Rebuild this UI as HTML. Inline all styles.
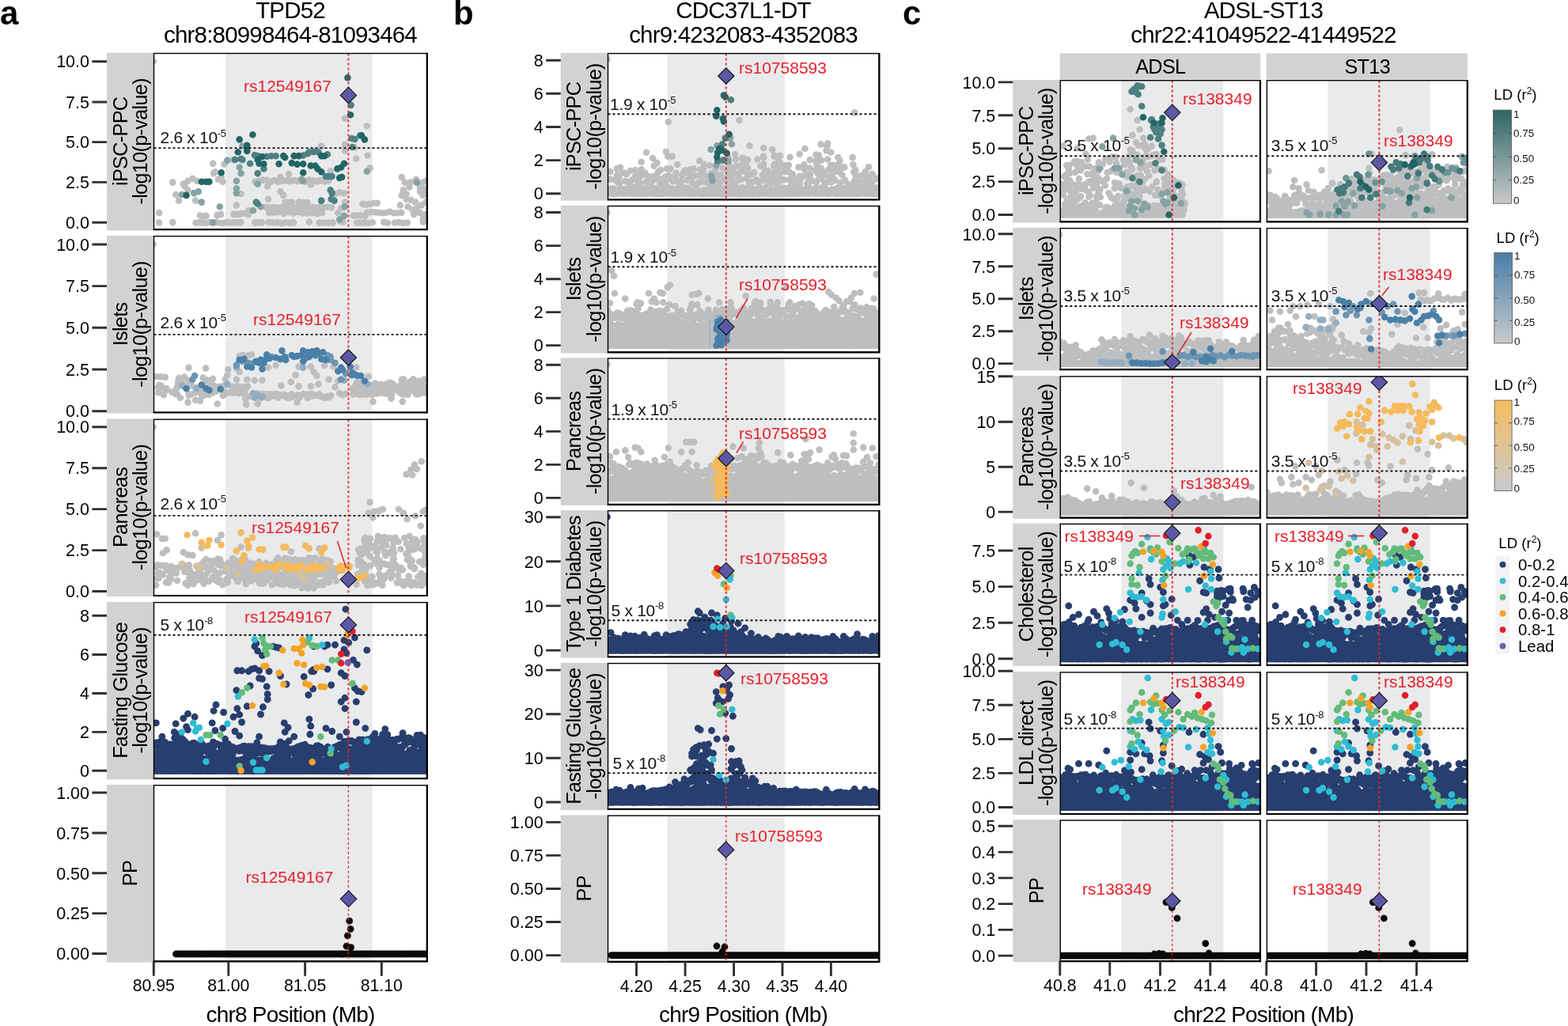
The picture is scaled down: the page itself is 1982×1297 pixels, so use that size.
<!DOCTYPE html>
<html lang="en"><head><meta charset="utf-8"><title>Colocalization locus plots</title>
<style>html,body{margin:0;padding:0;background:#fff;overflow:hidden}svg{display:block}text{font-family:"Liberation Sans",Arial,sans-serif}</style></head>
<body><svg width="1982" height="1297" viewBox="0 0 1982 1297">
<text x="0" y="31" font-size="42" font-weight="bold">a</text>
<text x="367" y="22.8" font-size="29.54" letter-spacing="-0.84" text-anchor="middle">TPD52</text>
<text x="367" y="54" font-size="29.54" letter-spacing="-0.84" text-anchor="middle">chr8:80998464-81093464</text>
<rect x="135" y="66.8" width="59.5" height="224.5" fill="#d1d2d4"/>
<text x="160.6" y="178.8" font-size="25.32" letter-spacing="-0.72" text-anchor="middle" transform="rotate(-90 160.6 178.8)">iPSC-PPC</text>
<text x="185.9" y="178.8" font-size="25.32" letter-spacing="-0.72" text-anchor="middle" transform="rotate(-90 185.9 178.8)">-log10(p-value)</text>
<path d="M116.4 77.7h18.6M116.4 129h18.6M116.4 179.6h18.6M116.4 230.4h18.6M116.4 281.2h18.6" stroke="#303030" stroke-width="2.9" fill="none"/>
<text x="113" y="85.4" font-size="21.5" text-anchor="end">10.0</text>
<text x="113" y="136.7" font-size="21.5" text-anchor="end">7.5</text>
<text x="113" y="187.3" font-size="21.5" text-anchor="end">5.0</text>
<text x="113" y="238.1" font-size="21.5" text-anchor="end">2.5</text>
<text x="113" y="288.9" font-size="21.5" text-anchor="end">0.0</text>
<clipPath id="c1"><rect x="194.5" y="67.5" width="345.5" height="222.5"/></clipPath>
<rect x="285" y="67.5" width="185.7" height="222.5" fill="#e9eaeb"/>
<g clip-path="url(#c1)" fill="none" stroke-linecap="round">
<path d="M193.8 77.6h0M247.4 281.8h0M251.8 281.2h0M256.1 281.4h0M260.5 281.8h0M264.9 280.9h0M269.3 281.4h0M273.7 280.9h0M278.1 281.7h0M282.4 282h0M286.8 280.9h0M291.2 281.5h0M295.6 281.3h0M300 281.4h0M304.3 281.1h0M201.1 281.4h0M218.3 281.1h0M201.1 269h0M322.2 281.4h0M326.7 281.1h0M331.1 281.4h0M339.8 280.9h0M345 281.5h0M350.2 281.1h0M355.4 281.9h0M360.6 281.3h0M365.8 281.7h0M371 281.4h0M390.9 280.5h0M403.4 281.6h0M409.1 281.5h0M414.9 281.8h0M420.6 281.5h0M430.7 280.2h0M433.6 280.4h0M450.9 281.5h0M455.9 281.6h0M460.9 281.4h0M465.9 281.8h0M470.8 281.3h0M485.3 280.9h0M490.1 281.7h0M499 281.5h0M504.3 281.1h0M509.5 282h0M514.8 281.5h0M534.7 280.5h0M252.9 272.4h0M256.7 273.5h0M260.5 272.8h0M274.4 271.9h0M279.2 271.1h0M295.4 270.9h0M300 270.7h0M304.6 270h0M309.2 269.7h0M313.8 271.1h0M335.8 261.7h0M340.7 262.2h0M345.6 262h0M350.5 262.5h0M355.4 262.2h0M360.3 261.8h0M365.2 262.4h0M370.1 262.8h0M375 262.9h0M379.9 262.9h0M384.8 261.5h0M389.7 261.3h0M394.6 261.8h0M399.5 262.5h0M404.4 261.4h0M409.3 262.3h0M414.2 261.8h0M419.1 262.2h0M340.3 268.9h0M346.3 268.7h0M352.4 268.3h0M358.5 269.9h0M364.5 268.3h0M370.6 269.7h0M376.7 267.9h0M382.7 269.5h0M388.8 269.5h0M394.9 269.1h0M401 270.1h0M407 269h0M360.5 255.8h0M365 255.7h0M369.5 255.8h0M378.1 255.3h0M383.2 256.1h0M388.3 256.1h0M339.1 251.7h0M354.5 242.1h0M358.3 246.9h0M338.2 235.4h0M392.8 233.5h0M322.4 229.7h0M327.3 228.5h0M332.2 227.6h0M337.1 227.7h0M342 229.8h0M346.8 228h0M351.7 229.8h0M356.6 228.7h0M361.5 228.4h0M366.4 229.1h0M371.3 228h0M376.2 229.1h0M381.1 228.7h0M386 229.6h0M390.8 227.6h0M395.7 228.3h0M400.6 229.4h0M405.5 228.1h0M410.4 229.5h0M415.3 228.4h0M354.5 223.9h0M365 220.1h0M365 227.8h0M417.7 216.3h0M218.3 230.6h0M231.8 232.6h0M237.5 228.7h0M243.3 225.8h0M249 228.7h0M237.5 240.2h0M233.7 235.4h0M222.2 246h0M226 253.6h0M247.1 253.6h0M270.1 219.1h0M275.9 226.8h0M281.6 229.7h0M269.2 206.7h0M283.5 207.6h0M287.4 202.8h0M295 201.9h0M272 217.2h0M279.7 223.9h0M507.8 223.9h0M526.1 226.8h0M511.7 230.6h0M519.4 230.3h0M527 231h0M534.7 230.6h0M538.5 228.7h0M509.8 240.2h0M517.4 236.4h0M530.9 237.3h0M536.6 239.3h0M507.8 246.9h0M513.6 245h0M530.9 242.1h0M534.7 246.9h0M538.5 244.1h0M513.6 251.7h0M525.1 255.6h0M519.4 252.7h0M505.9 259.4h0M515.5 261.3h0M527 263.2h0M532.8 259.4h0M538.5 255.6h0M523.2 270.9h0M534.7 276.6h0M530.9 269h0M538.5 270.9h0M521.3 265.1h0M463.8 159.3h0M450.3 200.5h0M464.7 196.5h0M467.6 212.4h0M436 149.7h0M436 182.7h0M436 190.4h0M406.2 184.6h0M448.4 186.5h0M429.2 243.1h0M435 244.1h0M423.5 245h0M436 255.6h0M458.4 257.9h0M463 258.6h0M467.6 258h0M472.2 256.7h0M476.8 256.8h0M464.2 268.8h0M469 268.3h0M473.8 268.2h0M478.6 268.8h0M483.4 269.3h0M488.2 268.7h0M493 267.7h0M497.8 269.3h0M502.6 269.2h0M507.4 268.8h0M447 272.6h0M451.8 272.3h0M456.6 272.4h0M461.4 272.9h0M298.9 259.4h0M304.6 245h0M302.7 270.9h0M314.2 266.1h0M427.3 269h0M431.2 263.2h0" stroke="#bdbec0" stroke-width="8.6"/>
<path d="M306.5 184.6h0M463.8 216.8h0M229.8 246h0M245.2 244.1h0M250.9 242.1h0M254.8 255.6h0M277.8 261.3h0M298.9 228.7h0M304.6 219.1h0M302.7 211.5h0M325.7 232.6h0M298.9 238.3h0M298.9 244.1h0M329.5 261.3h0M320 266.1h0M436 261.3h0M435 272.8h0M429.2 277.6h0M269.2 281.4h0M527 230.6h0M287.4 202.8h0M381.3 226.8h0M383.2 228.7h0" stroke="#86a3a4" stroke-width="8.6"/>
<path d="M443.6 132.9h0M304.6 200.9h0M297 201.9h0M306.5 201.9h0M321.9 196.1h0M325.7 197.1h0M337.2 197.7h0M343 197.3h0M348.7 197.3h0M383.2 196.5h0M389 194.2h0M390.9 192.3h0M396.6 191.9h0M402.4 192.3h0M413.9 195.2h0M415.8 223h0M419.7 223h0M412 223h0M444.6 175h0M448.4 176h0M445.5 186h0M325.7 219.1h0M333.4 213.4h0M316.1 206.7h0M417.7 240.2h0M419.7 244.1h0M406.2 253.6h0M418.7 251.7h0M422.5 253.6h0M323.8 255.6h0M325.7 257.5h0M455.1 171.2h0" stroke="#4d8081" stroke-width="8.6"/>
<path d="M439.4 98.3h0M443 145.3h0M319.4 170.2h0M302.7 176.4h0M312.3 183.7h0M300.8 192.3h0M312.3 190.9h0M358.3 197.1h0M360.2 199h0M371.7 197.1h0M377.5 197.1h0M406.2 197.1h0M410.1 197.3h0M327.6 206.7h0M333.4 207.2h0M352.6 207.2h0M368.8 206.1h0M375.6 207.6h0M383.2 207.2h0M392.8 209.5h0M398.6 209.5h0M401.4 213.4h0M406.2 217.2h0M383.2 218.2h0M435 206.7h0M431.2 211.5h0M426.4 213.4h0M432.1 223.9h0M429.2 224.9h0M457 171.2h0M460.9 176.4h0M279.7 218.2h0M254.8 229.7h0M260.5 229.7h0M264.4 229.7h0M235.6 246.9h0M325.7 201.9h0M331.5 198h0" stroke="#226565" stroke-width="8.6"/>
</g>
<line x1="194.5" y1="187.1" x2="540" y2="187.1" stroke="#111" stroke-width="1.9" stroke-dasharray="3 3"/>
<line x1="440.4" y1="67.5" x2="440.4" y2="290" stroke="#e8202a" stroke-width="1.8" stroke-dasharray="3 3"/>
<path clip-path="url(#c1)" d="M440.4 110.2l10.2 10.2l-10.2 10.2l-10.2 -10.2z" fill="#5d58a6" stroke="#111" stroke-width="1.1"/>
<text x="202.5" y="181.2" font-size="21" letter-spacing="-0.3" fill="#111">2.6 x 10<tspan font-size="13" dy="-8.5">-5</tspan></text>
<text x="308" y="116" font-size="21" fill="#e8202a">rs12549167</text>
<rect x="194.5" y="67.5" width="345.5" height="222.5" fill="none" stroke="#000" stroke-width="1.4"/>
<path d="M193.8 290.2H539.8V66.8" fill="none" stroke="#000" stroke-width="2.2"/>
<rect x="135" y="297.9" width="59.5" height="224.7" fill="#d1d2d4"/>
<text x="160.6" y="409.9" font-size="25.32" letter-spacing="-0.72" text-anchor="middle" transform="rotate(-90 160.6 409.9)">Islets</text>
<text x="185.9" y="409.9" font-size="25.32" letter-spacing="-0.72" text-anchor="middle" transform="rotate(-90 185.9 409.9)">-log10(p-value)</text>
<path d="M116.4 309h18.6M116.4 361.6h18.6M116.4 414.3h18.6M116.4 467h18.6M116.4 519.7h18.6" stroke="#303030" stroke-width="2.9" fill="none"/>
<text x="113" y="316.7" font-size="21.5" text-anchor="end">10.0</text>
<text x="113" y="369.3" font-size="21.5" text-anchor="end">7.5</text>
<text x="113" y="422" font-size="21.5" text-anchor="end">5.0</text>
<text x="113" y="474.7" font-size="21.5" text-anchor="end">2.5</text>
<text x="113" y="527.4" font-size="21.5" text-anchor="end">0.0</text>
<clipPath id="c2"><rect x="194.5" y="298.6" width="345.5" height="222.7"/></clipPath>
<rect x="285" y="298.6" width="185.7" height="222.7" fill="#e9eaeb"/>
<g clip-path="url(#c2)" fill="none" stroke-linecap="round">
<path d="M193.8 308.8h0M197.3 476h0M203 476.4h0M208.8 476.9h0M309.1 499.2h0M203.9 487.7h0M295 496.4h0M275.6 490.7h0M268.1 494.7h0M265.2 488.6h0M247.6 491.8h0M281.8 499.9h0M308.3 493.8h0M249.3 490.1h0M201.5 486.9h0M251.6 490.8h0M241.7 498.5h0M258.7 494h0M224.9 486.8h0M235.3 488.4h0M256.9 499.9h0M276.1 489h0M301.8 497.2h0M283.1 498.7h0M286.5 497.1h0M238.6 499.7h0M309.8 488.7h0M285.4 496.1h0M251.2 493.6h0M254.6 498.9h0M255.8 497.7h0M238.6 498.4h0M302.5 492.7h0M263.6 498.9h0M281.9 493h0M223.2 490.9h0M279.1 488.7h0M303.4 490.1h0M303.8 490.7h0M309.2 496h0M256.2 493.5h0M273.4 494.4h0M233.7 489.3h0M257.1 499.1h0M270.1 487.5h0M293.2 496.3h0M303.4 489.1h0M284.4 487.3h0M273.6 490.2h0M223.8 498.3h0M209.7 493.5h0M297.1 489.8h0M221.9 498.3h0M246.7 496.1h0M201 491.4h0M217.4 495.5h0M207 499.3h0M200.2 496.3h0M199.7 489.9h0M292.4 488.6h0M218.7 495.8h0M242.3 487.1h0M313 488.6h0M201.5 491.1h0M269.2 496.5h0M210.5 491h0M200.9 492.5h0M286.8 496.4h0M302.7 496.7h0M298.1 496h0M252.5 489.5h0M274.5 490.8h0M209.2 492.5h0M299.6 488.2h0M261.1 480.5h0M256.7 477.6h0M284.8 479h0M262.4 480.8h0M225.2 482.4h0M233 476.6h0M226.2 477.8h0M230.2 483.3h0M256.3 487.3h0M283.2 487.4h0M238.8 481.1h0M240 482.8h0M263.6 485.2h0M269 478.9h0M369.9 500.7h0M333.8 498h0M368.6 498.4h0M395.8 499.1h0M342 498.8h0M353.4 499h0M378.3 500.3h0M360.1 501.3h0M351.7 502.7h0M416.5 501.7h0M370.8 500.6h0M383.5 498.1h0M369.4 500.6h0M349 498.3h0M402.6 499.8h0M378.2 502.8h0M386.1 499.4h0M418.2 499.8h0M335 501.5h0M342.1 499.5h0M405.9 501.4h0M334.7 500.3h0M368.8 500.4h0M351.3 501h0M339.7 499.4h0M365.6 502.9h0M340 501.9h0M350 500.9h0M367.2 500.3h0M398.4 500h0M343.9 498.5h0M340.3 502.4h0M388.7 503h0M393.1 498h0M390.2 502h0M395.8 500.5h0M364.2 500.3h0M402.3 499.3h0M378.8 500.4h0M415.7 502.1h0M413.8 502.3h0M359 499.1h0M375.6 499.2h0M370.3 501.5h0M412.6 501h0M403.9 498.3h0M364.1 503.2h0M346 500.1h0M339.1 498.3h0M410.6 503.1h0M389.3 498.5h0M359 499.1h0M391.2 501.5h0M371.2 500.6h0M343 500.7h0M337.9 502.9h0M316.6 501h0M332 499h0M336.5 500.6h0M331.7 500.2h0M339 503.1h0M328.5 498.2h0M325.2 497.3h0M329 503.8h0M318.7 501h0M489.9 489.8h0M511.3 498.3h0M510.8 490.9h0M535 488.6h0M514.6 493.9h0M516.1 497h0M465.7 493.3h0M482.4 494h0M536.4 493.5h0M445.7 490.7h0M511.4 497.5h0M505.7 496.4h0M446.2 498.4h0M513.1 493h0M529.6 497.5h0M454 496.4h0M516.6 486.5h0M514.5 492.7h0M462.6 496.2h0M457.5 493.1h0M485.4 487.3h0M497.8 490.8h0M463.8 498.8h0M451.4 483.3h0M490.2 496.7h0M506.4 495.4h0M490.1 494.1h0M476 487.6h0M491.8 483.7h0M452.1 495.4h0M460.9 495.3h0M518.3 489.8h0M508 495.9h0M525.8 485.4h0M459.9 489.4h0M488.2 488h0M445.6 492.2h0M535.4 489.2h0M495.1 489.4h0M486.2 497.3h0M473.6 493.7h0M490 491.9h0M530.5 484.5h0M522 488.2h0M505.3 496.1h0M506 489.6h0M523.6 484.8h0M504.1 489.6h0M494.4 497h0M519.5 493.4h0M473.5 487h0M487.6 487h0M470.6 498.7h0M455.1 496.4h0M480.2 489.1h0M474.5 484.5h0M487.5 485.9h0M486.1 488h0M528.6 498.1h0M486.1 493.6h0M531.9 488.5h0M453.9 487.1h0M462.4 494.2h0M479.7 489h0M519.3 487h0M520.5 493.5h0M482.2 496.5h0M476.7 497.4h0M531.6 491.4h0M509.4 498.5h0M514.3 495.4h0M526.2 498.3h0M515.4 499h0M472 493.3h0M507.6 489.2h0M481.7 486.1h0M534.6 489h0M489.4 497.6h0M462.1 498.7h0M456.5 483.7h0M477.5 489h0M530.8 497.5h0M516.1 490.3h0M495.6 487.1h0M522.9 489.5h0M471.3 493.5h0M458.7 488.4h0M531.6 484.8h0M457.9 486.5h0M468.2 490h0M468.1 488.8h0M467.7 487.1h0M501.9 488.7h0M479.6 495.6h0M450.4 485.6h0M524.5 490.2h0M517.7 485.4h0M493.7 496.9h0M476.3 495.6h0M501.9 489.6h0M538.3 489.6h0M489.1 493.2h0M474.3 496.7h0M500.7 492.7h0M495.2 499.1h0M537.5 496.8h0M487.3 489.9h0M493.9 484h0M454.8 499.3h0M456.6 498.4h0M508.4 498h0M451.8 488.2h0M519.5 483.4h0M454.5 488.9h0M460.8 485.6h0M507.5 484.7h0M535.8 493.7h0M449.3 497.7h0M467.3 491h0M497.1 485.5h0M522.3 479.2h0M512.4 484.1h0M532.7 481.9h0M528.2 483.9h0M510.5 481.7h0M510.2 479.5h0M509.5 480.1h0M507.7 480.1h0M518.3 482.4h0M533.9 484h0M529.3 481.8h0M535.8 479.8h0M238.5 464.9h0M260.1 465.6h0M288.3 467.3h0M287.4 474.1h0M302.7 450.1h0M306.5 449.1h0M318 448.2h0M314.2 449.1h0M348.7 461.6h0M377.5 463.5h0M383.2 464.5h0M392.8 463.5h0M396.6 470.2h0M400.5 475h0M373.6 474.1h0M367.9 482.7h0M355.4 487.5h0M377.5 488.4h0M392.8 488.4h0M402.4 485.6h0M298.9 479.8h0M312.3 479.8h0M321.9 480.8h0M331.5 480.8h0M302.7 470.2h0M415.8 479.8h0M423.5 489.4h0M427.3 481.7h0M433.1 499h0M410.1 461.6h0M450.3 464.5h0M465.7 476h0M227.9 502.8h0M237.5 508.6h0M247.1 505.7h0M252.9 506.6h0M274.9 510.5h0M311.3 511.4h0M325.7 510.5h0M375.6 508.6h0M471.4 507.6h0M494.4 503.8h0M508.8 507.6h0M310.4 504.7h0M436.9 498h0M429.2 497.1h0M421.6 463.5h0M339.1 464.5h0" stroke="#bdbec0" stroke-width="8.6"/>
<path d="M229.8 487.5h0M248.1 491.3h0M287.4 485.6h0M298.9 464.5h0M320 497.1h0M325.7 499.9h0M331.5 501.9h0M321.9 502.8h0M464.7 485.6h0M383.2 464.5h0M435 480.8h0" stroke="#94adc2" stroke-width="8.6"/>
<path d="M298.9 461.6h0M306.5 456.8h0M314.2 458.7h0M321.9 457.8h0M343 451h0M417.7 454.9h0M423.5 458.7h0M413.9 449.1h0M417.7 451h0M436.9 472.1h0M246.1 475h0M243.3 479.8h0M452.2 475h0M431.2 479.8h0" stroke="#6c95b4" stroke-width="8.6"/>
<path d="M302.7 454.9h0M308.5 453.9h0M312.3 463.5h0M318 464.5h0M323.8 456.8h0M329.5 454.9h0M333.4 458.7h0M337.2 448.2h0M341 453h0M331.5 466.4h0M348.7 452h0M354.5 453.9h0M356.4 443.4h0M360.2 451h0M361.2 454.9h0M368.8 449.1h0M375.6 450.1h0M381.3 449.1h0M383.2 443.4h0M386.1 453h0M389 445.3h0M394.7 444.3h0M400.5 443.4h0M408.2 445.3h0M406.2 453.9h0M412 454.9h0M398.6 449.1h0M390.9 451h0M383.2 456.8h0M431.2 464.5h0M427.3 469.3h0M433.1 467.3h0M442.7 463.5h0M445.5 471.2h0M444.6 474.1h0M456.1 475h0M460.9 481.7h0M450.3 474.1h0M235.6 491.3h0M264.4 493.2h0M260.5 491.3h0M278.7 491.9h0M254.8 486.5h0M327.6 458.7h0M335.3 454.9h0M371.7 451h0M402.4 446.3h0" stroke="#4a80a8" stroke-width="8.6"/>
</g>
<line x1="194.5" y1="422.9" x2="540" y2="422.9" stroke="#111" stroke-width="1.9" stroke-dasharray="3 3"/>
<line x1="440.4" y1="298.6" x2="440.4" y2="521.3" stroke="#e8202a" stroke-width="1.8" stroke-dasharray="3 3"/>
<path clip-path="url(#c2)" d="M440.4 441.8l10.2 10.2l-10.2 10.2l-10.2 -10.2z" fill="#5d58a6" stroke="#111" stroke-width="1.1"/>
<text x="202.5" y="414.7" font-size="21" letter-spacing="-0.3" fill="#111">2.6 x 10<tspan font-size="13" dy="-8.5">-5</tspan></text>
<text x="320" y="411" font-size="21" fill="#e8202a">rs12549167</text>
<rect x="194.5" y="298.6" width="345.5" height="222.7" fill="none" stroke="#000" stroke-width="1.4"/>
<path d="M193.8 521.5H539.8V297.9" fill="none" stroke="#000" stroke-width="2.2"/>
<rect x="135" y="529.5" width="59.5" height="224.6" fill="#d1d2d4"/>
<text x="160.6" y="641.5" font-size="25.32" letter-spacing="-0.72" text-anchor="middle" transform="rotate(-90 160.6 641.5)">Pancreas</text>
<text x="185.9" y="641.5" font-size="25.32" letter-spacing="-0.72" text-anchor="middle" transform="rotate(-90 185.9 641.5)">-log10(p-value)</text>
<path d="M116.4 539.7h18.6M116.4 591.7h18.6M116.4 643.6h18.6M116.4 695.6h18.6M116.4 747.5h18.6" stroke="#303030" stroke-width="2.9" fill="none"/>
<text x="113" y="547.4" font-size="21.5" text-anchor="end">10.0</text>
<text x="113" y="599.4" font-size="21.5" text-anchor="end">7.5</text>
<text x="113" y="651.3" font-size="21.5" text-anchor="end">5.0</text>
<text x="113" y="703.3" font-size="21.5" text-anchor="end">2.5</text>
<text x="113" y="755.2" font-size="21.5" text-anchor="end">0.0</text>
<clipPath id="c3"><rect x="194.5" y="530.2" width="345.5" height="222.6"/></clipPath>
<rect x="285" y="530.2" width="185.7" height="222.6" fill="#e9eaeb"/>
<g clip-path="url(#c3)" fill="none" stroke-linecap="round">
<path d="M193.8 539.7h0M532.8 583.3h0M524.1 587.5h0M527 592.9h0M519.4 593.8h0M513.6 599.6h0M521.3 600.5h0M467.6 635h0M465.7 648.5h0M471.4 654.2h0M473.3 646.5h0M479.1 645.6h0M483.9 643.7h0M504 643.7h0M509.8 648.5h0M514.6 656.1h0M525.1 652.3h0M534.7 646.5h0M531.8 664.8h0M538.5 644.6h0M198.2 675.3h0M204.9 681h0M208.8 681h0M247.1 674.3h0M279.7 676.3h0M274.9 683h0M210.7 695.4h0M205.9 699.3h0M231.8 698.3h0M237.5 701.2h0M243.3 702.1h0M367.9 697.3h0M304.6 691.6h0M403.4 693.5h0M297.8 723.8h0M320.5 725.9h0M364.7 707.3h0M259 733.9h0M301.4 713.1h0M428.5 721.2h0M401 721.5h0M367 710.2h0M366.2 735h0M347 730.6h0M372.5 707.2h0M387.5 725.4h0M308.7 706.1h0M406 721.3h0M380.7 735.3h0M379.9 736.8h0M324.8 732.7h0M333.4 737.3h0M408.3 708.4h0M280.2 712.5h0M423.3 720.1h0M364.8 715.4h0M344.2 718.3h0M317.2 725.2h0M357.5 736.2h0M374.4 737.1h0M404.5 739.2h0M372.5 710.6h0M405.2 738.3h0M412.8 724.7h0M379.9 712.3h0M400.2 724.8h0M305.9 707.2h0M404 739.2h0M272 732.6h0M327.5 710.2h0M307.4 731.5h0M407.3 706.5h0M362.7 706.6h0M380.7 716.4h0M408.7 738.9h0M343.9 739.5h0M310.1 707.7h0M360.2 706.1h0M290.7 719.1h0M362 710.4h0M264 735h0M310.8 738.1h0M411.4 718.1h0M336.1 723h0M367.8 725.6h0M353.2 726.4h0M419 722.5h0M331.1 729.9h0M297.7 715.4h0M425.4 723h0M351.3 705.4h0M328.3 725h0M260.2 726.3h0M365.8 707.1h0M364.9 721.1h0M373.9 717.2h0M378.7 730.5h0M260.5 707.1h0M373.3 738.3h0M300 720.8h0M359 716.1h0M319.5 715.8h0M320.4 725.6h0M308.5 718h0M389.9 705.9h0M354.9 730.4h0M310.2 712.7h0M395.4 713.3h0M289 720h0M377.1 708.5h0M312.2 716.5h0M400.5 720.1h0M404.3 710.9h0M314.8 727.5h0M409.4 720.6h0M295.5 709.2h0M348.1 711.6h0M395.9 734h0M288.4 714.6h0M396 727.2h0M395.8 716.9h0M279.1 715.1h0M393.7 714.4h0M316.5 719.4h0M329.1 719.1h0M415.5 710.4h0M257.5 737.6h0M408.5 739.1h0M331.6 737.8h0M416.7 712.7h0M385.3 733.9h0M371.1 722.9h0M306.6 716.8h0M295.9 707.4h0M358.3 714.9h0M396.5 706.6h0M412.6 729h0M416.1 736h0M411.9 724.9h0M259 730.7h0M286.3 715.4h0M371.1 723.1h0M328.1 737.4h0M362.3 716.8h0M300.3 734.8h0M339 732h0M317.4 711.8h0M348.9 733.2h0M286.2 732.3h0M415.7 732.8h0M398.8 705.3h0M365.2 734.8h0M265.3 714.4h0M303 723.2h0M329.7 721.3h0M390.7 705.1h0M266.2 709.4h0M278.2 707.4h0M424.9 734.5h0M271.6 722.3h0M311.2 715.9h0M317.3 727.3h0M357.9 717.5h0M289.7 716.4h0M278 724.2h0M380.2 718.1h0M270.5 711.2h0M321.1 725.9h0M391.7 718.1h0M394.9 726.5h0M331.2 717.9h0M342.3 729.3h0M329.3 729h0M336.2 713.5h0M349.2 729h0M269 719.7h0M330.2 735.4h0M418.3 717.9h0M411.6 732.3h0M301.9 721h0M277.9 733.1h0M371 735.6h0M393.4 728.1h0M383.3 724.5h0M274.5 725.3h0M257.5 710h0M390.3 706.5h0M272.5 708.4h0M408.6 711.2h0M260.7 734.1h0M277.6 734.1h0M372.9 733.9h0M421 725h0M394.5 706.3h0M389.1 722.7h0M380.1 708.7h0M385.9 737.3h0M267.2 716.2h0M354 733.6h0M298.5 711.2h0M299.8 726.3h0M386.7 718.6h0M320.1 718.7h0M317.1 719.4h0M271.1 722.3h0M424.6 719.3h0M385.7 710.6h0M375.9 731.1h0M373 722.9h0M340.2 727.2h0M411.5 710.2h0M273.2 730.8h0M414.9 722.9h0M333.1 729.8h0M288.8 714.2h0M291.1 725.2h0M311 713h0M375.9 737.9h0M307.7 729.4h0M328 734.5h0M357.6 714.2h0M294.2 705.8h0M339.4 718.2h0M286.4 717.5h0M312.3 731.7h0M281.5 739.2h0M339.4 725.7h0M337.5 733.8h0M398.5 724.2h0M339.7 729.9h0M404.5 718.8h0M383.3 738.2h0M337.3 712.9h0M297.2 729.8h0M373.2 738.1h0M404 713.4h0M289.4 713.9h0M289 729.3h0M404.8 736.1h0M300.7 734.9h0M310.8 719.6h0M382.5 708h0M272.7 733.8h0M307 717.3h0M356.8 728.3h0M257.9 716.6h0M332 721.8h0M292.9 725.2h0M421.5 718.5h0M350.6 709.1h0M304.1 728h0M276.1 735.6h0M413.5 708.4h0M419.1 717.9h0M390 731.2h0M307.7 728.3h0M369.6 732.8h0M302.5 731h0M422.6 728.2h0M349.2 708.9h0M341.9 717.2h0M380.6 728.4h0M354.4 711.3h0M368.1 726.8h0M287.6 735.7h0M369.8 709.3h0M417.5 709.9h0M313.9 729.9h0M359.8 724.2h0M368.4 720.8h0M310.6 711.1h0M268.5 729.7h0M386.9 723.8h0M384.3 717.4h0M302.6 718.2h0M407.2 706.5h0M343.8 713.5h0M389.4 717.2h0M314.1 718.9h0M350.1 731.6h0M317.6 734.2h0M276 714.3h0M273.9 708.9h0M391.1 730.1h0M288.6 711.5h0M328.6 730.7h0M397.4 730.9h0M358.8 710.1h0M325.4 711.7h0M347.7 724.6h0M291.6 713.6h0M391.6 706.1h0M395.3 735.8h0M420.5 718.2h0M352 725.1h0M366 738.7h0M375.2 715.3h0M405.1 721.7h0M360.5 730.1h0M257.1 731.6h0M370.9 722h0M347 720.9h0M290.1 723.3h0M263.1 722.3h0M368.2 720.3h0M354.4 738.1h0M410.6 709.7h0M393.4 726.5h0M265.4 717.4h0M297 707.7h0M349.7 737.1h0M312.4 735.1h0M376.6 709.7h0M404.8 725.8h0M416.6 729.7h0M384.3 716.9h0M395.9 737.2h0M405.3 720.1h0M387.3 721.8h0M275.5 706.5h0M270.1 711.9h0M284.4 722.2h0M377.4 723.6h0M329.5 727.4h0M309.3 721h0M387.3 718.9h0M287.9 736.1h0M380.9 717.7h0M320.7 723.3h0M359.6 712.7h0M257.2 712.2h0M391.8 710h0M336.1 711.8h0M292.8 710.9h0M220.1 718.2h0M197 716.6h0M205.7 726.8h0M199 714.2h0M222.8 724.6h0M238.5 715h0M220.1 724.3h0M197 739.6h0M208.8 716.2h0M224.5 718.1h0M233.5 722.9h0M202.9 715h0M240 721h0M243.7 726.1h0M252.6 721.7h0M210.7 720.8h0M245.3 730.5h0M216.5 716.2h0M237.2 739.7h0M231.7 713.7h0M197.2 716.1h0M205.8 714.6h0M198.6 731.2h0M250.6 719h0M255.1 726.4h0M244.6 738.3h0M253 714.6h0M214 729.9h0M253.4 716h0M213.3 736.5h0M202.4 724.1h0M215.8 731.9h0M252.3 718.3h0M240.7 733.3h0M246.6 728.5h0M252 723.4h0M220.8 719.8h0M243.2 726.5h0M211.9 718.2h0M239.6 729.9h0M238.9 724h0M225.2 717.8h0M238.9 714.3h0M224 734h0M236.9 716.2h0M209.9 736.3h0M234.7 737.2h0M248.9 725.7h0M250.4 733.3h0M215.8 723.6h0M199.8 724.4h0M254 716.5h0M230.2 716.6h0M200.3 731.1h0M210.1 715h0M462.2 720h0M501.2 683.6h0M469.1 738.6h0M468.2 715.3h0M486.2 727.9h0M502.9 728.3h0M496.6 693.8h0M464.4 687.5h0M522.8 689.4h0M450.6 738.6h0M466.4 734.3h0M456.1 709.7h0M468.5 730.7h0M503.9 719.9h0M517 733.1h0M479.6 717.7h0M488.6 689.3h0M523.7 717.2h0M521.8 694.8h0M497 709.7h0M514 687.4h0M479.6 710.8h0M454.9 714.8h0M514.7 707.3h0M506.8 717.8h0M467.7 703.1h0M538.1 702.2h0M487.2 687.8h0M468 692.5h0M532.3 724.7h0M527.2 739.7h0M503.6 736.5h0M496.7 707.1h0M533.8 734.9h0M534 710.8h0M518.1 706.4h0M538.3 735.9h0M474.7 736.7h0M465 688.5h0M513.5 699.9h0M495.2 719.7h0M452.1 725.8h0M473.3 707.8h0M479.5 725.6h0M515.7 699.5h0M457.7 700.2h0M485.5 687.4h0M462.2 726.8h0M511.5 739.1h0M536.7 733.4h0M482 692.2h0M476.5 709.6h0M495.8 714.1h0M480.8 732h0M474.1 709.6h0M528.3 729.4h0M475.2 696.9h0M521.1 683.5h0M460.3 713.5h0M496.7 692.5h0M452.9 694.7h0M517.8 709.8h0M536.7 728.1h0M536.7 685h0M465.1 683.7h0M487.4 702.4h0M453 714.4h0M456.9 700.9h0M470.7 729.1h0M486.1 697.9h0M452.4 707.7h0M505 721.8h0M530.6 729.5h0M470.7 690.8h0M516.7 728.4h0M494.3 730.8h0M498.1 699h0M463.6 683.9h0M506.4 734.6h0M530.1 709.9h0M508.4 736.4h0M521.8 717.6h0M485.8 712.8h0M463.8 693.5h0M510 740h0M497.7 706.4h0M480.1 709.1h0M520.8 709h0M534.9 691.9h0M476.8 713h0M485.5 731.9h0M523 736.5h0M503.6 684.7h0M500.2 714.6h0M492.4 699.1h0M512.3 735.4h0M457.6 721.4h0M481.9 712.6h0M529.1 738.2h0M506.4 694.2h0M531.4 693.4h0M483 730.6h0M476.9 698.5h0M534 737.3h0M477 705.5h0M473.8 690.5h0M471 739.3h0M455.6 696.2h0M466.4 687.5h0M495.8 725.7h0M524 719.3h0M522.1 683.3h0M473.8 738.3h0M454.7 698.4h0M491.9 698.4h0M497.6 685.7h0M469.7 738h0M461.4 735h0M464.4 740.1h0M509.2 720.2h0M461.2 686.1h0M516.9 693.1h0M465.5 730.3h0M527.2 685.8h0M535 713.7h0M482.9 689.1h0M483.5 739.8h0M473.7 690.5h0M461.5 690.3h0M480.2 735.6h0M455.4 694h0M533.1 740.3h0M536.7 697.1h0M480.3 737.7h0M492.1 723.4h0M476.6 684.2h0M479.5 726h0M518.9 715.7h0M490.2 713.9h0M488.3 713.7h0M523.5 694.5h0M502 736.6h0M524.9 693.3h0M535.2 731.3h0M463.5 698.3h0M466.6 686h0M536.6 706.5h0M527.1 689.6h0M449.7 733h0M520 740h0M511.3 680.2h0M517.8 677.7h0M499.6 679.8h0M467.9 680.7h0M482.1 680.1h0M486.2 679h0M484.9 680.7h0M535 682.6h0M525.5 682h0M479.2 682.8h0M477.8 677.9h0M496.4 681.4h0M483.5 680.9h0M478.8 682.8h0M492.6 680h0M498.9 682.2h0M535.5 680.3h0M491.6 680.8h0M461.7 679.7h0M524.3 681.7h0M460.9 682.1h0M487 682.9h0M377.2 738.3h0M389.4 743.4h0M381.5 743.3h0M400.3 739.4h0M372.7 740.5h0M379.3 739.5h0M396.3 743.4h0M391.8 737.8h0M367.3 739.5h0M393.8 737.7h0M358 739.1h0M371.5 736.9h0M388.7 743.7h0M388.4 742.3h0" stroke="#bdbec0" stroke-width="8.6"/>
<path d="M229.8 712.7h0M248.1 715.6h0M252.9 717.5h0M254.8 692.6h0M287.4 717.5h0M300.8 725.1h0M321.9 720.4h0M384.2 730.9h0M379.4 725.1h0M412.9 710.8h0M417.7 715.6h0M314.2 692.6h0M402.4 719.4h0" stroke="#d5c0a0" stroke-width="8.6"/>
<path d="M236.6 676.3h0M304.6 673.4h0M319 679.5h0M312.3 683.9h0M314.2 690.6h0M264.4 683h0M262.4 689.7h0M254.8 685.8h0M279.7 688.7h0M327.6 694.5h0M332.4 694.9h0M358.3 691.6h0M361.2 691.6h0M386.1 689.7h0M390.9 693.5h0M410.1 692.6h0M406.2 698.3h0M298.9 696.4h0M308.5 702.1h0M305.6 709.8h0M456.1 729.9h0M460.9 728h0M452.2 730.9h0M394.9 719.4h0M402.4 716.7h0M382.1 714.5h0M399.5 716.3h0M363.8 719.8h0M347.2 715h0M394.5 717.8h0M329.4 713.8h0M352.9 713.7h0M395.3 714.9h0M346.1 716.3h0M367 716.6h0M377.3 718.2h0M360.3 714.3h0M408.2 718.4h0M329.2 716.7h0M388.3 720.5h0M327.7 713.7h0M364.2 716.6h0M400.8 719.3h0M351.1 716.5h0M373.3 719.7h0M339.7 716.3h0M329.7 718.1h0M324.2 720.1h0M368.1 717.6h0M329.4 715.2h0M363.2 719.6h0M369.4 715.6h0M408.5 718.2h0M368.5 715h0M348.2 719.9h0M333.6 717.3h0M376.6 716.1h0M389.7 719.9h0M397.5 718.7h0M430.4 715.4h0M434 717.1h0M430.3 721h0M430.6 720.7h0M441.7 715.8h0M441.3 717.7h0M430.6 716.3h0M427.9 718.4h0M433.2 720.9h0M440.1 715.4h0" stroke="#f5ba5c" stroke-width="8.6"/>
</g>
<line x1="194.5" y1="651.9" x2="540" y2="651.9" stroke="#111" stroke-width="1.9" stroke-dasharray="3 3"/>
<line x1="440.4" y1="530.2" x2="440.4" y2="752.8" stroke="#e8202a" stroke-width="1.8" stroke-dasharray="3 3"/>
<line x1="426.5" y1="684" x2="437.5" y2="718" stroke="#e8202a" stroke-width="1.5"/>
<path clip-path="url(#c3)" d="M440.4 722.2l10.2 10.2l-10.2 10.2l-10.2 -10.2z" fill="#5d58a6" stroke="#111" stroke-width="1.1"/>
<text x="202.5" y="643.7" font-size="21" letter-spacing="-0.3" fill="#111">2.6 x 10<tspan font-size="13" dy="-8.5">-5</tspan></text>
<text x="318" y="673.5" font-size="21" fill="#e8202a">rs12549167</text>
<rect x="194.5" y="530.2" width="345.5" height="222.6" fill="none" stroke="#000" stroke-width="1.4"/>
<path d="M193.8 753H539.8V529.5" fill="none" stroke="#000" stroke-width="2.2"/>
<rect x="135" y="760.9" width="59.5" height="224.4" fill="#d1d2d4"/>
<text x="160.6" y="872.8" font-size="25.32" letter-spacing="-0.72" text-anchor="middle" transform="rotate(-90 160.6 872.8)">Fasting Glucose</text>
<text x="185.9" y="872.8" font-size="25.32" letter-spacing="-0.72" text-anchor="middle" transform="rotate(-90 185.9 872.8)">-log10(p-value)</text>
<path d="M116.4 778.2h18.6M116.4 827.5h18.6M116.4 876.5h18.6M116.4 925.4h18.6M116.4 974.3h18.6" stroke="#303030" stroke-width="2.9" fill="none"/>
<text x="113" y="785.9" font-size="21.5" text-anchor="end">8</text>
<text x="113" y="835.2" font-size="21.5" text-anchor="end">6</text>
<text x="113" y="884.2" font-size="21.5" text-anchor="end">4</text>
<text x="113" y="933.1" font-size="21.5" text-anchor="end">2</text>
<text x="113" y="982" font-size="21.5" text-anchor="end">0</text>
<clipPath id="c4"><rect x="194.5" y="761.6" width="345.5" height="222.4"/></clipPath>
<rect x="285" y="761.6" width="185.7" height="222.4" fill="#e9eaeb"/>
<g clip-path="url(#c4)" fill="none" stroke-linecap="round">
<path d="M188.0 978.8V952.8L194.0 952.8L196.6 952.6L199.2 952.2L201.8 951.5L204.4 950.5L207.0 951.8L209.6 952.0L212.2 953.7L214.8 953.6L217.4 953.7L220.0 953.0L222.6 952.0L225.2 951.4L227.8 949.9L230.4 949.5L233.0 951.2L235.6 952.9L238.2 954.1L240.8 953.4L243.4 952.7L246.0 952.5L248.6 953.7L251.2 954.5L253.8 954.7L256.4 954.2L259.0 955.3L261.6 955.6L264.2 954.9L266.8 954.6L269.4 954.2L272.0 952.9L274.6 953.3L277.2 954.1L279.8 955.8L282.4 954.5L285.0 954.5L287.6 953.4L290.2 955.3L292.8 955.7L295.4 957.0L298.0 956.8L300.6 956.7L303.2 956.5L305.8 955.4L308.4 955.1L311.0 955.8L313.6 955.5L316.2 955.4L318.8 955.6L321.4 955.7L324.0 956.7L326.6 956.4L329.2 956.8L331.8 956.2L334.4 956.7L337.0 957.0L339.6 957.3L342.2 957.4L344.8 958.4L347.4 957.0L350.0 957.0L352.6 955.3L355.2 956.0L357.8 955.8L360.4 956.2L363.0 956.3L365.6 956.0L368.2 957.5L370.8 957.7L373.4 957.1L376.0 955.7L378.6 955.0L381.2 954.5L383.8 954.6L386.4 953.9L389.0 956.1L391.6 956.6L394.2 960.0L396.8 958.2L399.4 958.0L402.0 954.8L404.6 955.7L407.2 957.3L409.8 957.6L412.4 958.3L415.0 957.8L417.6 958.9L420.2 957.3L422.8 956.1L425.4 955.1L428.0 956.4L430.6 954.0L433.2 953.5L435.8 951.3L438.4 951.5L441.0 950.9L443.6 950.7L446.2 951.7L448.8 951.8L451.4 951.5L454.0 949.9L456.6 949.8L459.2 950.0L461.8 950.4L464.4 949.8L467.0 949.6L469.6 949.9L472.2 950.7L474.8 950.0L477.4 949.6L480.0 949.2L482.6 947.4L485.2 947.0L487.8 946.4L490.4 948.9L493.0 950.3L495.6 950.1L498.2 950.2L500.8 949.4L503.4 949.5L506.0 948.7L508.6 948.6L511.2 949.3L513.8 948.5L516.4 948.3L519.0 949.0L521.6 950.1L524.2 950.4L526.8 949.6L529.4 949.6L532.0 949.6L534.6 948.1L537.2 948.4L539.8 948.4L542.4 949.1H547.0V978.8z" fill="#283e6e" stroke="none"/>
<path d="M193.2 939.7h0M195 951.7h0M195.1 941.5h0M196.9 939.3h0M197 942.8h0M196.7 942.6h0M199.6 938.7h0M200.3 950.4h0M198.1 939.5h0M202.7 937.6h0M200.6 943.6h0M200.8 939.5h0M204.7 936.2h0M203.5 951h0M204.6 943h0M207.9 938.2h0M205.7 950.6h0M205.7 939.6h0M208.8 938.5h0M210.3 941.9h0M209.7 940.7h0M211.6 941.1h0M211.8 946.4h0M212.9 942.9h0M214.9 940.9h0M213.6 954.1h0M214.8 947.4h0M217.6 941.1h0M217 953.4h0M217.5 944.9h0M220.7 932.8h0M220.1 953.1h0M220.7 949.8h0M222.1 938.5h0M223.8 947.2h0M221.6 952.1h0M226 937.6h0M225 946.1h0M225.9 940.3h0M227.2 927.8h0M228.7 947.5h0M228.6 945.7h0M231.1 934.7h0M229.5 948.9h0M230 944.2h0M233.8 937.3h0M231.7 942.6h0M233.1 948.8h0M236 939.8h0M234.5 948.2h0M236.5 951.4h0M238.7 941.7h0M238.5 941.9h0M238.5 946.9h0M241.6 940.6h0M241.9 949.1h0M241.8 951.2h0M243.6 939.5h0M242.5 948.6h0M243 943.5h0M245.3 939.2h0M245.1 952.7h0M245.2 942.6h0M248.3 941h0M248.2 947.9h0M247.5 947.2h0M252.1 942.4h0M251.6 953.8h0M250.7 952.2h0M254.7 939.5h0M254.6 945.3h0M255 945.7h0M256.6 941.9h0M256.6 949.7h0M257.1 942.9h0M258.2 943.5h0M259.5 948.8h0M259.3 947.4h0M261.2 944.1h0M261.4 945.2h0M262.6 949.9h0M263.8 942.9h0M263.7 953.6h0M265.5 948.6h0M266.6 942.5h0M267.6 951.3h0M266.6 952.7h0M269.5 937.9h0M269.7 946.8h0M270.6 951.3h0M271.3 939.9h0M273.2 953.2h0M273.1 940.1h0M274.2 940.5h0M274 953.4h0M275.7 952.1h0M277.8 941.7h0M276.5 953.6h0M278.4 952h0M280.4 944.3h0M279.9 949h0M279.2 944.9h0M281.7 942.2h0M281.2 954.5h0M281.4 952.2h0M284.6 934.3h0M285.5 944.1h0M285.4 946.6h0M288.4 940.5h0M287.8 945.2h0M288.2 945.6h0M290.2 943.5h0M291.1 954.7h0M289.1 951h0M293.5 944.1h0M292.5 954.1h0M293.7 948.9h0M295.2 946.1h0M294.2 953.7h0M297 945.9h0M297.1 946.4h0M301.3 945.6h0M299.9 948.2h0M303.2 945.3h0M302.4 949.4h0M306.8 943.7h0M306.9 948.2h0M305.5 944.7h0M309.1 943.1h0M307.4 949.4h0M309.5 948.9h0M311.3 944.2h0M311.3 945.8h0M311.3 956.1h0M314.3 943.8h0M313.1 948.9h0M313.9 945.4h0M316.9 943.7h0M317.2 945.4h0M316.6 945.5h0M319 943.9h0M320.1 950.8h0M317.7 952.9h0M321.4 944.2h0M321.7 950.8h0M320.6 954.3h0M324.8 938.8h0M323 950h0M327.3 945.2h0M325.3 952h0M329.4 945.9h0M327.9 951.1h0M330.9 944.9h0M330.9 952.1h0M335.2 945.7h0M335.2 949.3h0M336.8 946.1h0M335.8 951.5h0M340.5 946.7h0M340.5 950.1h0M342.6 946.7h0M342.7 949.6h0M344.1 948.3h0M345.8 958.6h0M347 946.2h0M347.2 949.6h0M350.7 946.1h0M350.3 954.8h0M352.6 943.6h0M352 955.7h0M353.7 953.4h0M354.4 937.9h0M354.3 944.9h0M358.7 940.3h0M358.8 949.2h0M359.6 944.9h0M360.3 953.8h0M362.3 945h0M363.9 954.9h0M365.2 936.7h0M366 950.8h0M367.4 946.9h0M367.4 949.1h0M369.9 947.2h0M370 950.3h0M372.5 946.3h0M373 954.9h0M376.2 944.1h0M377.3 952.9h0M375.3 955h0M379.5 943.1h0M379.8 947.9h0M379.6 955.2h0M381.5 942.4h0M380.2 944.9h0M380.3 953.6h0M383.9 942.5h0M383.4 949.5h0M384.7 946.5h0M385.5 941.3h0M385.7 953.4h0M386.6 952.5h0M389.2 944.8h0M388.6 953.6h0M392.5 945.5h0M391.2 955.7h0M393.6 950.7h0M393.4 960.1h0M397.3 948h0M396.8 948.9h0M399.8 943.1h0M398.5 955.2h0M401.9 942.8h0M401.9 952.1h0M400.8 954.4h0M405.1 944.2h0M403.6 952.3h0M404.8 953.7h0M407.2 946.6h0M407.3 947h0M410 947.1h0M410.1 952.4h0M411.4 948.2h0M413.2 955.1h0M414.4 944.1h0M414.8 956h0M417.9 949h0M417.2 958.1h0M420.3 946.7h0M421.3 947.3h0M422.5 944.7h0M422.9 951.3h0M426.1 943.3h0M425.3 954.2h0M426.4 954.9h0M429 945.1h0M428.5 955.9h0M429.7 941.5h0M431.6 944.5h0M431.7 954.1h0M433.4 940.8h0M432.6 948.1h0M433.1 953.9h0M435.2 937.4h0M435.2 946.6h0M437 943h0M438 937.7h0M437.1 947.6h0M439.3 945.9h0M440.1 936.7h0M439.9 946.7h0M442.1 946.8h0M444.3 936.5h0M444.4 937.3h0M444.7 949.7h0M447.2 938h0M444.9 952.5h0M446.2 949.6h0M448 938.2h0M449.2 944.5h0M448.8 944.7h0M451.8 937.7h0M451.2 951.9h0M450.4 951.3h0M453.6 935.3h0M453.4 947.1h0M453 943.1h0M455.7 935.1h0M455.7 936h0M456.7 939.7h0M458.8 935.3h0M459.9 946.8h0M459.3 944.2h0M462 936h0M461.8 949.8h0M461.9 942.5h0M464.5 935h0M465.6 948.9h0M465 941.1h0M466.9 934.7h0M466.5 946.8h0M466.5 947h0M469 935.2h0M469.1 944.8h0M470 946.6h0M472.9 936.4h0M471.8 940.3h0M471.4 939.6h0M473.9 927.4h0M475.8 950.9h0M475.2 950.9h0M476.8 934.7h0M478.6 948h0M476.7 945.9h0M480.5 934.1h0M478.9 947h0M478.9 938.4h0M483.6 928.4h0M483.2 942.8h0M483.8 940.5h0M484.9 930.7h0M483.9 937.6h0M485.9 943.5h0M487.8 929.8h0M487.6 931.2h0M487.5 935.7h0M489.8 928.7h0M489.8 949.7h0M490.3 948.8h0M493.5 935.8h0M492.5 938.1h0M494 942.1h0M496.4 935.5h0M496.7 950.2h0M496.8 937.8h0M498.6 935.8h0M498.8 946h0M498.4 938.1h0M501.6 934.5h0M500.4 947.3h0M501.8 950.2h0M503.7 934.7h0M502.6 948.1h0M504.4 944.4h0M505.8 933.4h0M506.9 944.5h0M507 948.7h0M509.1 926.7h0M509.2 943.5h0M507.7 946.5h0M510.7 934.3h0M511.4 939.9h0M512.4 941h0M514.4 933.1h0M514.9 933.7h0M513.4 938.4h0M516.9 932.7h0M517.4 937.2h0M516.8 938h0M519.2 933.9h0M519.4 948.2h0M517.7 948.4h0M522.3 935.5h0M520.4 947.7h0M522.3 939h0M524.8 935.9h0M524.4 939.1h0M523 948.4h0M527.2 929.5h0M526.1 941.7h0M525.7 938.7h0M528.7 934.8h0M528.6 950.6h0M528.7 938.9h0M531.7 929.3h0M532.2 942.8h0M533.1 940.4h0M534.9 932.4h0M534 948.1h0M535.5 948.4h0M537.6 933h0M536.9 935.6h0M536.5 947.4h0M539.6 933h0M540.7 949h0M540.8 940.2h0M542.9 933.9h0M542.9 937.5h0M543.2 944.7h0M194 974.6h0M197.2 974.1h0M200.4 974.1h0M203.6 974.1h0M206.8 974.3h0M210 974.5h0M213.2 974.3h0M216.4 974.5h0M219.6 974.2h0M222.8 974.3h0M226 974.1h0M229.2 974.4h0M232.4 974.2h0M235.6 974h0M238.8 974.2h0M242 974.3h0M245.2 974.5h0M248.4 974.2h0M251.6 974.6h0M254.8 974.5h0M258 974.1h0M261.2 974.5h0M264.4 974.6h0M267.6 974.6h0M270.8 974.4h0M274 974.2h0M277.2 974.3h0M280.4 974.4h0M283.6 974.4h0M286.8 974.1h0M290 974.5h0M293.2 974.3h0M296.4 974h0M299.6 974.2h0M302.8 974h0M306 974.3h0M309.2 974.1h0M312.4 974.3h0M315.6 974.2h0M318.8 974.5h0M322 974.5h0M325.2 974.1h0M328.4 974.5h0M331.6 974.3h0M334.8 974.2h0M338 974.5h0M341.2 974h0M344.4 974.2h0M347.6 974.4h0M350.8 974.1h0M354 974.3h0M357.2 974.5h0M360.4 974.2h0M363.6 974.4h0M366.8 974.1h0M370 974.6h0M373.2 974.6h0M376.4 974.1h0M379.6 974.5h0M382.8 974.2h0M386 974h0M389.2 974.1h0M392.4 974.4h0M395.6 974.3h0M398.8 974.3h0M402 974.1h0M405.2 974.1h0M408.4 974.2h0M411.6 974.3h0M414.8 974.5h0M418 974.3h0M421.2 974.2h0M424.4 974.5h0M427.6 974.4h0M430.8 974.5h0M434 974.5h0M437.2 974.3h0M440.4 974.2h0M443.6 974.1h0M446.8 974.4h0M450 974.4h0M453.2 974.5h0M456.4 974.6h0M459.6 974.3h0M462.8 974.3h0M466 974.6h0M469.2 974.1h0M472.4 974.2h0M475.6 974.3h0M478.8 974.4h0M482 974.4h0M485.2 974.1h0M488.4 974.3h0M491.6 974.1h0M494.8 974.2h0M498 974.1h0M501.2 974.2h0M504.4 974.4h0M507.6 974.2h0M510.8 974.1h0M514 974.3h0M517.2 974.4h0M520.4 974.2h0M523.6 974.2h0M526.8 974.3h0M530 974.4h0M533.2 974h0M536.4 974.4h0M539.6 974h0M542.8 974.5h0M237.5 902.4h0M231.8 908.2h0M246.1 906.3h0M222.2 914.9h0M235.6 918.7h0M273 890.9h0M270.1 898.6h0M282.6 900.5h0M268.2 913.9h0M272 923.5h0M281.6 920.6h0M220.3 925.4h0M204.9 931.2h0M197.3 913.9h0M295 906.3h0M299.8 895.7h0M302.7 903.4h0M305.6 913h0M297 924.5h0M302.7 930.2h0M237.5 922.6h0M227.9 930.2h0M321.9 817.1h0M325.7 822.9h0M331.5 828.6h0M348.7 818.1h0M352.6 819h0M413.9 815.2h0M423.5 815.2h0M396.6 817.1h0M323.8 813.3h0M344.9 817.1h0M410.1 817.1h0M436.9 770.1h0M435 809.4h0M440.7 812.3h0M448.4 806h0M463.8 821.9h0M435 820.9h0M437.9 825.7h0M299.8 847.8h0M305.6 847.8h0M314.2 848.7h0M318 845.9h0M327.6 847.8h0M340.1 848.7h0M327.6 857.4h0M331.5 858.3h0M337.2 867.9h0M338.2 877.5h0M338.2 884.2h0M332.4 893.8h0M329.5 903h0M312.3 892.8h0M298.9 872.7h0M316.1 867h0M321.9 844.9h0M354.5 854.5h0M362.1 865h0M384.2 855.4h0M393.8 848.7h0M395.7 870.8h0M389.9 878.5h0M418.7 866h0M413.9 845.9h0M431.2 850.7h0M436 854.5h0M446.5 834.4h0M451.3 840.1h0M448.4 869.8h0M452.2 873.7h0M457 874.6h0M436 882.3h0M431.2 887.1h0M436 895.7h0M450.3 887.1h0M450.3 913h0M486.8 921.6h0M390.9 909.1h0M392.8 917.8h0M391.9 928.3h0M359.3 913.9h0M364.1 919.7h0M360.2 925.4h0M412 920.6h0M419.7 924.5h0M461.8 920.6h0M437.9 925.4h0M327.6 931.2h0M371.7 931.2h0M528.9 931.2h0M429.2 931.2h0M471.4 931.2h0M396.6 848.7h0M395.7 846.8h0" stroke="#283e6e" stroke-width="8.9"/>
<path d="M321.9 808.5h0M390.9 806.6h0M407.2 815.2h0M300.8 880.4h0M244.2 913.9h0M249 920.6h0M251.9 919.7h0M247.1 924.5h0M287.4 914.9h0M229.8 925.4h0M253.8 935h0M463.8 936.9h0M418.7 946.5h0M260.5 962.8h0M320 963.8h0M337.2 958h0M323.8 973.4h0M331.5 973.4h0M327.6 973.4h0M433.1 969.5h0M437.9 967.6h0" stroke="#2fbcd4" stroke-width="8.5"/>
<path d="M331.5 806.6h0M333.4 813.3h0M339.1 817.1h0M337.2 826.7h0M342 817.1h0M389 811.4h0M394.7 816.1h0M400.5 817.1h0M312.3 869.8h0M305.6 875.6h0M419.7 834.4h0M445.5 864.1h0M260.5 929.3h0M265.3 929.3h0M278.7 929.3h0M405.3 931.2h0M417.7 952.3h0M302.7 968.6h0M427.3 834.4h0M335.3 820.9h0" stroke="#63bb7a" stroke-width="8.5"/>
<path d="M382.3 808.5h0M383.2 815.2h0M371.7 820h0M377.5 820h0M381.3 825.7h0M357.3 821.9h0M333.4 842h0M375.6 838.6h0M384.2 840.5h0M400.5 843.9h0M407.2 843h0M352.6 850.7h0M358.3 865h0M386.1 864.1h0M390.9 866h0M405.3 867.9h0M410.1 868.5h0M319 891.9h0M460.9 869.8h0M394.7 963.2h0M304.6 973.9h0M438.8 802.7h0M336.3 842h0" stroke="#f5a328" stroke-width="8.5"/>
<path d="M431.2 826.7h0M431.2 838.2h0M445.5 797.9h0" stroke="#e31f2b" stroke-width="8.5"/>
<path d="M439.8 837.8h0" stroke="#6a5fad" stroke-width="8.5"/>
</g>
<line x1="194.5" y1="802.7" x2="540" y2="802.7" stroke="#111" stroke-width="1.9" stroke-dasharray="3 3"/>
<line x1="440.4" y1="761.6" x2="440.4" y2="984" stroke="#e8202a" stroke-width="1.8" stroke-dasharray="3 3"/>
<path clip-path="url(#c4)" d="M440.4 779.7l10.2 10.2l-10.2 10.2l-10.2 -10.2z" fill="#5d58a6" stroke="#111" stroke-width="1.1"/>
<text x="202.5" y="797" font-size="21" letter-spacing="-0.3" fill="#111">5 x 10<tspan font-size="13" dy="-8.5">-8</tspan></text>
<text x="309" y="786.5" font-size="21" fill="#e8202a">rs12549167</text>
<rect x="194.5" y="761.6" width="345.5" height="222.4" fill="none" stroke="#000" stroke-width="1.4"/>
<path d="M193.8 984.2H539.8V760.9" fill="none" stroke="#000" stroke-width="2.2"/>
<rect x="135" y="992" width="59.5" height="224.5" fill="#d1d2d4"/>
<text x="173.4" y="1104" font-size="25.32" letter-spacing="-0.72" text-anchor="middle" transform="rotate(-90 173.4 1104)">PP</text>
<path d="M116.4 1002h18.6M116.4 1053h18.6M116.4 1103.8h18.6M116.4 1154.6h18.6M116.4 1205.5h18.6" stroke="#303030" stroke-width="2.9" fill="none"/>
<text x="113" y="1009.7" font-size="21.5" text-anchor="end">1.00</text>
<text x="113" y="1060.7" font-size="21.5" text-anchor="end">0.75</text>
<text x="113" y="1111.5" font-size="21.5" text-anchor="end">0.50</text>
<text x="113" y="1162.3" font-size="21.5" text-anchor="end">0.25</text>
<text x="113" y="1213.2" font-size="21.5" text-anchor="end">0.00</text>
<clipPath id="c5"><rect x="194.5" y="992.7" width="345.5" height="222.5"/></clipPath>
<rect x="285" y="992.7" width="185.7" height="222.5" fill="#e9eaeb"/>
<g clip-path="url(#c5)" fill="none" stroke-linecap="round">
<path d="M222.5 1206h0M224.5 1206h0M226.5 1206h0M228.5 1206h0M230.5 1206h0M232.5 1206h0M234.5 1206h0M236.5 1206h0M238.5 1206h0M240.5 1206h0M242.5 1206h0M244.5 1206h0M246.5 1206h0M248.5 1206h0M250.5 1206h0M252.5 1206h0M254.5 1206h0M256.5 1206h0M258.5 1206h0M260.5 1206h0M262.5 1206h0M264.5 1206h0M266.5 1206h0M268.5 1206h0M270.5 1206h0M272.5 1206h0M274.5 1206h0M276.5 1206h0M278.5 1206h0M280.5 1206h0M282.5 1206h0M284.5 1206h0M286.5 1206h0M288.5 1206h0M290.5 1206h0M292.5 1206h0M294.5 1206h0M296.5 1206h0M298.5 1206h0M300.5 1206h0M302.5 1206h0M304.5 1206h0M306.5 1206h0M308.5 1206h0M310.5 1206h0M312.5 1206h0M314.5 1206h0M316.5 1206h0M318.5 1206h0M320.5 1206h0M322.5 1206h0M324.5 1206h0M326.5 1206h0M328.5 1206h0M330.5 1206h0M332.5 1206h0M334.5 1206h0M336.5 1206h0M338.5 1206h0M340.5 1206h0M342.5 1206h0M344.5 1206h0M346.5 1206h0M348.5 1206h0M350.5 1206h0M352.5 1206h0M354.5 1206h0M356.5 1206h0M358.5 1206h0M360.5 1206h0M362.5 1206h0M364.5 1206h0M366.5 1206h0M368.5 1206h0M370.5 1206h0M372.5 1206h0M374.5 1206h0M376.5 1206h0M378.5 1206h0M380.5 1206h0M382.5 1206h0M384.5 1206h0M386.5 1206h0M388.5 1206h0M390.5 1206h0M392.5 1206h0M394.5 1206h0M396.5 1206h0M398.5 1206h0M400.5 1206h0M402.5 1206h0M404.5 1206h0M406.5 1206h0M408.5 1206h0M410.5 1206h0M412.5 1206h0M414.5 1206h0M416.5 1206h0M418.5 1206h0M420.5 1206h0M422.5 1206h0M424.5 1206h0M426.5 1206h0M428.5 1206h0M430.5 1206h0M432.5 1206h0M434.5 1206h0M436.5 1206h0M438.5 1206h0M440.5 1206h0M442.5 1206h0M444.5 1206h0M446.5 1206h0M448.5 1206h0M450.5 1206h0M452.5 1206h0M454.5 1206h0M456.5 1206h0M458.5 1206h0M460.5 1206h0M462.5 1206h0M464.5 1206h0M466.5 1206h0M468.5 1206h0M470.5 1206h0M472.5 1206h0M474.5 1206h0M476.5 1206h0M478.5 1206h0M480.5 1206h0M482.5 1206h0M484.5 1206h0M486.5 1206h0M488.5 1206h0M490.5 1206h0M492.5 1206h0M494.5 1206h0M496.5 1206h0M498.5 1206h0M500.5 1206h0M502.5 1206h0M504.5 1206h0M506.5 1206h0M508.5 1206h0M510.5 1206h0M512.5 1206h0M514.5 1206h0M516.5 1206h0M518.5 1206h0M520.5 1206h0M522.5 1206h0M524.5 1206h0M526.5 1206h0M528.5 1206h0M530.5 1206h0M532.5 1206h0M534.5 1206h0M536.5 1206h0M538.5 1206h0M540.5 1206h0M441.7 1164.2h0M443.1 1174.4h0M439.4 1182.9h0M438 1196.2h0M443.6 1197.6h0M432.3 1206.1h0" stroke="#0a0a0a" stroke-width="8.8"/>
</g>
<line x1="440.4" y1="992.7" x2="440.4" y2="1215.2" stroke="#e8202a" stroke-width="1.3" stroke-dasharray="3 3"/>
<path clip-path="url(#c5)" d="M440.6 1126.1l10.2 10.2l-10.2 10.2l-10.2 -10.2z" fill="#5d58a6" stroke="#111" stroke-width="1.1"/>
<text x="310.5" y="1115.5" font-size="21" fill="#e8202a">rs12549167</text>
<rect x="194.5" y="992.7" width="345.5" height="222.5" fill="none" stroke="#000" stroke-width="1.4"/>
<path d="M193.8 1215.4H539.8V992" fill="none" stroke="#000" stroke-width="2.2"/>
<path d="M194.3 1215.2v18.5M288.8 1215.2v18.5M385.6 1215.2v18.5M482.3 1215.2v18.5" stroke="#303030" stroke-width="2.9" fill="none"/>
<text x="194.3" y="1253.2" font-size="21.3" text-anchor="middle">80.95</text>
<text x="288.8" y="1253.2" font-size="21.3" text-anchor="middle">81.00</text>
<text x="385.6" y="1253.2" font-size="21.3" text-anchor="middle">81.05</text>
<text x="482.3" y="1253.2" font-size="21.3" text-anchor="middle">81.10</text>
<text x="367" y="1291.5" font-size="28.06" letter-spacing="-0.80" text-anchor="middle">chr8 Position (Mb)</text>
<text x="573" y="31" font-size="42" font-weight="bold">b</text>
<text x="939.5" y="22.8" font-size="29.54" letter-spacing="-0.84" text-anchor="middle">CDC37L1-DT</text>
<text x="939.5" y="54" font-size="29.54" letter-spacing="-0.84" text-anchor="middle">chr9:4232083-4352083</text>
<rect x="708.7" y="66.9" width="59.8" height="186.7" fill="#d1d2d4"/>
<text x="734.3" y="159.9" font-size="25.32" letter-spacing="-0.72" text-anchor="middle" transform="rotate(-90 734.3 159.9)">iPSC-PPC</text>
<text x="759.6" y="159.9" font-size="25.32" letter-spacing="-0.72" text-anchor="middle" transform="rotate(-90 759.6 159.9)">-log10(p-value)</text>
<path d="M690.1 76.2h18.6M690.1 118.3h18.6M690.1 160.5h18.6M690.1 202.6h18.6M690.1 244.7h18.6" stroke="#303030" stroke-width="2.9" fill="none"/>
<text x="686.7" y="83.9" font-size="21.5" text-anchor="end">8</text>
<text x="686.7" y="126" font-size="21.5" text-anchor="end">6</text>
<text x="686.7" y="168.2" font-size="21.5" text-anchor="end">4</text>
<text x="686.7" y="210.3" font-size="21.5" text-anchor="end">2</text>
<text x="686.7" y="252.4" font-size="21.5" text-anchor="end">0</text>
<clipPath id="c6"><rect x="768.5" y="67.6" width="343" height="184.7"/></clipPath>
<rect x="843.4" y="67.6" width="148.4" height="184.7" fill="#e9eaeb"/>
<g clip-path="url(#c6)" fill="none" stroke-linecap="round">
<path d="M772 244.6h0M772.9 238.4h0M771 226.6h0M771.2 217h0M775.6 245.1h0M774.9 238.3h0M778.4 244.9h0M779.9 240.2h0M777.1 227.4h0M779.8 221.4h0M779.6 213.2h0M781.4 244.3h0M781.1 231.3h0M782.4 225h0M784.4 244.3h0M784.7 238.4h0M783.1 231.6h0M784.1 211.8h0M786.9 244.4h0M785.9 240.2h0M786.5 218.2h0M789.1 244.5h0M789 239.4h0M790.3 229.3h0M789.2 218.6h0M792.1 244.3h0M791.8 238.7h0M792.2 229.8h0M791.9 220.4h0M794.9 244.2h0M793.6 238.6h0M796.3 231.8h0M797.7 244.7h0M798.9 238.9h0M798.1 228h0M796.9 215.7h0M800.9 244.8h0M801.8 237.4h0M801.9 224.6h0M804.3 245.2h0M804.8 236.8h0M805.6 229.8h0M803.1 222.4h0M803.1 215.1h0M807.8 244.9h0M807.5 237.9h0M807.1 227.3h0M808.2 218.7h0M810.8 245.1h0M810.6 238.1h0M810.1 231.5h0M811.2 222.3h0M810.8 214.3h0M810.7 204.7h0M814 244.6h0M814.6 238.8h0M815.4 218.9h0M817.3 245h0M816.7 237.4h0M817.6 229.1h0M819.7 244.3h0M821.1 230h0M819.5 222.7h0M823.1 244.4h0M823.2 237.3h0M824.5 225.6h0M825.4 244.3h0M824.4 229.7h0M826.5 222.6h0M826.7 209.6h0M825.1 200h0M828.1 245.1h0M828.8 237.9h0M829.1 225h0M830.8 244.7h0M829.7 239.9h0M831.2 227.4h0M830.4 205.9h0M833 245.1h0M833.4 240.5h0M834.4 232h0M832.8 225.7h0M832 217.3h0M836.3 245h0M837.4 237.2h0M836.3 227.1h0M835.1 214.9h0M838.7 244.9h0M839.1 239.5h0M839.9 227.2h0M841.7 244.2h0M842.3 240.1h0M841.6 233.4h0M840.9 223.4h0M844 244.2h0M845.3 237.4h0M844.4 226.3h0M843.1 213.4h0M844.4 197.6h0M846.8 244.2h0M845.5 240.7h0M845.3 222.4h0M847.2 213.4h0M849.8 244.6h0M848.4 238.9h0M850.4 228.5h0M852.1 244.4h0M850.8 238.9h0M850.9 229.2h0M853 222.3h0M855.1 245h0M855.7 239h0M855.5 228.6h0M854.5 218.8h0M856.2 208h0M858.2 244.5h0M858.6 237.3h0M858.1 231.1h0M861.6 244.5h0M861.5 238h0M860.9 229.3h0M862 221.8h0M864 244.5h0M863.9 236.9h0M864.8 216.6h0M867.5 244.3h0M868.5 227.7h0M866.2 215.3h0M870.2 244.5h0M869.9 237.7h0M871.5 226.8h0M869.8 219.1h0M873.2 245h0M874 226.2h0M872.1 214.3h0M876 244.4h0M875.1 240.7h0M875.6 232h0M876 221.8h0M876.6 213.4h0M879.3 244.2h0M880.5 237.8h0M879.2 222h0M881.6 244.3h0M882.8 230.8h0M885 244.6h0M885.6 230.2h0M884.9 222.1h0M884.9 214.5h0M888.3 244.8h0M888.7 240.6h0M887.5 228.9h0M889.1 220.3h0M889.3 214.1h0M889.8 207.9h0M891.6 244.7h0M890.1 240.5h0M891.1 229.8h0M894.7 244.4h0M895.2 240.5h0M896.1 232.9h0M894.3 223.5h0M898 244.8h0M897.9 239.5h0M898.7 228.5h0M898.2 219.2h0M897.1 209.3h0M901 244.2h0M901 237.8h0M901.9 229h0M903.9 244.7h0M905.3 237h0M905.4 225.8h0M904.3 215h0M906.7 244.4h0M906.4 239h0M907.7 231.4h0M907.4 222h0M910 244.9h0M910.9 237.8h0M910.4 230.5h0M911.2 220.7h0M913.2 245.1h0M914.4 227.2h0M913.2 212.3h0M911.9 203.3h0M916.4 244.5h0M916.5 237.9h0M917.5 226.2h0M919.8 244.9h0M919.6 237h0M920.1 230.2h0M919.5 224h0M918.5 214.7h0M918.7 204.1h0M922 245h0M920.7 237.1h0M922.8 219.2h0M922.3 209.1h0M920.7 199.9h0M925.6 244.5h0M924.9 236.8h0M925.3 228.1h0M925.8 220.2h0M926.4 213h0M928.3 244.4h0M928.8 237.1h0M927.3 230.7h0M927 221h0M929.8 201.6h0M929.2 195.1h0M931.4 244.4h0M931.7 237.6h0M930.1 229.7h0M931 220.2h0M930.9 210h0M934.9 245.1h0M934 238.4h0M934.6 226.6h0M934.5 218.3h0M937.4 244.4h0M937.6 237.2h0M936.5 226.7h0M938 214.4h0M938.6 207.2h0M938.2 199.9h0M939.6 244.7h0M938.6 237h0M939.8 213.9h0M940.7 200.5h0M943.2 244.8h0M944.3 237.3h0M943.8 225.4h0M943.2 217.4h0M942.7 206.5h0M946.2 245.1h0M945.1 237.4h0M946.9 230.4h0M947.2 221h0M945.3 212.4h0M945.3 202.1h0M948.4 244.7h0M949.8 220.3h0M951.6 245.1h0M950.3 238.8h0M950.5 230.3h0M953 218.4h0M954.9 244.2h0M953.6 239.8h0M955.8 227.3h0M957.9 244.8h0M957.5 239.5h0M957 229.6h0M957.3 201.5h0M960.7 244.4h0M960.3 237h0M961.9 228.8h0M961.4 209.7h0M963.7 244.2h0M964 239.8h0M963.9 221.3h0M965 209.6h0M965 197.6h0M965.1 187h0M966.4 244.7h0M967.7 236.7h0M966.5 227.6h0M966.7 216.8h0M965.1 207.8h0M965.4 199.1h0M969.1 244.4h0M969.5 226.4h0M967.8 220.2h0M972.5 245.2h0M972.9 231.2h0M973.3 224.6h0M971.2 216h0M975.1 244.6h0M974.5 240.2h0M974.9 232.1h0M975.8 223.1h0M978.1 245h0M978.2 229.6h0M978.7 217.4h0M978.2 209.6h0M978.7 197.8h0M980.4 244.3h0M981 239h0M979.3 227.7h0M979.8 207.2h0M979 196.9h0M983.9 244.9h0M985.2 240.4h0M983.2 232.5h0M985 222.3h0M984.7 211.6h0M983.7 204.1h0M986.7 244.5h0M985.3 229.1h0M985.7 218.2h0M986 205.9h0M986 196.6h0M989.9 244.9h0M990.2 237.6h0M990.5 227.3h0M992.8 244.3h0M993.6 238h0M991.5 227.5h0M991.7 216.9h0M991.6 209.3h0M995.1 245.1h0M994.9 240.5h0M996.2 217.5h0M995.5 210.8h0M998.3 244.4h0M998.4 239.6h0M998.1 226.9h0M997.7 217.6h0M996.8 208.5h0M998.6 198.8h0M1001.1 245.1h0M1000.1 232.9h0M1002.1 220.4h0M1003.8 244.9h0M1004.4 237.8h0M1004.3 226.1h0M1006.4 244.5h0M1005.7 233.4h0M1010 244.9h0M1010.6 238.5h0M1011.1 231.8h0M1011.1 222.8h0M1009.5 211.4h0M1013 244.6h0M1012.7 238.7h0M1012.3 225.2h0M1016.4 244.4h0M1015.9 240.3h0M1016.3 222.5h0M1016.7 214.2h0M1016.4 208.1h0M1019.3 244.3h0M1020.2 233.1h0M1019.9 221h0M1022.2 245h0M1022.6 237.5h0M1021.1 230.1h0M1021.7 222.7h0M1024.6 244.4h0M1025.6 240.3h0M1023.9 229.7h0M1024 221.1h0M1023.4 212.6h0M1023.9 202.1h0M1028 244.3h0M1027.7 239.3h0M1027.2 228.7h0M1031.6 245h0M1031.8 236.8h0M1031.8 230.4h0M1030.3 214.9h0M1032.3 206.9h0M1031.4 195.6h0M1034.8 244.4h0M1034.9 226.2h0M1033.6 218.9h0M1036.3 212.6h0M1035.8 202.6h0M1035 196.2h0M1038.2 244.8h0M1039.1 237.1h0M1037.7 225.8h0M1038 212.9h0M1038.1 202.6h0M1041.2 244.2h0M1039.7 237.9h0M1042.5 230.9h0M1041.1 218.1h0M1044.7 245h0M1045.2 240.3h0M1043.4 232.6h0M1043.6 221.3h0M1044.6 190.4h0M1048.1 244.8h0M1047.7 227.6h0M1046.8 214.9h0M1050.5 244.3h0M1051.7 239.4h0M1050.6 230.2h0M1049.7 223.8h0M1051.7 216.7h0M1050.2 209h0M1050.3 192.5h0M1054 244.2h0M1054.6 240.4h0M1052.5 224.4h0M1055.2 215.7h0M1053.8 208.7h0M1056.9 245.2h0M1056.7 239.2h0M1055.6 228.1h0M1056.8 216.7h0M1059.4 244.5h0M1058.9 237.4h0M1059 208.8h0M1059.3 199h0M1062.1 244.5h0M1063.1 238.5h0M1062.8 231.1h0M1062.1 218.4h0M1062.3 211h0M1065.2 245.1h0M1066.3 237.8h0M1064.5 221.4h0M1068.6 245h0M1068.3 240.3h0M1068 227.6h0M1067.5 211.4h0M1071.6 244.9h0M1072.4 240h0M1072.3 233.1h0M1074.6 245.2h0M1074.1 237.1h0M1078.1 244.4h0M1078.1 236.9h0M1079.3 217.6h0M1078.4 208.1h0M1077.7 199.1h0M1080.5 244.7h0M1080.7 240.5h0M1079.8 229.6h0M1081.6 222.9h0M1081.4 214.9h0M1083.8 244.6h0M1082.8 236.9h0M1084.1 229.2h0M1086.6 244.6h0M1085.8 237.4h0M1085.6 230h0M1087.5 222.2h0M1089.3 244.3h0M1090.7 239.4h0M1089 231.1h0M1092.4 244.5h0M1093.2 239.1h0M1093.8 231.1h0M1092 220.9h0M1095.1 244.6h0M1094.7 236.9h0M1094.1 227.8h0M1094 216.7h0M1097.9 244.6h0M1099.2 237.1h0M1097 224.3h0M1100.5 244.7h0M1101.4 236.9h0M1100 228h0M1103.8 245.1h0M1103.5 238.4h0M1102.5 230.3h0M1102.4 219.8h0M1107 245.1h0M1107.6 237.4h0M1107.8 225.6h0M1110.6 244.6h0M1109.3 239.2h0M844.9 154.1h0M934.4 152h0M1080.2 142.4h0M767.4 74.9h0M923.5 173.7h0M1037.6 182.3h0M1046.2 181.3h0M1045.3 185.2h0M1017.5 188h0M1010.7 194.8h0M1046.2 201.5h0M1031.8 203.4h0M1061.6 203.4h0M1098 211h0M947.5 184.2h0M976.2 189h0M817.1 192.8h0M842 191.9h0M849.7 197.6h0M884.2 203.4h0" stroke="#bdbec0" stroke-width="8.6"/>
<path d="M898.6 189h0M924.9 182.3h0M922.6 174.6h0M909.1 203.4h0M905.3 209.1h0M899.5 222.6h0M900.5 228.3h0M906.3 184.2h0M920.6 203.4h0" stroke="#86a3a4" stroke-width="8.6"/>
<path d="M923.9 126.3h0M916.8 174.6h0M913 182.3h0M914.9 202.4h0M907.2 203.4h0" stroke="#4d8081" stroke-width="8.6"/>
<path d="M914.9 120.6h0M916.8 122.5h0M906.3 139.2h0M905.3 146.8h0M913.9 149.7h0M914.9 153.5h0M921.6 169.8h0M909.1 188h0M913 190h0M907.2 192.8h0M918.7 193.8h0M906.3 198.6h0" stroke="#226565" stroke-width="8.6"/>
</g>
<line x1="768.5" y1="144.3" x2="1111.5" y2="144.3" stroke="#111" stroke-width="1.9" stroke-dasharray="3 3"/>
<line x1="917.8" y1="67.6" x2="917.8" y2="252.3" stroke="#e8202a" stroke-width="1.8" stroke-dasharray="3 3"/>
<path clip-path="url(#c6)" d="M917.8 85.8l10.2 10.2l-10.2 10.2l-10.2 -10.2z" fill="#5d58a6" stroke="#111" stroke-width="1.1"/>
<text x="771" y="139.1" font-size="21" letter-spacing="-0.3" fill="#111">1.9 x 10<tspan font-size="13" dy="-8.5">-5</tspan></text>
<text x="934" y="93" font-size="21" fill="#e8202a">rs10758593</text>
<rect x="768.5" y="67.6" width="343" height="184.7" fill="none" stroke="#000" stroke-width="1.4"/>
<path d="M767.8 252.5H1111.3V66.9" fill="none" stroke="#000" stroke-width="2.2"/>
<rect x="708.7" y="259.8" width="59.8" height="186.7" fill="#d1d2d4"/>
<text x="734.3" y="352.9" font-size="25.32" letter-spacing="-0.72" text-anchor="middle" transform="rotate(-90 734.3 352.9)">Islets</text>
<text x="759.6" y="352.9" font-size="25.32" letter-spacing="-0.72" text-anchor="middle" transform="rotate(-90 759.6 352.9)">-log10(p-value)</text>
<path d="M690.1 268.5h18.6M690.1 310.6h18.6M690.1 352.7h18.6M690.1 394.6h18.6M690.1 436.6h18.6" stroke="#303030" stroke-width="2.9" fill="none"/>
<text x="686.7" y="276.2" font-size="21.5" text-anchor="end">8</text>
<text x="686.7" y="318.3" font-size="21.5" text-anchor="end">6</text>
<text x="686.7" y="360.4" font-size="21.5" text-anchor="end">4</text>
<text x="686.7" y="402.3" font-size="21.5" text-anchor="end">2</text>
<text x="686.7" y="444.3" font-size="21.5" text-anchor="end">0</text>
<clipPath id="c7"><rect x="768.5" y="260.5" width="343" height="184.7"/></clipPath>
<rect x="843.4" y="260.5" width="148.4" height="184.7" fill="#e9eaeb"/>
<g clip-path="url(#c7)" fill="none" stroke-linecap="round">
<path d="M762.0 441.1V406.6L768.0 406.6L770.6 405.8L773.2 407.4L775.8 408.4L778.4 407.2L781.0 404.6L783.6 405.6L786.2 407.4L788.8 407.6L791.4 405.7L794.0 402.7L796.6 402.3L799.2 402.7L801.8 404.5L804.4 402.8L807.0 402.9L809.6 403.4L812.2 407.2L814.8 406.7L817.4 405.7L820.0 404.8L822.6 404.9L825.2 404.7L827.8 403.5L830.4 402.3L833.0 402.6L835.6 405.4L838.2 406.0L840.8 407.9L843.4 406.4L846.0 408.9L848.6 407.6L851.2 408.4L853.8 406.9L856.4 403.7L859.0 403.1L861.6 402.6L864.2 407.4L866.8 407.7L869.4 408.0L872.0 406.7L874.6 406.1L877.2 406.7L879.8 407.8L882.4 407.6L885.0 408.6L887.6 405.7L890.2 406.8L892.8 405.3L895.4 407.3L898.0 405.9L900.6 407.2L903.2 406.0L905.8 407.0L908.4 404.9L911.0 405.2L913.6 404.8L916.2 406.8L918.8 406.5L921.4 406.0L924.0 403.3L926.6 404.4L929.2 404.1L931.8 405.2L934.4 404.4L937.0 404.6L939.6 404.8L942.2 405.6L944.8 406.7L947.4 407.2L950.0 405.8L952.6 403.0L955.2 401.5L957.8 400.8L960.4 401.5L963.0 401.8L965.6 402.7L968.2 402.7L970.8 401.6L973.4 402.1L976.0 403.6L978.6 403.4L981.2 402.8L983.8 401.1L986.4 402.2L989.0 403.7L991.6 402.1L994.2 401.2L996.8 399.8L999.4 401.6L1002.0 403.3L1004.6 404.4L1007.2 405.3L1009.8 405.0L1012.4 403.0L1015.0 402.1L1017.6 402.4L1020.2 402.2L1022.8 403.7L1025.4 403.0L1028.0 403.2L1030.6 402.7L1033.2 405.4L1035.8 407.5L1038.4 407.0L1041.0 404.5L1043.6 402.0L1046.2 403.3L1048.8 403.8L1051.4 404.7L1054.0 403.8L1056.6 406.2L1059.2 406.0L1061.8 403.3L1064.4 399.7L1067.0 401.5L1069.6 404.2L1072.2 405.0L1074.8 401.4L1077.4 400.2L1080.0 400.3L1082.6 401.2L1085.2 401.8L1087.8 400.0L1090.4 402.2L1093.0 402.6L1095.6 403.7L1098.2 401.4L1100.8 400.2L1103.4 400.5L1106.0 403.9L1108.6 405.2L1111.2 406.1L1113.8 404.7H1118.0V441.1z" fill="#bdbec0" stroke="none"/>
<path d="M768.1 392h0M767.6 406.9h0M771.6 396.8h0M771.1 401h0M772.5 398.9h0M771.9 408.2h0M776.2 400.1h0M774.6 400.5h0M778.4 398.6h0M777.9 401.8h0M780.2 395.3h0M781.6 400.9h0M784.1 396.7h0M784.4 400.3h0M785.9 398.8h0M787.2 402.5h0M788.6 399.1h0M789.7 401.6h0M791.6 396.8h0M791.6 403.9h0M793.2 392.9h0M795.3 397.8h0M797.1 392.4h0M797.2 400.2h0M799.1 393h0M798.1 395.2h0M800.9 395.3h0M801.8 400.3h0M804.4 384.5h0M805.5 398.2h0M806.6 390.2h0M806.2 397.6h0M809.9 383.6h0M810.6 400.8h0M812.5 398.6h0M812 406.9h0M815.6 398h0M814.5 399.5h0M817 396.7h0M817.4 405.9h0M820.7 395.6h0M821.2 399.2h0M822.5 391.3h0M821.9 404h0M825.5 395.4h0M824.7 401.6h0M828.8 394h0M826.7 400.9h0M829.5 382.5h0M830.6 396.4h0M833.6 392.8h0M832.1 403.7h0M834.6 396.3h0M834.9 398.5h0M838.5 393.7h0M838.5 403.5h0M841.4 399.4h0M841.3 399.9h0M842.8 390.8h0M843.3 407.3h0M845.4 400.7h0M845.6 408h0M848.6 399.1h0M849.3 403.5h0M851.8 400.1h0M850.1 401.2h0M854.2 398.2h0M853.7 407.1h0M857.2 394.2h0M856.6 401.8h0M859.6 393.5h0M858.9 394.3h0M861 392.8h0M862.4 396.6h0M864.6 398.9h0M865.2 407.1h0M867.8 399.3h0M867.6 404.4h0M870.2 399.6h0M869 401.3h0M872.1 391.5h0M872 400.8h0M873.7 387.8h0M873.7 399.7h0M877.8 398h0M876.3 406.9h0M880.2 399.3h0M880.3 401.2h0M882.4 399.1h0M881.3 399.7h0M884.6 393.1h0M885.4 403.4h0M888.3 396.7h0M887.1 402h0M890.9 398.1h0M889.4 399.4h0M893.7 396.3h0M893 402h0M895.4 391.5h0M894.2 403.3h0M898 396.9h0M898.8 403.8h0M900.6 398.6h0M899.5 402.2h0M903 397.1h0M904.3 397.7h0M905.1 391.6h0M906.6 404.7h0M908.4 395.8h0M907.6 403.7h0M911.9 396.1h0M911.7 405.5h0M913.1 391h0M913.1 399.5h0M916.4 398h0M916.8 407.2h0M918.3 390.6h0M918.9 406.2h0M921.2 397.1h0M921.5 403.8h0M924.3 389.1h0M924.1 398.5h0M926.8 395.1h0M925.9 397h0M929.8 394.8h0M928.7 396.1h0M932.6 396.1h0M933.1 404.8h0M933.7 395.1h0M935 403.8h0M937.7 391.6h0M937.8 402.3h0M940 389.4h0M938.8 405.8h0M943 396.6h0M941.2 397h0M945.3 398h0M945.3 403.7h0M946.6 395h0M947.5 407.9h0M950.1 396.8h0M949.2 406h0M953.6 383.7h0M951.5 394.4h0M955.1 380.8h0M954.7 394.7h0M957.8 390.6h0M958.1 398.3h0M961.1 382.8h0M960.3 401.5h0M962.8 391.8h0M962.1 401.7h0M964.6 392.9h0M966.4 394.4h0M968.9 392.9h0M968 397.9h0M970.8 391.6h0M971.6 391.8h0M973.9 381.9h0M974.2 395.3h0M976.8 394.1h0M976.5 395.7h0M979.1 393.9h0M979.2 401.3h0M981.1 387.4h0M980.8 404h0M984 391h0M985 400.7h0M986.1 392.4h0M986.6 397h0M988.8 394.2h0M989.4 394.2h0M992.1 392.3h0M990.4 392.6h0M994.7 391.1h0M993.9 400.5h0M996.6 384.8h0M996.2 400.6h0M999.5 391.6h0M1000.6 398.2h0M1003 393.7h0M1002.8 398.5h0M1005.1 387.3h0M1005.7 405.3h0M1006.5 389.5h0M1007.5 402.3h0M1009.6 385.3h0M1010.1 401.7h0M1012 393.3h0M1012.6 397.9h0M1014.6 383.5h0M1014.3 403.3h0M1018.1 388.4h0M1018.6 400.4h0M1019.3 392.3h0M1021.4 392.5h0M1022.7 384h0M1024 400.8h0M1026.3 386.1h0M1025.3 397h0M1028.6 393.6h0M1027 398.8h0M1030.5 393h0M1029.4 402.5h0M1032.4 396.4h0M1033.6 402.9h0M1035.3 399h0M1035.6 403.7h0M1038.5 398.3h0M1039.6 398.3h0M1040.5 395.3h0M1042 405h0M1043.8 392.1h0M1043 400.3h0M1046.3 393.7h0M1046.5 399h0M1048.2 394.4h0M1050 403.2h0M1052.2 395.5h0M1050.3 405.6h0M1054.2 387.9h0M1054.1 404.4h0M1057 393.6h0M1056.9 402.6h0M1059.2 397h0M1058.8 405.6h0M1062.5 393.7h0M1060.8 404.1h0M1064.6 389.3h0M1063.7 392.7h0M1066.5 391.4h0M1066.7 394.1h0M1070.6 394.9h0M1069.7 402.9h0M1073 395.8h0M1071.9 402.6h0M1074 381.3h0M1075 402.2h0M1077.8 389.9h0M1078.1 399.1h0M1080.3 385.2h0M1079.5 401.2h0M1083 391.1h0M1081.7 400.2h0M1085.7 391.9h0M1084.2 400h0M1087.9 389.5h0M1088.9 390.8h0M1090.3 392.4h0M1089.9 395.1h0M1092.8 392.8h0M1094 393.7h0M1095.3 388.3h0M1095.3 402h0M1097.6 391.4h0M1099 397.3h0M1101.5 389.8h0M1100 396h0M1104.2 390.3h0M1102.2 399.6h0M1106.1 394.4h0M1107.2 399.9h0M1109.2 396.1h0M1108.7 406h0M1110.4 397.2h0M1111.8 406.7h0M1113 395.5h0M1112.9 400.1h0M768 436.7h0M771.2 436.7h0M774.4 436.4h0M777.6 436.4h0M780.8 436.8h0M784 436.6h0M787.2 436.8h0M790.4 436.5h0M793.6 436.5h0M796.8 436.9h0M800 436.7h0M803.2 436.6h0M806.4 436.6h0M809.6 436.7h0M812.8 436.7h0M816 436.8h0M819.2 436.5h0M822.4 436.8h0M825.6 436.7h0M828.8 436.8h0M832 436.8h0M835.2 436.8h0M838.4 436.8h0M841.6 436.9h0M844.8 436.7h0M848 436.6h0M851.2 436.7h0M854.4 436.8h0M857.6 436.6h0M860.8 436.6h0M864 436.4h0M867.2 436.7h0M870.4 436.9h0M873.6 436.5h0M876.8 436.4h0M880 436.4h0M883.2 436.6h0M886.4 436.5h0M889.6 436.9h0M892.8 436.3h0M896 436.5h0M899.2 436.4h0M902.4 436.7h0M905.6 436.8h0M908.8 436.4h0M912 436.3h0M915.2 436.6h0M918.4 436.7h0M921.6 436.8h0M924.8 436.3h0M928 436.4h0M931.2 436.4h0M934.4 436.4h0M937.6 436.4h0M940.8 436.7h0M944 436.7h0M947.2 436.4h0M950.4 436.4h0M953.6 436.5h0M956.8 436.4h0M960 436.8h0M963.2 436.5h0M966.4 436.6h0M969.6 436.8h0M972.8 436.6h0M976 436.5h0M979.2 436.8h0M982.4 436.8h0M985.6 436.5h0M988.8 436.6h0M992 436.9h0M995.2 436.6h0M998.4 436.4h0M1001.6 436.3h0M1004.8 436.9h0M1008 436.8h0M1011.2 436.5h0M1014.4 436.6h0M1017.6 436.6h0M1020.8 436.5h0M1024 436.9h0M1027.2 436.7h0M1030.4 436.4h0M1033.6 436.3h0M1036.8 436.6h0M1040 436.5h0M1043.2 436.8h0M1046.4 436.7h0M1049.6 436.7h0M1052.8 436.4h0M1056 436.4h0M1059.2 436.5h0M1062.4 436.5h0M1065.6 436.8h0M1068.8 436.6h0M1072 436.7h0M1075.2 436.9h0M1078.4 436.5h0M1081.6 436.6h0M1084.8 436.4h0M1088 436.8h0M1091.2 436.3h0M1094.4 436.8h0M1097.6 436.8h0M1100.8 436.8h0M1104 436.3h0M1107.2 436.5h0M1110.4 436.7h0M1113.6 436.4h0M773 342h0M775.9 348.7h0M776.8 370.8h0M790.3 377.5h0M771.1 383.2h0M805.6 382.3h0M820 370.8h0M826.7 377.5h0M823.8 381.3h0M834.4 369.8h0M838.2 370.8h0M843.9 363.1h0M846.8 360.2h0M838.2 382.3h0M845.9 385.2h0M853.5 387.1h0M874.6 372.7h0M883.2 370.8h0M880.4 371.7h0M874.6 384.2h0M881.3 385.2h0M894.8 377.5h0M909.1 382.3h0M923.5 382.3h0M942.7 374.2h0M949.4 390h0M993.5 363.1h0M982.9 382.3h0M974.3 387.1h0M960.9 387.1h0M998.3 382.3h0M1005 387.1h0M1026.1 387.1h0M1047.2 368.9h0M1051 372.7h0M1056.8 376.5h0M1060.6 380.4h0M1066.3 386.1h0M1079.8 370.8h0M1087.4 369.8h0M1075.9 376.5h0M1070.2 381.3h0M1107.6 346.8h0M1104.7 377.5h0M767.4 268.8h0" stroke="#bdbec0" stroke-width="8.6"/>
<path d="M897.2 403.4h0M897.2 405.7h0M897.2 408h0M897.2 410.3h0M897.2 412.6h0M897.2 414.9h0M897.2 417.2h0M897.2 419.5h0M897.2 421.8h0M897.2 424.1h0M897.2 426.4h0M897.2 428.7h0M897.2 431h0M897.2 433.3h0M897.2 435.6h0M897.2 437.9h0" stroke="#94adc2" stroke-width="2"/>
<path d="M907.2 401.5h0M910.1 400.5h0M905.3 405.3h0" stroke="#94adc2" stroke-width="7"/>
<path d="M912 419.5h0M918.4 423.4h0M917.1 414h0M916.2 417.8h0M917.9 407h0M916.7 410.9h0M912.8 421.3h0M907.6 431.5h0M909.7 414.3h0M906.5 414.1h0M911.8 427.6h0M910.4 426.7h0M906.9 417h0M911.7 435.9h0M916.7 425.6h0M905.7 416.4h0M915.1 411.8h0M913.1 419.1h0M905.6 436.7h0M916.3 410.8h0M913.8 413.6h0M910.6 421.8h0M909.5 415.1h0M910.8 426h0M909 410.6h0M915.4 414.9h0M918.3 422.6h0M915.3 414.9h0M916.7 407h0M907.4 407.1h0M914.6 427.4h0M907.9 417.3h0M916.8 423.6h0M906.7 411.5h0M907.6 408.1h0M911 406.4h0M917.9 418.1h0M912.4 425.4h0M915.9 431.1h0M910.7 414.9h0M911.1 404.5h0M910.9 427.1h0M918.8 430.1h0M914.4 424.1h0M905.8 414.9h0M910.1 425.5h0M906.9 416.5h0M912.4 430h0M916.6 424.2h0M907.6 429.3h0M917.7 422.1h0M910.3 420.5h0M907.4 427.5h0M918.8 421h0M915.2 431.6h0M908.2 435.2h0M914 410.5h0M906.6 412.1h0M913.3 427h0M909.9 434.7h0" stroke="#4a80a8" stroke-width="8.6"/>
</g>
<line x1="768.5" y1="337.2" x2="1111.5" y2="337.2" stroke="#111" stroke-width="1.9" stroke-dasharray="3 3"/>
<line x1="917.8" y1="260.5" x2="917.8" y2="445.2" stroke="#e8202a" stroke-width="1.8" stroke-dasharray="3 3"/>
<line x1="945" y1="377.5" x2="930.5" y2="402" stroke="#e8202a" stroke-width="1.5"/>
<path clip-path="url(#c7)" d="M917.8 403.1l10.2 10.2l-10.2 10.2l-10.2 -10.2z" fill="#5d58a6" stroke="#111" stroke-width="1.1"/>
<text x="771.5" y="332.4" font-size="21" letter-spacing="-0.3" fill="#111">1.9 x 10<tspan font-size="13" dy="-8.5">-5</tspan></text>
<text x="934" y="366.5" font-size="21" fill="#e8202a">rs10758593</text>
<rect x="768.5" y="260.5" width="343" height="184.7" fill="none" stroke="#000" stroke-width="1.4"/>
<path d="M767.8 445.4H1111.3V259.8" fill="none" stroke="#000" stroke-width="2.2"/>
<rect x="708.7" y="452.3" width="59.8" height="186.6" fill="#d1d2d4"/>
<text x="734.3" y="545.3" font-size="25.32" letter-spacing="-0.72" text-anchor="middle" transform="rotate(-90 734.3 545.3)">Pancreas</text>
<text x="759.6" y="545.3" font-size="25.32" letter-spacing="-0.72" text-anchor="middle" transform="rotate(-90 759.6 545.3)">-log10(p-value)</text>
<path d="M690.1 461.2h18.6M690.1 503.3h18.6M690.1 545.4h18.6M690.1 587.4h18.6M690.1 629.4h18.6" stroke="#303030" stroke-width="2.9" fill="none"/>
<text x="686.7" y="468.9" font-size="21.5" text-anchor="end">8</text>
<text x="686.7" y="511" font-size="21.5" text-anchor="end">6</text>
<text x="686.7" y="553.1" font-size="21.5" text-anchor="end">4</text>
<text x="686.7" y="595.1" font-size="21.5" text-anchor="end">2</text>
<text x="686.7" y="637.1" font-size="21.5" text-anchor="end">0</text>
<clipPath id="c8"><rect x="768.5" y="453" width="343" height="184.6"/></clipPath>
<rect x="843.4" y="453" width="148.4" height="184.6" fill="#e9eaeb"/>
<g clip-path="url(#c8)" fill="none" stroke-linecap="round">
<path d="M762.0 633.9V602.8L768.0 602.8L770.6 601.6L773.2 600.7L775.8 600.2L778.4 599.9L781.0 598.9L783.6 599.3L786.2 600.2L788.8 603.4L791.4 603.3L794.0 601.2L796.6 598.7L799.2 596.9L801.8 595.6L804.4 594.8L807.0 595.3L809.6 595.9L812.2 597.0L814.8 598.3L817.4 598.8L820.0 599.5L822.6 599.1L825.2 597.9L827.8 597.2L830.4 597.5L833.0 599.7L835.6 598.1L838.2 597.9L840.8 597.1L843.4 599.0L846.0 598.2L848.6 598.4L851.2 599.7L853.8 601.1L856.4 602.2L859.0 602.3L861.6 601.3L864.2 599.8L866.8 600.7L869.4 601.3L872.0 604.1L874.6 603.9L877.2 604.8L879.8 603.7L882.4 603.5L885.0 606.1L887.6 604.8L890.2 604.7L892.8 602.6L895.4 603.4L898.0 603.8L900.6 604.7L903.2 605.0L905.8 603.8L908.4 602.4L911.0 601.3L913.6 600.6L916.2 600.2L918.8 598.5L921.4 597.9L924.0 597.2L926.6 598.2L929.2 598.2L931.8 595.9L934.4 597.7L937.0 596.6L939.6 596.5L942.2 594.2L944.8 594.6L947.4 594.0L950.0 593.9L952.6 594.3L955.2 596.4L957.8 595.9L960.4 594.9L963.0 593.8L965.6 594.8L968.2 595.2L970.8 598.2L973.4 598.1L976.0 601.5L978.6 598.7L981.2 597.9L983.8 593.3L986.4 594.1L989.0 594.9L991.6 597.0L994.2 598.9L996.8 598.6L999.4 598.6L1002.0 596.3L1004.6 598.2L1007.2 598.4L1009.8 598.5L1012.4 596.3L1015.0 596.0L1017.6 592.6L1020.2 594.5L1022.8 595.2L1025.4 599.0L1028.0 599.6L1030.6 597.8L1033.2 597.2L1035.8 597.8L1038.4 599.4L1041.0 599.0L1043.6 599.3L1046.2 599.4L1048.8 601.0L1051.4 597.1L1054.0 596.9L1056.6 597.1L1059.2 600.2L1061.8 598.6L1064.4 598.7L1067.0 595.8L1069.6 599.4L1072.2 599.2L1074.8 601.9L1077.4 601.0L1080.0 601.1L1082.6 600.1L1085.2 600.1L1087.8 601.4L1090.4 600.8L1093.0 598.6L1095.6 597.8L1098.2 598.9L1100.8 603.2L1103.4 601.4L1106.0 603.2L1108.6 601.1L1111.2 599.9L1113.8 599.9H1118.0V633.9z" fill="#bdbec0" stroke="none"/>
<path d="M767.7 594.8h0M768.2 597.7h0M771.4 584.7h0M771.6 595.7h0M773.3 592.3h0M772.9 594.8h0M775.4 585.9h0M776.3 592.5h0M778.6 591.3h0M778.5 600.2h0M780.8 590h0M780.8 598.3h0M784 590.6h0M782.5 599.5h0M786.6 591.7h0M786.6 594.5h0M788.5 595.7h0M788.8 604h0M790.8 595.6h0M791 599h0M794.9 587.3h0M793.6 602h0M796.5 585.2h0M797.7 598.3h0M799.6 587.5h0M799.1 597h0M802.5 585.9h0M801.7 595h0M805.1 584.9h0M804.5 594.4h0M806.8 585.5h0M807.4 589.9h0M809.7 586.2h0M809.2 590.5h0M811.8 587.6h0M811.8 593.8h0M814.1 589.2h0M814.9 597.8h0M818 586.5h0M818.5 597.8h0M819.8 590.7h0M821 592.3h0M821.9 590.3h0M823.5 594.6h0M825.8 588.8h0M825.5 595.7h0M827.6 581.7h0M827.5 595.3h0M829.7 588.3h0M829.8 597.3h0M833 591.1h0M833.9 600.5h0M836.2 589.1h0M836.2 596.5h0M837.5 588.8h0M839.1 590.6h0M839.8 577.8h0M839.5 595.9h0M843.8 585.8h0M842.6 597.9h0M846.7 583.7h0M845 594h0M848.7 589.4h0M848.7 595.9h0M851.8 591.1h0M851.6 596.7h0M854.1 592.7h0M853.6 599.2h0M856.8 594.1h0M857.5 601.2h0M859.7 594.3h0M860.2 597.7h0M861.5 593h0M861.9 599.3h0M864.9 591.2h0M863.1 600.1h0M865.9 588.6h0M866.1 601.5h0M869.6 584.5h0M870.6 593.4h0M872.9 596.5h0M871.3 604.6h0M874.6 596.3h0M875.3 603.5h0M877.3 597.4h0M876.5 603.6h0M880.7 588.2h0M880.5 596.2h0M882.1 595.8h0M883.5 602.4h0M885.3 599h0M884.3 606.6h0M888.1 597.4h0M888.3 599.1h0M890 597.2h0M891.5 598.6h0M892.2 594.7h0M892.9 598.7h0M894.9 595.7h0M895.7 601.7h0M898.9 588.9h0M897.4 598.8h0M899.8 597.3h0M900.9 600h0M903.4 590.3h0M902.9 601.7h0M905.5 596.1h0M905.4 596.1h0M908.3 594.4h0M908.1 602.2h0M910.7 587.4h0M912.1 599.8h0M913.9 586.5h0M913.6 598.7h0M915.3 591.7h0M915.2 595.5h0M919.8 580.1h0M917.9 593.5h0M921 588.8h0M920.7 590.8h0M924.3 579.8h0M923.9 593h0M926.5 589.1h0M926.3 590h0M928.9 589.2h0M929.9 592.7h0M932.3 579h0M932.2 592.6h0M934.8 588.5h0M933.9 596h0M937.6 577h0M938.2 594.6h0M938.9 587h0M939.4 589.2h0M941.7 584.2h0M941 591.9h0M944.4 580.7h0M943.8 594.8h0M947.2 584h0M947.7 590.8h0M949.3 583.8h0M950.9 593.5h0M953.5 584.3h0M952.3 590.6h0M955.7 576.7h0M956 592.7h0M958.6 579h0M958.1 596.5h0M961.1 575.3h0M960.2 589.9h0M962.7 576.7h0M961.9 591.6h0M965.6 584.9h0M966.5 590.8h0M968.3 585.3h0M969.1 591.4h0M971.6 589.1h0M971.6 599.1h0M973.6 589h0M972.7 589.1h0M976.6 593.3h0M976.1 596.1h0M979 589.7h0M979 591.4h0M980.8 588.8h0M980.2 598.6h0M983.1 572.3h0M982.8 588.7h0M986.5 584.1h0M987.2 594.2h0M990 585h0M988.7 594.5h0M991.2 587.6h0M992.1 593.1h0M994.8 590h0M993.6 593.1h0M996.7 589.7h0M995.6 598.6h0M999.1 589.7h0M999.4 599.2h0M1001.7 586.8h0M1002.1 592.4h0M1005.6 589.2h0M1004.1 590.4h0M1006.8 589.3h0M1006 590.2h0M1010.7 589.5h0M1010.3 593.6h0M1013.3 582.7h0M1011.6 597.1h0M1015.6 586.4h0M1016.3 590.7h0M1017.5 582.1h0M1017.1 583.4h0M1021 573.8h0M1020.1 589.2h0M1021.9 580.6h0M1022.7 595.9h0M1026.3 590.2h0M1025.9 595.9h0M1028.6 590.9h0M1029.3 594.4h0M1031 588.7h0M1029.7 593.7h0M1033.1 587.9h0M1032.4 597.4h0M1035.2 588.7h0M1035.4 593.4h0M1038.8 590.7h0M1038.2 596.3h0M1040.4 590.2h0M1042.1 590.7h0M1043.9 590.5h0M1043.7 599.5h0M1046.4 585h0M1045.5 599.4h0M1048.8 592.6h0M1047.9 593.9h0M1051.6 577.3h0M1051.5 591.7h0M1054 576.6h0M1053.1 588.7h0M1056.1 580.3h0M1056 589.6h0M1058.7 587.3h0M1060.2 592.2h0M1061.7 589.7h0M1062.7 599.5h0M1064.3 585.2h0M1063.6 591.5h0M1066 575.8h0M1066.1 589.7h0M1069.5 586h0M1070.5 591.7h0M1071.4 590.4h0M1071.7 599.1h0M1075.6 593.7h0M1074.4 602.6h0M1076.7 592.7h0M1076.8 601.5h0M1079.5 592.7h0M1079 595.9h0M1081.9 591.5h0M1083.2 596.2h0M1085.1 591.5h0M1085 591.7h0M1088.6 593.2h0M1086.8 593.2h0M1091.2 583.8h0M1091.1 600h0M1092 589.6h0M1091.7 599.1h0M1096 578.2h0M1096.7 590.4h0M1098.6 590.1h0M1098.7 594.2h0M1100.1 585.3h0M1101.3 601h0M1104.1 593.2h0M1102.9 600.3h0M1105.1 595.4h0M1105.5 596.8h0M1108.2 592.8h0M1107.8 596h0M1110.5 587.8h0M1112.5 595.7h0M1113.5 584.6h0M1113.4 598.7h0M768 629.2h0M771.2 629.4h0M774.4 629.3h0M777.6 629.1h0M780.8 629.2h0M784 629.7h0M787.2 629.5h0M790.4 629.7h0M793.6 629.6h0M796.8 629.5h0M800 629.2h0M803.2 629.2h0M806.4 629.7h0M809.6 629.5h0M812.8 629.5h0M816 629.2h0M819.2 629.6h0M822.4 629.4h0M825.6 629.2h0M828.8 629.2h0M832 629.7h0M835.2 629.5h0M838.4 629.2h0M841.6 629.1h0M844.8 629.6h0M848 629.3h0M851.2 629.4h0M854.4 629.2h0M857.6 629.2h0M860.8 629.4h0M864 629.4h0M867.2 629.2h0M870.4 629.2h0M873.6 629.4h0M876.8 629.2h0M880 629.1h0M883.2 629.4h0M886.4 629.1h0M889.6 629.5h0M892.8 629.6h0M896 629.5h0M899.2 629.7h0M902.4 629.2h0M905.6 629.4h0M908.8 629.3h0M912 629.1h0M915.2 629.6h0M918.4 629.1h0M921.6 629.7h0M924.8 629.5h0M928 629.7h0M931.2 629.1h0M934.4 629.6h0M937.6 629.7h0M940.8 629.6h0M944 629.4h0M947.2 629.5h0M950.4 629.4h0M953.6 629.6h0M956.8 629.4h0M960 629.4h0M963.2 629.3h0M966.4 629.5h0M969.6 629.5h0M972.8 629.7h0M976 629.6h0M979.2 629.3h0M982.4 629.5h0M985.6 629.2h0M988.8 629.4h0M992 629.4h0M995.2 629.5h0M998.4 629.1h0M1001.6 629.2h0M1004.8 629.2h0M1008 629.5h0M1011.2 629.2h0M1014.4 629.4h0M1017.6 629.6h0M1020.8 629.4h0M1024 629.2h0M1027.2 629.5h0M1030.4 629.3h0M1033.6 629.4h0M1036.8 629.2h0M1040 629.5h0M1043.2 629.3h0M1046.4 629.7h0M1049.6 629.4h0M1052.8 629.5h0M1056 629.7h0M1059.2 629.7h0M1062.4 629.1h0M1065.6 629.7h0M1068.8 629.2h0M1072 629.7h0M1075.2 629.6h0M1078.4 629.3h0M1081.6 629.5h0M1084.8 629.4h0M1088 629.4h0M1091.2 629.5h0M1094.4 629.4h0M1097.6 629.5h0M1100.8 629.5h0M1104 629.1h0M1107.2 629.5h0M1110.4 629.5h0M1113.6 629.6h0M771.1 577.1h0M778.8 571.3h0M790.3 569.4h0M802.7 565.6h0M806.6 566.5h0M810.4 571.3h0M794.1 578h0M844.9 566.2h0M867 558.9h0M872.7 558.9h0M877.5 558.9h0M861.2 571.3h0M874.6 571.3h0M926.4 564.6h0M939.8 566.5h0M949.4 576.1h0M959.9 559.8h0M959 566.5h0M960.9 572.3h0M999.2 575.2h0M1016.5 574.2h0M1024.2 572.3h0M1018.4 555h0M1035.7 568.5h0M1053.9 575.2h0M1078.8 548.3h0M1078.8 559.8h0M1078.8 568.5h0M1091.3 565.6h0M1102.8 566.5h0M1070.2 576.1h0M1107.6 577.1h0M767.4 460.7h0" stroke="#bdbec0" stroke-width="8.6"/>
<path d="M898 599.1h0M898 601.4h0M898 603.7h0M898 606h0M898 608.3h0M898 610.6h0M898 612.9h0M898 615.2h0M898 617.5h0M898 619.8h0M898 622.1h0M898 624.4h0M898 626.7h0" stroke="#e6bd7e" stroke-width="2"/>
<path d="M912.7 607.1h0M907.5 589.8h0M917.6 583.1h0M917.7 586.2h0M910.7 611.1h0M905.9 602.3h0M916.3 599.2h0M907.9 583h0M918.3 585.2h0M914.5 611.9h0M909.3 607.9h0M914.8 590.4h0M908.8 626.2h0M908.3 604.4h0M911.6 618.9h0M917.1 618.2h0M914 607h0M906.7 608.7h0M911.3 617.8h0M910.6 586.1h0M910.7 621.6h0M912.2 613.4h0M906.3 591.1h0M909.1 604.2h0M907.1 627.3h0M910 580h0M908.7 605.1h0M913.8 620.7h0M906.7 628.5h0M917.1 605.7h0M914.2 595.3h0M907.5 580.5h0M918.5 624.5h0M911.5 610.1h0M911.9 614.4h0M906.8 617.7h0M907.9 609.6h0M913.9 622.4h0M913.8 588.9h0M916.5 598.7h0M913.1 620h0M918.7 585.2h0M911.6 595.7h0M916.9 599.9h0M917.8 619.7h0M911.2 618.2h0M914.7 585.9h0M909.5 586.8h0M916.7 599.8h0M909.6 615.9h0M918.8 587.1h0M914.8 591.4h0M916.2 617.3h0M915.9 609.2h0M907.2 622.6h0M907 609h0M918.4 593.4h0M912 613.8h0M914.2 596.2h0M911.1 624.8h0M915.2 588.7h0M914.7 622.6h0M913.6 624.7h0M909.1 594.5h0M917.2 592.8h0M907.2 587.4h0M917.4 621.1h0M908.2 617.1h0M908.2 611.1h0M905.6 608.8h0M913.9 572.3h0M912 576.1h0M905.3 583.8h0M903.4 589.5h0" stroke="#f5ba5c" stroke-width="8.6"/>
</g>
<line x1="768.5" y1="529.7" x2="1111.5" y2="529.7" stroke="#111" stroke-width="1.9" stroke-dasharray="3 3"/>
<line x1="917.8" y1="453" x2="917.8" y2="637.6" stroke="#e8202a" stroke-width="1.8" stroke-dasharray="3 3"/>
<line x1="939.5" y1="558.5" x2="931" y2="572.5" stroke="#e8202a" stroke-width="1.5"/>
<path clip-path="url(#c8)" d="M917.8 569.2l10.2 10.2l-10.2 10.2l-10.2 -10.2z" fill="#5d58a6" stroke="#111" stroke-width="1.1"/>
<text x="772.5" y="524.7" font-size="21" letter-spacing="-0.3" fill="#111">1.9 x 10<tspan font-size="13" dy="-8.5">-5</tspan></text>
<text x="934" y="554.5" font-size="21" fill="#e8202a">rs10758593</text>
<rect x="768.5" y="453" width="343" height="184.6" fill="none" stroke="#000" stroke-width="1.4"/>
<path d="M767.8 637.8H1111.3V452.3" fill="none" stroke="#000" stroke-width="2.2"/>
<rect x="708.7" y="645" width="59.8" height="186.6" fill="#d1d2d4"/>
<text x="734.3" y="738" font-size="25.32" letter-spacing="-0.72" text-anchor="middle" transform="rotate(-90 734.3 738)">Type 1 Diabetes</text>
<text x="759.6" y="738" font-size="25.32" letter-spacing="-0.72" text-anchor="middle" transform="rotate(-90 759.6 738)">-log10(p-value)</text>
<path d="M690.1 653.7h18.6M690.1 709.8h18.6M690.1 765.9h18.6M690.1 822.1h18.6" stroke="#303030" stroke-width="2.9" fill="none"/>
<text x="686.7" y="661.4" font-size="21.5" text-anchor="end">30</text>
<text x="686.7" y="717.5" font-size="21.5" text-anchor="end">20</text>
<text x="686.7" y="773.6" font-size="21.5" text-anchor="end">10</text>
<text x="686.7" y="829.8" font-size="21.5" text-anchor="end">0</text>
<clipPath id="c9"><rect x="768.5" y="645.7" width="343" height="184.6"/></clipPath>
<rect x="843.4" y="645.7" width="148.4" height="184.6" fill="#e9eaeb"/>
<g clip-path="url(#c9)" fill="none" stroke-linecap="round">
<path d="M762.0 826.6V812.6L768.0 812.6L770.6 813.5L773.2 814.1L775.8 813.2L778.4 812.0L781.0 811.8L783.6 812.1L786.2 812.6L788.8 813.2L791.4 813.2L794.0 813.0L796.6 812.0L799.2 811.5L801.8 811.9L804.4 812.1L807.0 812.5L809.6 811.2L812.2 810.8L814.8 810.5L817.4 812.2L820.0 812.7L822.6 813.9L825.2 812.1L827.8 812.8L830.4 812.1L833.0 812.0L835.6 812.7L838.2 812.6L840.8 814.2L843.4 813.6L846.0 814.0L848.6 813.1L851.2 812.8L853.8 811.5L856.4 811.0L859.0 811.2L861.6 809.4L864.2 808.3L866.8 806.7L869.4 806.3L872.0 804.8L874.6 802.7L877.2 802.1L879.8 801.9L882.4 801.6L885.0 800.0L887.6 800.2L890.2 799.8L892.8 800.8L895.4 801.1L898.0 801.3L900.6 800.4L903.2 800.0L905.8 800.2L908.4 800.9L911.0 800.8L913.6 800.9L916.2 801.1L918.8 801.5L921.4 802.9L924.0 804.3L926.6 806.8L929.2 807.2L931.8 807.6L934.4 806.8L937.0 809.0L939.6 810.2L942.2 811.7L944.8 812.5L947.4 812.7L950.0 812.6L952.6 812.7L955.2 813.3L957.8 813.5L960.4 813.7L963.0 813.4L965.6 813.4L968.2 811.7L970.8 812.9L973.4 814.3L976.0 815.2L978.6 813.7L981.2 813.8L983.8 814.3L986.4 815.5L989.0 814.2L991.6 814.0L994.2 813.0L996.8 813.2L999.4 812.2L1002.0 812.3L1004.6 812.5L1007.2 812.5L1009.8 812.4L1012.4 813.3L1015.0 814.3L1017.6 814.0L1020.2 813.3L1022.8 813.2L1025.4 813.5L1028.0 811.8L1030.6 811.6L1033.2 811.5L1035.8 813.0L1038.4 813.2L1041.0 812.8L1043.6 812.5L1046.2 812.2L1048.8 813.6L1051.4 813.4L1054.0 813.2L1056.6 812.5L1059.2 814.7L1061.8 815.1L1064.4 815.7L1067.0 814.4L1069.6 814.6L1072.2 814.4L1074.8 813.7L1077.4 813.4L1080.0 812.2L1082.6 813.3L1085.2 813.5L1087.8 813.4L1090.4 812.7L1093.0 813.0L1095.6 814.3L1098.2 814.8L1100.8 814.4L1103.4 813.5L1106.0 813.1L1108.6 812.7L1111.2 812.6L1113.8 812.6H1118.0V826.6z" fill="#283e6e" stroke="none"/>
<path d="M768.1 808.1h0M767.5 811.3h0M769.9 809.3h0M769.6 809.9h0M772.6 810.1h0M772.9 812.9h0M775.5 805.7h0M776.8 811.5h0M777.5 807.3h0M777.4 809.8h0M780.6 807h0M781.1 807.6h0M782.6 807.4h0M784.6 811.1h0M786.2 808h0M785.8 811.1h0M788.2 808.9h0M789.2 810.2h0M791.4 808.8h0M791.2 809.2h0M794.2 808.6h0M795 809.4h0M796.7 804h0M796.7 808.3h0M800.1 806.6h0M798.1 810.3h0M802.3 804.2h0M802.4 811.4h0M805.4 807.4h0M804.2 808.5h0M807.7 808h0M806.5 809.4h0M808.8 806.3h0M810.9 810h0M811.7 805.7h0M812.1 807.1h0M814.3 802.3h0M815.9 809.2h0M818.1 807.5h0M817.2 808.3h0M820.5 808.2h0M819.4 810.7h0M823.4 809.8h0M821.8 811.8h0M825.2 807.4h0M825.4 811.3h0M827.2 803.8h0M828 812.3h0M831.2 807.4h0M830.5 810.1h0M832.4 807.3h0M833.4 808.7h0M836.5 808.2h0M836.5 812.3h0M838.9 808.1h0M837 811.9h0M841.7 810.2h0M840.8 813.2h0M842.9 809.4h0M842.1 811.5h0M846.5 810h0M845.3 812.8h0M848.5 804.4h0M849.2 809.2h0M852.1 803.5h0M852.1 809.3h0M854.2 806.7h0M854 808.6h0M855.7 805.9h0M856.7 807.6h0M859.2 801.9h0M859.7 809h0M861.4 803.8h0M861.6 805.1h0M864 802.4h0M864.1 802.9h0M866.5 800.3h0M867.9 802.9h0M869.2 799.7h0M869.3 806.2h0M872.6 797.7h0M873.3 799.7h0M874.4 794.9h0M875.2 799.2h0M876.5 790.7h0M876.7 800.5h0M879.2 793.8h0M879.3 794.5h0M883.3 793.5h0M881.4 801.7h0M884.1 791.3h0M884.3 797.9h0M886.6 791.5h0M886.4 794.9h0M890.3 791h0M890.6 792.4h0M893.2 792.4h0M893.7 794.7h0M894.5 792.8h0M895.4 796.9h0M898.6 793h0M898.5 800.9h0M900.4 791.9h0M900 799.5h0M903.3 791.4h0M902.6 792.5h0M905 791.6h0M904.9 795.5h0M909.3 792.5h0M909.2 799.9h0M910.6 792.4h0M910.8 800.8h0M913.8 788.1h0M914.1 798.5h0M915.9 792.8h0M914.9 799.2h0M918 793.3h0M919.6 801.5h0M921.3 795.2h0M920.5 800.7h0M923.5 793h0M925.1 803.9h0M927.1 796.7h0M925.6 802.5h0M929.3 800.9h0M930.4 803.7h0M932 801.5h0M931.8 803.3h0M935 800.4h0M934.1 803.4h0M936.7 798.7h0M936.4 807h0M939.4 804.8h0M939.8 805.9h0M942.8 806.9h0M942.3 809.9h0M945.2 808h0M945.8 809.4h0M947.5 808.2h0M946.7 811.9h0M950 808.1h0M948.8 808.7h0M953.1 808.2h0M953.5 810.9h0M955.7 809.1h0M955.4 811.7h0M958.4 805.4h0M958 810.5h0M959.5 809.6h0M960.3 811h0M963.2 809.2h0M964 811.9h0M966.5 809.2h0M966.8 812.9h0M968.1 806.9h0M968.2 807.2h0M969.9 808.5h0M971.2 809.6h0M972.6 810.4h0M974.5 812.8h0M975.9 811.6h0M976.9 814.7h0M979.1 809.6h0M979.8 811.8h0M981.8 809.7h0M979.9 811h0M983.4 810.3h0M985 811.7h0M986.4 812h0M985.7 813.5h0M988.2 810.2h0M987.9 811.4h0M991 810h0M990.4 811.9h0M994.6 804.4h0M994.7 809.2h0M996.1 808.9h0M997.2 810.7h0M998.7 807.6h0M999.5 811.3h0M1002.4 807.7h0M1000.9 809.9h0M1004.6 807.9h0M1004.9 811.8h0M1006.8 807.9h0M1007.9 810.7h0M1009.3 804h0M1010.6 809.6h0M1012.8 809.1h0M1011.7 811.5h0M1015.1 810.3h0M1015.3 811.2h0M1017.8 805.4h0M1016.9 812.5h0M1020.6 809h0M1019.3 812.2h0M1022.7 808.8h0M1023.8 812.7h0M1025.6 805.6h0M1026.4 810.9h0M1028.1 807h0M1027.9 807.7h0M1030.5 806.7h0M1031.8 808.4h0M1033.7 806.6h0M1034.2 810.1h0M1036.5 808.7h0M1036 809.3h0M1037.7 808.9h0M1037.3 810.9h0M1041.4 808.3h0M1041.8 811.6h0M1043 808h0M1043.8 811.8h0M1045.3 807.5h0M1047.4 811h0M1049.2 809.4h0M1047.7 812h0M1050.8 809.1h0M1051.7 812.8h0M1053 808.8h0M1052.8 809.1h0M1056.3 807.9h0M1057.2 809h0M1059.1 810.8h0M1058.2 811.2h0M1060.9 811.4h0M1062.5 814.4h0M1064.7 812.3h0M1065.4 814.7h0M1066.4 810.5h0M1068.3 813.8h0M1069.3 807.4h0M1070.5 811.3h0M1072.5 810.5h0M1072.8 814h0M1075.7 809.6h0M1073.7 809.7h0M1076.9 809.1h0M1078.4 812.8h0M1079.6 807.6h0M1078.9 809.9h0M1082.9 809.1h0M1081.6 809.7h0M1084.4 809.3h0M1084.8 812.6h0M1087 809.2h0M1087.5 810.8h0M1090.4 808.2h0M1090.9 812.1h0M1092.9 808.6h0M1092.7 811.4h0M1095.4 810.3h0M1095.1 813.5h0M1098.2 811h0M1097.3 814.2h0M1100.5 810.5h0M1101.1 811.3h0M1103.1 809.3h0M1103.2 811.3h0M1106.9 808.8h0M1105.3 812.6h0M1109.5 808.2h0M1109.5 809.2h0M1110.4 803.6h0M1110.9 808.9h0M1113.8 808.1h0M1114 811.7h0M768 822.3h0M771.2 822.1h0M774.4 822.1h0M777.6 822h0M780.8 821.9h0M784 822h0M787.2 822.3h0M790.4 822.4h0M793.6 822h0M796.8 822h0M800 822h0M803.2 822.3h0M806.4 822h0M809.6 821.9h0M812.8 822h0M816 821.9h0M819.2 821.9h0M822.4 821.9h0M825.6 822.2h0M828.8 822.4h0M832 822h0M835.2 822h0M838.4 822.2h0M841.6 821.8h0M844.8 821.9h0M848 822.1h0M851.2 822.1h0M854.4 822h0M857.6 822h0M860.8 821.8h0M864 822h0M867.2 821.9h0M870.4 821.9h0M873.6 821.8h0M876.8 822.3h0M880 821.8h0M883.2 822h0M886.4 821.9h0M889.6 821.9h0M892.8 822.3h0M896 822.4h0M899.2 822.4h0M902.4 822h0M905.6 822.1h0M908.8 822.1h0M912 821.8h0M915.2 822.1h0M918.4 822.2h0M921.6 822h0M924.8 822.3h0M928 822.1h0M931.2 822h0M934.4 822.3h0M937.6 822.1h0M940.8 822h0M944 822.3h0M947.2 822.1h0M950.4 822.2h0M953.6 822.1h0M956.8 822.3h0M960 822.2h0M963.2 822.1h0M966.4 822h0M969.6 822.3h0M972.8 822.3h0M976 822.2h0M979.2 822.3h0M982.4 822.1h0M985.6 822h0M988.8 822h0M992 822h0M995.2 821.9h0M998.4 822.4h0M1001.6 822.1h0M1004.8 821.9h0M1008 821.9h0M1011.2 822.1h0M1014.4 822.3h0M1017.6 822.3h0M1020.8 822.3h0M1024 822h0M1027.2 822.1h0M1030.4 822.4h0M1033.6 822h0M1036.8 822.2h0M1040 821.8h0M1043.2 822.1h0M1046.4 822.1h0M1049.6 822.3h0M1052.8 822.4h0M1056 822.3h0M1059.2 822h0M1062.4 822.3h0M1065.6 822.3h0M1068.8 821.8h0M1072 822.1h0M1075.2 822.1h0M1078.4 822h0M1081.6 821.9h0M1084.8 822.3h0M1088 821.9h0M1091.2 822.1h0M1094.4 821.8h0M1097.6 822.1h0M1100.8 822.4h0M1104 821.8h0M1107.2 821.9h0M1110.4 822.3h0M1113.6 822.3h0M767.4 653.4h0M772 799.7h0M790.3 802.6h0M830.5 802.6h0M842 802.6h0M872.7 789.1h0M882.3 772.8h0M884.2 774.8h0M899.5 774.8h0M906.3 777.6h0M891.9 783.4h0M876.5 783.4h0M916.8 781.5h0M924.5 785.3h0M933.1 788.2h0M941.7 793.9h0M949.4 800.6h0M923.5 798.7h0M922.6 802.6h0M884.2 787.2h0M895.7 785.3h0M880.4 789.1h0M983.9 804.5h0M1052.9 804.5h0M1066.3 804.5h0M1083.6 801.6h0M1102.8 804.5h0M986.8 805.4h0M857.4 801.6h0M867 798.7h0M879.7 787.1h0M884.1 793.5h0M879.1 784.7h0M886.3 785h0M877 791.8h0M897.1 784.4h0M890.9 780.1h0M882.3 786.8h0M898 791h0M882 791.9h0M902.5 789.2h0M885.9 793.2h0M881.5 784h0M891 792.8h0M886.1 789.1h0M889.4 788.6h0M893.6 785.2h0M898.6 784.3h0" stroke="#283e6e" stroke-width="8.9"/>
<path d="M923.5 727.8h0M914.9 738.3h0M923.5 777.6h0" stroke="#63bb7a" stroke-width="8.5"/>
<path d="M922.6 732.6h0M917.8 758.1h0M907.2 782.4h0M901.5 792h0M910.1 793h0M918.7 792h0M925.4 780.5h0" stroke="#2fbcd4" stroke-width="8.5"/>
<path d="M907.2 727.8h0M918.7 743.1h0M903.4 723.9h0" stroke="#f5a328" stroke-width="8.5"/>
<path d="M906.3 718.6h0M908.4 719.7h0" stroke="#e31f2b" stroke-width="8.5"/>
</g>
<line x1="768.5" y1="784.3" x2="1111.5" y2="784.3" stroke="#111" stroke-width="1.9" stroke-dasharray="3 3"/>
<line x1="917.8" y1="645.7" x2="917.8" y2="830.3" stroke="#e8202a" stroke-width="1.8" stroke-dasharray="3 3"/>
<path clip-path="url(#c9)" d="M917.8 711.2l10.2 10.2l-10.2 10.2l-10.2 -10.2z" fill="#5d58a6" stroke="#111" stroke-width="1.1"/>
<text x="772.6" y="778.5" font-size="21" letter-spacing="-0.3" fill="#111">5 x 10<tspan font-size="13" dy="-8.5">-8</tspan></text>
<text x="935" y="712.5" font-size="21" fill="#e8202a">rs10758593</text>
<rect x="768.5" y="645.7" width="343" height="184.6" fill="none" stroke="#000" stroke-width="1.4"/>
<path d="M767.8 830.5H1111.3V645" fill="none" stroke="#000" stroke-width="2.2"/>
<rect x="708.7" y="837.9" width="59.8" height="186.1" fill="#d1d2d4"/>
<text x="734.3" y="930.7" font-size="25.32" letter-spacing="-0.72" text-anchor="middle" transform="rotate(-90 734.3 930.7)">Fasting Glucose</text>
<text x="759.6" y="930.7" font-size="25.32" letter-spacing="-0.72" text-anchor="middle" transform="rotate(-90 759.6 930.7)">-log10(p-value)</text>
<path d="M690.1 847.1h18.6M690.1 902.7h18.6M690.1 958.3h18.6M690.1 1014h18.6" stroke="#303030" stroke-width="2.9" fill="none"/>
<text x="686.7" y="854.8" font-size="21.5" text-anchor="end">30</text>
<text x="686.7" y="910.4" font-size="21.5" text-anchor="end">20</text>
<text x="686.7" y="966" font-size="21.5" text-anchor="end">10</text>
<text x="686.7" y="1021.7" font-size="21.5" text-anchor="end">0</text>
<clipPath id="c10"><rect x="768.5" y="838.6" width="343" height="184.1"/></clipPath>
<rect x="843.4" y="838.6" width="148.4" height="184.1" fill="#e9eaeb"/>
<g clip-path="url(#c10)" fill="none" stroke-linecap="round">
<path d="M762.0 1018.5V1005.9L768.0 1005.9L770.6 1007.6L773.2 1008.2L775.8 1007.0L778.4 1006.0L781.0 1006.7L783.6 1007.3L786.2 1006.4L788.8 1006.4L791.4 1005.5L794.0 1006.0L796.6 1004.9L799.2 1005.0L801.8 1005.6L804.4 1005.9L807.0 1005.3L809.6 1005.2L812.2 1005.3L814.8 1007.0L817.4 1007.0L820.0 1006.4L822.6 1004.9L825.2 1004.3L827.8 1004.3L830.4 1004.6L833.0 1004.3L835.6 1003.7L838.2 1003.7L840.8 1003.0L843.4 1003.1L846.0 1003.2L848.6 1003.1L851.2 1001.8L853.8 999.8L856.4 998.9L859.0 998.8L861.6 998.1L864.2 996.8L866.8 995.6L869.4 995.7L872.0 994.8L874.6 993.5L877.2 991.7L879.8 989.8L882.4 990.4L885.0 990.4L887.6 991.2L890.2 991.0L892.8 990.9L895.4 990.9L898.0 991.4L900.6 992.5L903.2 993.6L905.8 994.3L908.4 995.2L911.0 995.3L913.6 996.2L916.2 995.8L918.8 996.6L921.4 996.0L924.0 996.2L926.6 995.8L929.2 996.4L931.8 996.2L934.4 995.3L937.0 996.0L939.6 995.9L942.2 996.8L944.8 996.2L947.4 997.3L950.0 996.7L952.6 997.9L955.2 998.3L957.8 1000.9L960.4 1002.7L963.0 1003.0L965.6 1002.7L968.2 1002.8L970.8 1003.8L973.4 1004.2L976.0 1004.7L978.6 1005.4L981.2 1006.1L983.8 1005.4L986.4 1004.7L989.0 1004.6L991.6 1004.4L994.2 1005.0L996.8 1005.4L999.4 1004.9L1002.0 1005.1L1004.6 1004.6L1007.2 1005.5L1009.8 1005.2L1012.4 1005.5L1015.0 1005.4L1017.6 1005.2L1020.2 1005.7L1022.8 1006.1L1025.4 1005.7L1028.0 1005.0L1030.6 1005.3L1033.2 1006.0L1035.8 1006.9L1038.4 1007.4L1041.0 1007.8L1043.6 1006.4L1046.2 1006.1L1048.8 1006.9L1051.4 1007.8L1054.0 1007.9L1056.6 1006.5L1059.2 1005.8L1061.8 1005.6L1064.4 1006.0L1067.0 1007.2L1069.6 1006.4L1072.2 1006.9L1074.8 1006.4L1077.4 1005.8L1080.0 1005.9L1082.6 1005.9L1085.2 1007.2L1087.8 1006.5L1090.4 1006.4L1093.0 1005.6L1095.6 1005.6L1098.2 1005.6L1100.8 1007.0L1103.4 1007.1L1106.0 1008.2L1108.6 1006.9L1111.2 1007.2L1113.8 1006.0H1118.0V1018.5z" fill="#283e6e" stroke="none"/>
<path d="M767.4 1001.9h0M768.4 1003.5h0M771.5 1004.1h0M770.7 1005.4h0M772.7 1001.1h0M774.3 1006.6h0M774.9 1003.3h0M776.9 1004.6h0M777.6 1002h0M778.2 1002.6h0M781.7 1002.9h0M782.1 1003.6h0M783.2 999.2h0M783.3 1006.6h0M785.2 1002.6h0M786.9 1004.8h0M788.9 1002.5h0M790 1005.2h0M791.8 1001.3h0M790.1 1003h0M793.5 1001.9h0M795.1 1002h0M797.3 1000.6h0M796.5 1003.4h0M800.1 1000.7h0M798.3 1004.7h0M802.4 1001.4h0M803 1002.8h0M805.1 1001.8h0M805.4 1004.2h0M807.2 997.2h0M806.8 1002.1h0M810.5 1000.9h0M808.8 1003.6h0M812.2 996.3h0M812.3 1003.8h0M814.2 1003.3h0M814.2 1006h0M816.9 1003.4h0M818.4 1006.4h0M819.1 1002.5h0M820.5 1003.9h0M823.1 1000.5h0M821.9 1003.2h0M825.5 999.7h0M824.4 1001.2h0M828.2 999.7h0M828.1 1002.8h0M830.9 1000.1h0M830.4 1003.2h0M832.6 999.8h0M833.4 1003.6h0M836.3 999h0M836.7 1002.6h0M837.5 999h0M838.7 1001.6h0M841.1 997.9h0M842 1001.4h0M844 998.2h0M843.4 1002.9h0M846.2 995h0M845.5 998.8h0M848.6 998.1h0M848.2 1000.4h0M851.9 996.4h0M850.8 999.2h0M854.8 993.7h0M852.5 997.8h0M857.2 992.5h0M855.6 998.3h0M858.2 992.4h0M858.3 993.7h0M861.8 991.5h0M862.3 997.8h0M864.7 989.8h0M863.1 991.9h0M867.4 988.1h0M867 994.6h0M869.5 988.3h0M869.1 990.7h0M871.3 987h0M872.3 988.4h0M873.8 985.3h0M873.5 988.1h0M876.7 982.9h0M876.2 984.1h0M879.7 980.4h0M878.7 987.5h0M883.3 981.2h0M883.4 988.4h0M884.5 981.2h0M886.2 987.5h0M887.9 982.2h0M887.5 991.6h0M890 978.9h0M889.2 990h0M893.4 981.8h0M893.9 982.8h0M894.8 981.8h0M895.2 982.3h0M898.6 982.6h0M899.2 987.6h0M901.5 983.9h0M901.8 992.2h0M903.6 985.5h0M902.5 992.2h0M905.1 986.4h0M904.8 986.8h0M908.7 987.6h0M907.7 994.5h0M910.5 987.7h0M911.6 995.6h0M913.2 989h0M913.8 989.9h0M917.1 988.4h0M917 994.9h0M917.8 989.4h0M918.6 990.8h0M922.3 988.7h0M920.7 993.6h0M923.9 984.1h0M924.4 991.6h0M927.5 988.5h0M926.6 989.1h0M928.8 989.2h0M929.6 996.1h0M931.4 984h0M931.3 994h0M934.5 987.8h0M933.1 989.7h0M936.5 988.7h0M936.8 989.1h0M940.5 988.6h0M939.3 994h0M941.7 989.7h0M941.6 992.4h0M944.9 988.9h0M945.4 991.1h0M948.3 990.3h0M948.5 990.8h0M949.9 989.6h0M950.9 994.9h0M953.1 991.2h0M952.2 996.1h0M954.8 987.2h0M955.8 995.7h0M958.7 995.2h0M957.1 997.5h0M959.5 997.7h0M961.5 1001h0M963.2 998h0M962.2 998.8h0M966.5 994.1h0M965.1 1002.5h0M967.6 997.7h0M967.2 998.5h0M969.8 994.1h0M970.6 1002.9h0M973.1 999.6h0M974.2 1001.8h0M976.7 1000.3h0M976.1 1004.4h0M977.7 996.5h0M978.4 1004.8h0M980.2 1002.1h0M980.2 1003.6h0M982.9 1001.2h0M984.7 1002.5h0M986 1000.2h0M987.6 1003.7h0M989.9 1000.1h0M990 1002.9h0M992.2 999.9h0M992.3 1002.4h0M993.7 1000.7h0M993 1003.1h0M996.5 1001.2h0M997.6 1004.6h0M999 1000.5h0M1000.5 1000.9h0M1002.1 1000.8h0M1001.6 1004.8h0M1004.6 1000.1h0M1003.4 1000.1h0M1006.4 998.2h0M1008.5 1002.5h0M1010 1001h0M1009.5 1003.8h0M1012.2 1001.3h0M1013.2 1004.9h0M1014.8 1001.2h0M1014.5 1001.9h0M1018 1001h0M1017.8 1002.7h0M1021 1001.6h0M1020.4 1001.6h0M1022.3 1002.1h0M1023.8 1002.4h0M1024.6 1001.5h0M1025.1 1002.1h0M1028.9 1000.7h0M1028.4 1004.5h0M1031.3 1001h0M1029.6 1004.4h0M1033.1 1002h0M1032.6 1003.1h0M1035.4 1003.2h0M1034.8 1005h0M1039 1003.9h0M1037.8 1005.1h0M1040.2 1004.3h0M1041.7 1006.1h0M1044.4 998.3h0M1043.1 1005.3h0M1045.5 1002.1h0M1046.5 1005h0M1048.1 1003.2h0M1048.8 1006h0M1050.8 1004.4h0M1051.5 1005.5h0M1053.8 1004.5h0M1053 1005.2h0M1056.6 1002.6h0M1056.4 1005.9h0M1059 1001.7h0M1059.4 1005.4h0M1062.5 1001.5h0M1061.2 1001.8h0M1064.1 1002h0M1064.3 1003.3h0M1066.8 1003.5h0M1066.9 1003.7h0M1069 1002.5h0M1068.8 1003.7h0M1072 1003.1h0M1072.4 1004.5h0M1075.7 1002.5h0M1074.7 1005.9h0M1076.6 1001.7h0M1078.6 1004.9h0M1080.2 997.5h0M1080.9 1002.7h0M1083.4 1001.9h0M1081.6 1005.2h0M1085.6 1003.6h0M1085.7 1005.2h0M1087.7 1002.7h0M1089 1005.3h0M1090.8 1002.5h0M1089.4 1004.7h0M1093.5 998h0M1092.9 1004.8h0M1094.9 1001.5h0M1095.6 1004.2h0M1098.8 1001.4h0M1097.7 1003.9h0M1100.5 1003.4h0M1102 1005.2h0M1103.2 1000.1h0M1102.3 1005.1h0M1105 1000.8h0M1106.4 1005.5h0M1109.6 1003.2h0M1109.8 1005.2h0M1110.4 1003.6h0M1111.3 1005.7h0M1113.1 1002h0M1113.3 1003.3h0M768 1014.3h0M771.2 1014.2h0M774.4 1014.2h0M777.6 1013.7h0M780.8 1013.7h0M784 1013.7h0M787.2 1014h0M790.4 1013.7h0M793.6 1013.8h0M796.8 1013.7h0M800 1014.3h0M803.2 1014h0M806.4 1013.9h0M809.6 1013.8h0M812.8 1013.9h0M816 1013.8h0M819.2 1014.2h0M822.4 1014.3h0M825.6 1014.2h0M828.8 1013.7h0M832 1014.1h0M835.2 1014.2h0M838.4 1013.9h0M841.6 1014.2h0M844.8 1013.7h0M848 1014h0M851.2 1014.1h0M854.4 1014h0M857.6 1013.8h0M860.8 1014.3h0M864 1014.2h0M867.2 1013.9h0M870.4 1014.1h0M873.6 1013.8h0M876.8 1014.1h0M880 1014.1h0M883.2 1014.1h0M886.4 1014h0M889.6 1014.2h0M892.8 1013.9h0M896 1013.7h0M899.2 1013.8h0M902.4 1013.8h0M905.6 1014.2h0M908.8 1013.7h0M912 1014.3h0M915.2 1014h0M918.4 1013.7h0M921.6 1014.3h0M924.8 1014.3h0M928 1013.8h0M931.2 1014h0M934.4 1013.8h0M937.6 1013.8h0M940.8 1013.7h0M944 1014.2h0M947.2 1013.8h0M950.4 1013.8h0M953.6 1013.8h0M956.8 1013.9h0M960 1014.3h0M963.2 1013.8h0M966.4 1013.8h0M969.6 1013.7h0M972.8 1014.1h0M976 1013.8h0M979.2 1014.2h0M982.4 1014.3h0M985.6 1013.9h0M988.8 1014h0M992 1014.2h0M995.2 1014h0M998.4 1013.9h0M1001.6 1014.2h0M1004.8 1014.3h0M1008 1013.8h0M1011.2 1014.2h0M1014.4 1013.7h0M1017.6 1014.2h0M1020.8 1013.9h0M1024 1014.3h0M1027.2 1013.7h0M1030.4 1013.8h0M1033.6 1013.9h0M1036.8 1014h0M1040 1014.2h0M1043.2 1013.8h0M1046.4 1013.7h0M1049.6 1013.8h0M1052.8 1013.8h0M1056 1014.3h0M1059.2 1014h0M1062.4 1013.8h0M1065.6 1013.9h0M1068.8 1013.9h0M1072 1014h0M1075.2 1013.9h0M1078.4 1014.1h0M1081.6 1013.8h0M1084.8 1014.1h0M1088 1014.2h0M1091.2 1014.2h0M1094.4 1013.7h0M1097.6 1014h0M1100.8 1014.2h0M1104 1013.7h0M1107.2 1014.3h0M1110.4 1013.8h0M1113.6 1013.8h0M778.8 998.3h0M797 995.4h0M853.5 988.7h0M865 984.9h0M872.7 973.4h0M874.6 956.1h0M876.5 947.5h0M884.2 942.7h0M895.7 940.8h0M901.5 952.3h0M891.9 963.8h0M884.2 963.8h0M909.1 984.9h0M934.1 961.9h0M937.9 973.4h0M924.5 962.8h0M924.5 946.5h0M924.5 984.9h0M941.7 983h0M951.3 983.9h0M890 941.7h0M880.4 944.6h0M874.6 952.3h0M880.4 965.7h0M888 962.8h0M895.7 967.6h0M876.5 971.5h0M899.5 973.4h0M891.9 981h0M930.2 962.8h0M935 967.6h0M921.6 866h0M913.9 867.9h0M905.3 874.6h0M922.6 878.5h0M920.6 883.3h0M907.2 882.3h0M905.3 889h0M913 887.1h0M916.8 901.5h0M926.4 905.3h0M882.3 920.7h0M885.2 922.6h0M899.5 923.5h0M906.3 934.1h0M917.8 933.7h0M918.7 871.8h0M909.1 885.2h0M895.8 949.8h0M892.9 950.3h0M878.4 946.7h0M894.1 949.2h0M892.4 949.5h0M891.1 955.2h0M886.5 955.3h0M878 951.1h0M879.5 948.6h0M879.7 944.9h0M889.1 943.3h0M893.7 953.2h0M880.2 955.9h0M880.6 948h0M877.5 971.6h0M879.1 972h0M878.9 968.8h0M890.5 967h0M886.6 972.7h0M888 970.1h0M895.3 967.5h0M880 969.9h0M883.8 971.4h0M893.9 978.3h0M884.9 978.9h0M873.8 972.8h0M886.9 971.4h0M883.8 967.8h0M891.6 977.7h0M898.2 967.2h0M875.2 974.7h0M882.5 972h0M884.5 963.8h0M884.7 967.7h0M882.9 972.9h0M888.1 974.9h0M936.6 969.7h0M923.9 972.2h0M928.5 965.3h0M930.2 978.2h0M925.6 970h0M931.1 978.7h0M928.1 967.7h0M934.8 977.5h0" stroke="#283e6e" stroke-width="8.9"/>
<path d="M908.2 891.9h0M910.1 902.8h0M914.9 896.7h0" stroke="#63bb7a" stroke-width="8.5"/>
<path d="M925.4 896.7h0M901.5 960h0M909.1 980.1h0M917.8 985.8h0" stroke="#2fbcd4" stroke-width="8.5"/>
<path d="M913.3 873.3h0" stroke="#f5a328" stroke-width="8.5"/>
<path d="M906.3 850.7h0M908.7 851.6h0" stroke="#e31f2b" stroke-width="8.5"/>
</g>
<line x1="768.5" y1="977.2" x2="1111.5" y2="977.2" stroke="#111" stroke-width="1.9" stroke-dasharray="3 3"/>
<line x1="917.8" y1="838.6" x2="917.8" y2="1022.7" stroke="#e8202a" stroke-width="1.8" stroke-dasharray="3 3"/>
<path clip-path="url(#c10)" d="M917.8 840.5l10.2 10.2l-10.2 10.2l-10.2 -10.2z" fill="#5d58a6" stroke="#111" stroke-width="1.1"/>
<text x="774.5" y="971.5" font-size="21" letter-spacing="-0.3" fill="#111">5 x 10<tspan font-size="13" dy="-8.5">-8</tspan></text>
<text x="936" y="864.5" font-size="21" fill="#e8202a">rs10758593</text>
<rect x="768.5" y="838.6" width="343" height="184.1" fill="none" stroke="#000" stroke-width="1.4"/>
<path d="M767.8 1022.9H1111.3V837.9" fill="none" stroke="#000" stroke-width="2.2"/>
<rect x="708.7" y="1030.4" width="59.8" height="186.5" fill="#d1d2d4"/>
<text x="747.1" y="1123.3" font-size="25.32" letter-spacing="-0.72" text-anchor="middle" transform="rotate(-90 747.1 1123.3)">PP</text>
<path d="M690.1 1039.4h18.6M690.1 1081.4h18.6M690.1 1123.5h18.6M690.1 1165.5h18.6M690.1 1207.6h18.6" stroke="#303030" stroke-width="2.9" fill="none"/>
<text x="686.7" y="1047.1" font-size="21.5" text-anchor="end">1.00</text>
<text x="686.7" y="1089.1" font-size="21.5" text-anchor="end">0.75</text>
<text x="686.7" y="1131.2" font-size="21.5" text-anchor="end">0.50</text>
<text x="686.7" y="1173.2" font-size="21.5" text-anchor="end">0.25</text>
<text x="686.7" y="1215.3" font-size="21.5" text-anchor="end">0.00</text>
<clipPath id="c11"><rect x="768.5" y="1031.1" width="343" height="184.5"/></clipPath>
<rect x="843.4" y="1031.1" width="148.4" height="184.5" fill="#e9eaeb"/>
<g clip-path="url(#c11)" fill="none" stroke-linecap="round">
<path d="M772.8 1207.6h0M774.8 1207.6h0M776.8 1207.6h0M778.8 1207.6h0M780.8 1207.6h0M782.8 1207.6h0M784.8 1207.6h0M786.8 1207.6h0M788.8 1207.6h0M790.8 1207.6h0M792.8 1207.6h0M794.8 1207.6h0M796.8 1207.6h0M798.8 1207.6h0M800.8 1207.6h0M802.8 1207.6h0M804.8 1207.6h0M806.8 1207.6h0M808.8 1207.6h0M810.8 1207.6h0M812.8 1207.6h0M814.8 1207.6h0M816.8 1207.6h0M818.8 1207.6h0M820.8 1207.6h0M822.8 1207.6h0M824.8 1207.6h0M826.8 1207.6h0M828.8 1207.6h0M830.8 1207.6h0M832.8 1207.6h0M834.8 1207.6h0M836.8 1207.6h0M838.8 1207.6h0M840.8 1207.6h0M842.8 1207.6h0M844.8 1207.6h0M846.8 1207.6h0M848.8 1207.6h0M850.8 1207.6h0M852.8 1207.6h0M854.8 1207.6h0M856.8 1207.6h0M858.8 1207.6h0M860.8 1207.6h0M862.8 1207.6h0M864.8 1207.6h0M866.8 1207.6h0M868.8 1207.6h0M870.8 1207.6h0M872.8 1207.6h0M874.8 1207.6h0M876.8 1207.6h0M878.8 1207.6h0M880.8 1207.6h0M882.8 1207.6h0M884.8 1207.6h0M886.8 1207.6h0M888.8 1207.6h0M890.8 1207.6h0M892.8 1207.6h0M894.8 1207.6h0M896.8 1207.6h0M898.8 1207.6h0M900.8 1207.6h0M902.8 1207.6h0M904.8 1207.6h0M906.8 1207.6h0M908.8 1207.6h0M910.8 1207.6h0M912.8 1207.6h0M914.8 1207.6h0M916.8 1207.6h0M918.8 1207.6h0M920.8 1207.6h0M922.8 1207.6h0M924.8 1207.6h0M926.8 1207.6h0M928.8 1207.6h0M930.8 1207.6h0M932.8 1207.6h0M934.8 1207.6h0M936.8 1207.6h0M938.8 1207.6h0M940.8 1207.6h0M942.8 1207.6h0M944.8 1207.6h0M946.8 1207.6h0M948.8 1207.6h0M950.8 1207.6h0M952.8 1207.6h0M954.8 1207.6h0M956.8 1207.6h0M958.8 1207.6h0M960.8 1207.6h0M962.8 1207.6h0M964.8 1207.6h0M966.8 1207.6h0M968.8 1207.6h0M970.8 1207.6h0M972.8 1207.6h0M974.8 1207.6h0M976.8 1207.6h0M978.8 1207.6h0M980.8 1207.6h0M982.8 1207.6h0M984.8 1207.6h0M986.8 1207.6h0M988.8 1207.6h0M990.8 1207.6h0M992.8 1207.6h0M994.8 1207.6h0M996.8 1207.6h0M998.8 1207.6h0M1000.8 1207.6h0M1002.8 1207.6h0M1004.8 1207.6h0M1006.8 1207.6h0M1008.8 1207.6h0M1010.8 1207.6h0M1012.8 1207.6h0M1014.8 1207.6h0M1016.8 1207.6h0M1018.8 1207.6h0M1020.8 1207.6h0M1022.8 1207.6h0M1024.8 1207.6h0M1026.8 1207.6h0M1028.8 1207.6h0M1030.8 1207.6h0M1032.8 1207.6h0M1034.8 1207.6h0M1036.8 1207.6h0M1038.8 1207.6h0M1040.8 1207.6h0M1042.8 1207.6h0M1044.8 1207.6h0M1046.8 1207.6h0M1048.8 1207.6h0M1050.8 1207.6h0M1052.8 1207.6h0M1054.8 1207.6h0M1056.8 1207.6h0M1058.8 1207.6h0M1060.8 1207.6h0M1062.8 1207.6h0M1064.8 1207.6h0M1066.8 1207.6h0M1068.8 1207.6h0M1070.8 1207.6h0M1072.8 1207.6h0M1074.8 1207.6h0M1076.8 1207.6h0M1078.8 1207.6h0M1080.8 1207.6h0M1082.8 1207.6h0M1084.8 1207.6h0M1086.8 1207.6h0M1088.8 1207.6h0M1090.8 1207.6h0M1092.8 1207.6h0M1094.8 1207.6h0M1096.8 1207.6h0M1098.8 1207.6h0M1100.8 1207.6h0M1102.8 1207.6h0M1104.8 1207.6h0M1106.8 1207.6h0M1108.8 1207.6h0M1110.8 1207.6h0M1112.8 1207.6h0M906 1196h0M916 1197h0M913 1203h0" stroke="#0a0a0a" stroke-width="8.8"/>
</g>
<line x1="917.8" y1="1031.1" x2="917.8" y2="1215.6" stroke="#e8202a" stroke-width="1.3" stroke-dasharray="3 3"/>
<path clip-path="url(#c11)" d="M917.6 1064l10.2 10.2l-10.2 10.2l-10.2 -10.2z" fill="#5d58a6" stroke="#111" stroke-width="1.1"/>
<text x="929" y="1063.5" font-size="21" fill="#e8202a">rs10758593</text>
<rect x="768.5" y="1031.1" width="343" height="184.5" fill="none" stroke="#000" stroke-width="1.4"/>
<path d="M767.8 1215.8H1111.3V1030.4" fill="none" stroke="#000" stroke-width="2.2"/>
<path d="M804.5 1215.6v18.5M866.1 1215.6v18.5M927.6 1215.6v18.5M989 1215.6v18.5M1050.4 1215.6v18.5" stroke="#303030" stroke-width="2.9" fill="none"/>
<text x="804.5" y="1253.6" font-size="21.3" text-anchor="middle">4.20</text>
<text x="866.1" y="1253.6" font-size="21.3" text-anchor="middle">4.25</text>
<text x="927.6" y="1253.6" font-size="21.3" text-anchor="middle">4.30</text>
<text x="989" y="1253.6" font-size="21.3" text-anchor="middle">4.35</text>
<text x="1050.4" y="1253.6" font-size="21.3" text-anchor="middle">4.40</text>
<text x="939.5" y="1291.5" font-size="28.06" letter-spacing="-0.80" text-anchor="middle">chr9 Position (Mb)</text>
<text x="1141" y="31" font-size="42" font-weight="bold">c</text>
<text x="1597" y="22.8" font-size="29.54" letter-spacing="-0.84" text-anchor="middle">ADSL-ST13</text>
<text x="1597" y="54" font-size="29.54" letter-spacing="-0.84" text-anchor="middle">chr22:41049522-41449522</text>
<rect x="1339.6" y="67.3" width="253.6" height="33.3" fill="#d1d2d4"/>
<text x="1466.8" y="93" font-size="25.32" letter-spacing="-0.72" text-anchor="middle">ADSL</text>
<rect x="1600.7" y="67.3" width="254.3" height="33.3" fill="#d1d2d4"/>
<text x="1728.2" y="93" font-size="25.32" letter-spacing="-0.72" text-anchor="middle">ST13</text>
<rect x="1280.3" y="101" width="60" height="180.5" fill="#d1d2d4"/>
<text x="1305.9" y="190.9" font-size="25.32" letter-spacing="-0.72" text-anchor="middle" transform="rotate(-90 1305.9 190.9)">iPSC-PPC</text>
<text x="1331.2" y="190.9" font-size="25.32" letter-spacing="-0.72" text-anchor="middle" transform="rotate(-90 1331.2 190.9)">-log10(p-value)</text>
<path d="M1261.7 103.9h18.6M1261.7 145.8h18.6M1261.7 187.7h18.6M1261.7 229.6h18.6M1261.7 271.5h18.6" stroke="#303030" stroke-width="2.9" fill="none"/>
<text x="1258.3" y="111.6" font-size="21.5" text-anchor="end">10.0</text>
<text x="1258.3" y="153.5" font-size="21.5" text-anchor="end">7.5</text>
<text x="1258.3" y="195.4" font-size="21.5" text-anchor="end">5.0</text>
<text x="1258.3" y="237.3" font-size="21.5" text-anchor="end">2.5</text>
<text x="1258.3" y="279.2" font-size="21.5" text-anchor="end">0.0</text>
<clipPath id="c12"><rect x="1340.3" y="101.7" width="252.9" height="178.5"/></clipPath>
<rect x="1417.3" y="101.7" width="129.1" height="178.5" fill="#e9eaeb"/>
<g clip-path="url(#c12)" fill="none" stroke-linecap="round">
<path d="M1483.3 248.1h0M1461.6 195.1h0M1382.5 237.8h0M1483.2 236.4h0M1431.4 267.5h0M1406.2 198.2h0M1358.1 261.6h0M1490.2 260.7h0M1374.5 261.3h0M1483.7 264.6h0M1408.7 238.1h0M1467.7 245.6h0M1354.7 245.1h0M1347.5 270.3h0M1371.7 233.1h0M1386.2 232.5h0M1367.5 269.6h0M1345.6 236h0M1476 266.7h0M1379.1 271.5h0M1442.6 259.7h0M1363.4 237.9h0M1435.6 249.6h0M1365.9 238.5h0M1428.7 252.3h0M1367.7 208.9h0M1476.7 239.2h0M1497.4 258.6h0M1395.8 269.6h0M1436.8 242.9h0M1410.1 198.9h0M1473 269.6h0M1479.9 271.5h0M1443.6 258.7h0M1455.8 184.6h0M1424.7 223.4h0M1350.5 238.2h0M1360.3 253.1h0M1394 270.6h0M1458.6 269.9h0M1382.1 270.4h0M1445.3 259.6h0M1348.9 271.4h0M1376.3 248.8h0M1343.9 271.4h0M1446 240.5h0M1363.1 261.8h0M1361.7 263.7h0M1402.5 265.9h0M1372.8 265.8h0M1389 244.4h0M1480.2 248.7h0M1412 271.5h0M1371.4 238.6h0M1405.2 215.5h0M1483.8 265.9h0M1398.9 261.9h0M1447.5 269.7h0M1385.1 212.8h0M1400.2 200.3h0M1403.8 216.5h0M1414.2 270.1h0M1432.1 265.6h0M1485.2 247.6h0M1424.6 205.1h0M1427.3 197.3h0M1453.5 266.4h0M1387.9 216.2h0M1357.6 204.6h0M1348.4 231.4h0M1438.4 252.4h0M1435.8 237.1h0M1398.1 262.8h0M1349.8 239.4h0M1479.4 261.8h0M1475.8 258.2h0M1381.7 221.7h0M1486.5 270.8h0M1477.9 263.4h0M1462.8 260.4h0M1496.5 265.2h0M1374.2 271h0M1363 270.3h0M1469.9 271.4h0M1360.4 265.3h0M1364.1 225.7h0M1343 238.6h0M1396.6 268.6h0M1377.8 247.2h0M1380.6 256.8h0M1402.5 245.6h0M1451.5 260h0M1437 222.1h0M1388.3 225h0M1355 251h0M1397 269.3h0M1444.8 201.7h0M1417.6 259.1h0M1483.1 227.9h0M1440.1 237.8h0M1441.7 221.7h0M1448.5 239h0M1459.4 215.5h0M1442.7 240.7h0M1399.8 266.1h0M1421.2 261.7h0M1415.5 267.6h0M1483.3 270.1h0M1479.2 251.8h0M1484 235.9h0M1368.6 263.6h0M1497.5 256.4h0M1355.3 264.4h0M1357 262.4h0M1353.8 271.2h0M1348.9 253.2h0M1453.2 241.6h0M1446.6 226.7h0M1363 232.7h0M1420.4 255h0M1492 260.6h0M1448.9 210.9h0M1417.4 268.5h0M1371.6 262.8h0M1371.7 256.4h0M1352.6 228.6h0M1461.9 229.6h0M1359.9 266.3h0M1482.2 236h0M1455.5 196.9h0M1374.3 262.8h0M1410 250.9h0M1398.8 264.7h0M1468.7 266.7h0M1431.2 213.6h0M1365.5 260.5h0M1400.9 262.6h0M1485 236.4h0M1362.1 270.8h0M1434.8 244.9h0M1347.7 220.7h0M1478.7 251.4h0M1356 267.4h0M1472.6 231.7h0M1411.3 206.1h0M1348.8 237.2h0M1471.7 214.6h0M1356.9 233.6h0M1430 234.8h0M1366.7 205h0M1493 270.4h0M1427.9 244.1h0M1411.5 260h0M1379.1 229.1h0M1421.6 252.5h0M1421.1 262.8h0M1482.1 243h0M1383 261.7h0M1425.2 236.2h0M1482.5 232.2h0M1351.8 219.3h0M1344.2 246.4h0M1462.4 266.7h0M1377.7 270.7h0M1410.9 217.6h0M1342.1 232.5h0M1402.7 204.8h0M1429.5 249.8h0M1386.7 216.1h0M1414.4 232h0M1445.1 206.2h0M1388.2 269.9h0M1371.5 239.6h0M1360.6 271.3h0M1396.9 234.4h0M1370.2 262.7h0M1361.4 203.7h0M1483.9 228.4h0M1441.2 254.2h0M1385.1 259.8h0M1463.8 239.9h0M1362.5 214.5h0M1475.7 271.5h0M1356.5 250h0M1416.1 219h0M1374.8 201.7h0M1396.4 268.6h0M1494.8 245.8h0M1465.7 267.1h0M1492.4 266h0M1414.8 213.9h0M1360.6 271.3h0M1438.3 243.4h0M1489.9 231.3h0M1398.9 225.7h0M1345.6 234.9h0M1411.5 261h0M1386.5 251.2h0M1412.8 261.5h0M1345.9 271.3h0M1345.2 223h0M1407.7 251.8h0M1485 270.8h0M1469.5 201.5h0M1409 230.7h0M1345.8 258.3h0M1344.5 233.6h0M1493.4 235.3h0M1424.1 217.9h0M1447.5 271.5h0M1391.1 270h0M1409.1 260.1h0M1346.1 271.5h0M1360.3 245.1h0M1472.7 236.4h0M1478.9 267.2h0M1380.9 258h0M1352.9 249.2h0M1360.3 270.8h0M1473 264.4h0M1412.2 251.8h0M1348.9 271.2h0M1477 220.6h0M1460 246.9h0M1370.4 268.4h0M1423.5 265.9h0M1438.9 183.8h0M1488.9 267.6h0M1379.2 271.2h0M1486.2 230.5h0M1471.7 225.8h0M1434.9 197.5h0M1391 249.3h0M1485.3 252.8h0M1398.1 266.8h0M1386.2 214.6h0M1435.1 223.4h0M1473.7 229.4h0M1424.7 270.9h0M1464.6 264h0M1370 271.3h0M1420.6 238.4h0M1358.7 270h0M1413.5 247.8h0M1377.4 210.5h0M1409.9 264.6h0M1466.9 214.5h0M1390.4 259.2h0M1408.6 270.8h0M1482.5 268.5h0M1375.9 230.1h0M1415 236.3h0M1365.3 236.6h0M1491.8 231.9h0M1345.9 269.1h0M1376 242.8h0M1421.8 250.1h0M1382.1 269.8h0M1414.1 265.7h0M1445.5 182.8h0M1363 213.2h0M1487.2 262.9h0M1346.6 261h0M1382.1 229.5h0M1494.4 233.3h0M1375.9 265.7h0M1407.1 264.3h0M1443.8 231.4h0M1343.7 266h0M1410.8 254.6h0M1457.8 270.2h0M1355.7 257.4h0M1370 269.4h0M1493.6 249.8h0M1348.9 231.5h0M1360.5 208.3h0M1374.9 260.6h0M1349 266.1h0M1363.4 231.4h0M1490.1 270.5h0M1381.3 218.2h0M1429.7 211.7h0M1391.7 270.7h0M1411.1 255h0M1361.4 239.3h0M1456.8 235.7h0M1449.7 216h0M1477.8 240.1h0M1391 212.1h0M1479.7 233.6h0M1485.5 271.5h0M1477.2 227.5h0M1394.6 267.9h0M1464.5 202.4h0M1407.4 271h0M1365.7 262.3h0M1445.2 210.9h0M1358 270.7h0M1440.5 248h0M1421.2 208.2h0M1344.2 240.4h0M1401.5 244h0M1374.4 220.3h0M1404.8 250h0M1439 251.4h0M1363.1 248.4h0M1363.3 251h0M1448.7 196.5h0M1422.5 246h0M1426.9 241.9h0M1380.9 257.2h0M1352.7 270.5h0M1464.5 268.8h0M1348.3 209.1h0M1362.4 269.9h0M1361.8 251.6h0M1428.7 263.6h0M1463.5 213.4h0M1414.7 267.3h0M1363.3 214.7h0M1372.1 210.3h0M1397.3 201.1h0M1393.1 228.8h0M1349.8 261.5h0M1460 195.5h0M1480.5 230.6h0M1490.5 249.1h0M1410.8 267.5h0M1441.1 212.9h0M1429.6 266.4h0M1437.8 231h0M1409.1 267.2h0M1458.2 267.2h0M1349 237.2h0M1431.9 192.2h0M1389.2 259.2h0M1473.9 241.5h0M1478 232h0M1442.1 263.4h0M1419.8 202.4h0M1343.6 240.2h0M1483 246.7h0M1416.4 237.6h0M1420.4 258.7h0M1493.2 236.5h0M1378.2 270.5h0M1465.6 247.1h0M1430.9 266h0M1493.8 236.1h0M1445.3 185.5h0M1355.7 242.6h0M1358.7 218h0M1428.5 222.4h0M1408.7 268.7h0M1388.8 243.1h0M1451.1 187.9h0M1466.7 213.9h0M1475.6 259.8h0M1431.7 267.2h0M1399.7 218h0M1384.8 266.2h0M1393.9 271.5h0M1386.1 269.1h0M1415.6 266h0M1471.6 242.7h0M1458.9 259.7h0M1431 190.6h0M1484.3 260.4h0M1442 230.7h0M1366.3 215.3h0M1387 249.8h0M1354.7 232.7h0M1447.7 185.1h0M1384.7 269h0M1355.2 271.2h0M1468 260.4h0M1366.2 248.4h0M1393.8 207.8h0M1347.4 224.1h0M1448.6 188.6h0M1381.4 234.1h0M1348.9 233h0M1363 271.2h0M1428 205.4h0M1454.2 208.2h0M1452.4 222.2h0M1471.2 271.4h0M1385 269.8h0M1350.8 214.3h0M1350.9 209.8h0M1386.5 247.8h0M1390.4 239.6h0M1405.8 265.7h0M1352.1 219.2h0M1347.5 235.3h0M1472.1 271.3h0M1350.1 260.2h0M1457 266.7h0M1362.4 234.5h0M1476.1 265.4h0M1342 271.5h0M1345.4 271.5h0M1348.8 271.5h0M1352.2 271.5h0M1355.6 271.5h0M1359 271.5h0M1362.4 271.5h0M1365.8 271.5h0M1369.2 271.5h0M1372.6 271.5h0M1376 271.5h0M1379.4 271.5h0M1382.8 271.5h0M1386.2 271.5h0M1389.6 271.5h0M1393 271.5h0M1396.4 271.5h0M1399.8 271.5h0M1403.2 271.5h0M1406.6 271.5h0M1410 271.5h0M1413.4 271.5h0M1416.8 271.5h0M1420.2 271.5h0M1423.6 271.5h0M1427 271.5h0M1430.4 271.5h0M1433.8 271.5h0M1437.2 271.5h0M1440.6 271.5h0M1444 271.5h0M1447.4 271.5h0M1450.8 271.5h0M1454.2 271.5h0M1457.6 271.5h0M1461 271.5h0M1464.4 271.5h0M1467.8 271.5h0M1471.2 271.5h0M1474.6 271.5h0M1478 271.5h0M1481.4 271.5h0M1484.8 271.5h0M1488.2 271.5h0M1491.6 271.5h0M1495 271.5h0M1428.7 138.3h0M1437.8 151.9h0M1440.5 163.7h0M1431.4 170.9h0M1445 174.6h0M1435.9 180h0M1446.8 181.8h0M1428.7 189.1h0M1448.6 187.2h0M1437.8 196.3h0M1450.4 198.1h0M1381.6 174.6h0M1376.2 175.5h0M1343.6 184.5h0M1361.7 187.2h0M1372.5 194.5h0M1351.7 209h0M1363.5 205.4h0M1388.8 205.4h0M1493.9 241.6h0M1490.3 250.7h0M1493.9 266.1h0M1488.5 270.6h0M1484.9 257.9h0" stroke="#bdbec0" stroke-width="8.6"/>
<path d="M1407 174.6h0M1393.4 185.4h0M1389.7 213.5h0M1408.8 212.6h0M1414.2 212.6h0M1418.7 220.8h0M1424.2 241.6h0M1437.8 254.3h0M1428.7 259.7h0M1434.1 263.3h0M1443.2 265.1h0M1450.4 261.5h0M1426.9 266.1h0M1434.1 271.5h0M1468.6 245.2h0M1475.8 243.4h0M1470.4 254.3h0M1475.8 256.1h0M1493 257h0M1435.9 201.7h0M1441.4 205.4h0M1430.5 254.3h0M1446.8 257.9h0M1473.1 257.9h0" stroke="#86a3a4" stroke-width="8.6"/>
<path d="M1437.8 108.4h0M1443.2 109.3h0M1435.9 111.2h0M1430.5 115.7h0M1435.9 116.6h0M1438.7 119.3h0M1443.2 134.2h0M1454.1 173.7h0M1464 175.5h0M1468.6 183.6h0M1460.4 206.3h0M1468.6 215.3h0M1431.4 225.3h0M1440.5 229.8h0M1440.5 109.3h0M1433.2 113h0M1455.9 151h0M1466.7 169.1h0M1455 151.9h0M1457.7 160.1h0M1463.1 161.9h0M1468.6 163.7h0M1461.3 167.3h0M1464.9 156.4h0M1459.5 163.7h0" stroke="#4d8081" stroke-width="8.6"/>
<path d="M1445 148.3h0M1458.6 155.5h0M1469.5 149.2h0M1468.6 155.5h0M1471.3 191.8h0M1489.4 234.3h0M1483.9 249.7h0M1477.6 271.5h0" stroke="#226565" stroke-width="8.6"/>
</g>
<line x1="1340.3" y1="197.2" x2="1593.2" y2="197.2" stroke="#111" stroke-width="1.9" stroke-dasharray="3 3"/>
<line x1="1481.8" y1="101.7" x2="1481.8" y2="280.2" stroke="#e8202a" stroke-width="1.8" stroke-dasharray="3 3"/>
<path clip-path="url(#c12)" d="M1481.8 132.1l10.2 10.2l-10.2 10.2l-10.2 -10.2z" fill="#5d58a6" stroke="#111" stroke-width="1.1"/>
<text x="1344.5" y="190.7" font-size="21" letter-spacing="-0.3" fill="#111">3.5 x 10<tspan font-size="13" dy="-8.5">-5</tspan></text>
<text x="1495" y="132" font-size="21" fill="#e8202a">rs138349</text>
<rect x="1340.3" y="101.7" width="252.9" height="178.5" fill="none" stroke="#000" stroke-width="1.4"/>
<path d="M1339.6 280.4H1593V101" fill="none" stroke="#000" stroke-width="2.2"/>
<clipPath id="c13"><rect x="1601.4" y="101.7" width="253.6" height="178.5"/></clipPath>
<rect x="1678.4" y="101.7" width="129.3" height="178.5" fill="#e9eaeb"/>
<g clip-path="url(#c13)" fill="none" stroke-linecap="round">
<path d="M1595.0 275.9V263.3L1601.0 263.3L1603.6 264.3L1606.2 264.9L1608.8 263.3L1611.4 262.4L1614.0 263.3L1616.6 264.9L1619.2 265.2L1621.8 263.8L1624.4 263.3L1627.0 263.4L1629.6 264.2L1632.2 264.0L1634.8 264.2L1637.4 264.1L1640.0 264.0L1642.6 262.3L1645.2 262.3L1647.8 261.7L1650.4 263.3L1653.0 262.6L1655.6 263.0L1658.2 262.5L1660.8 263.0L1663.4 262.4L1666.0 262.1L1668.6 261.4L1671.2 260.8L1673.8 259.5L1676.4 259.0L1679.0 260.6L1681.6 261.1L1684.2 262.0L1686.8 260.1L1689.4 259.7L1692.0 258.6L1694.6 258.4L1697.2 258.3L1699.8 257.9L1702.4 258.2L1705.0 256.1L1707.6 256.1L1710.2 255.2L1712.8 257.3L1715.4 257.6L1718.0 257.7L1720.6 255.7L1723.2 253.9L1725.8 252.8L1728.4 253.3L1731.0 252.2L1733.6 252.8L1736.2 252.6L1738.8 253.1L1741.4 252.8L1744.0 251.8L1746.6 251.2L1749.2 250.3L1751.8 249.9L1754.4 250.1L1757.0 250.2L1759.6 252.2L1762.2 252.9L1764.8 252.4L1767.4 251.3L1770.0 250.8L1772.6 250.6L1775.2 248.6L1777.8 249.0L1780.4 249.4L1783.0 250.0L1785.6 248.7L1788.2 249.2L1790.8 248.0L1793.4 248.8L1796.0 247.1L1798.6 248.4L1801.2 247.5L1803.8 247.2L1806.4 246.6L1809.0 246.7L1811.6 248.5L1814.2 249.3L1816.8 250.3L1819.4 248.4L1822.0 249.0L1824.6 249.7L1827.2 250.0L1829.8 248.1L1832.4 246.7L1835.0 247.2L1837.6 248.6L1840.2 248.7L1842.8 248.9L1845.4 248.2L1848.0 248.1L1850.6 247.4L1853.2 247.1L1855.8 246.8L1858.4 248.6H1862.0V275.9z" fill="#bdbec0" stroke="none"/>
<path d="M1601.8 245.7h0M1601.6 251.3h0M1603.1 253.4h0M1603.7 253.9h0M1605.3 254.7h0M1607.1 263.4h0M1609.6 251h0M1608.6 256.9h0M1612.1 249.1h0M1611.5 259.6h0M1614.5 251.2h0M1614.5 263.3h0M1615.6 254.7h0M1617 259.6h0M1619.4 255.2h0M1619 263.3h0M1622.6 252.2h0M1620.7 262.9h0M1624.3 247.8h0M1625.4 262.3h0M1626.3 251.4h0M1626.5 258.1h0M1629 253h0M1628.8 263h0M1632.6 252.7h0M1631 258.8h0M1635.5 253.1h0M1635.6 256.3h0M1636.5 246.5h0M1636.6 256.1h0M1639.5 252.5h0M1639.5 256.8h0M1642.2 243.2h0M1642.1 250.6h0M1645.3 248.7h0M1644.2 249.6h0M1647.8 247.5h0M1649 252.2h0M1650.8 251h0M1650.6 258h0M1654 240.7h0M1652.5 259.2h0M1654.8 250.3h0M1654.5 262.6h0M1658.7 249.4h0M1658.5 258h0M1660.7 242.8h0M1660.5 257.7h0M1662.9 249h0M1663.2 262.3h0M1666.4 248.5h0M1666.6 251.7h0M1668.1 246.7h0M1668.6 257.3h0M1672.1 245.6h0M1671.1 260.5h0M1674.2 242.6h0M1674.5 245h0M1674.5 250.5h0M1677.1 241.5h0M1676.9 248.2h0M1677.5 256.6h0M1679.2 245.2h0M1680.2 248.7h0M1680.6 246.2h0M1681.1 258h0M1683.5 248.2h0M1683.1 255.7h0M1687.7 243.9h0M1686.7 249.2h0M1688 259.6h0M1688.8 243.1h0M1689.8 256h0M1688.8 249.8h0M1691.6 240.7h0M1692.9 256.1h0M1692.5 257.6h0M1694.2 233h0M1695.7 253.7h0M1694.4 252h0M1696.8 240h0M1696.9 256.9h0M1696.4 255.4h0M1698.9 239h0M1700.9 243.7h0M1698.5 246.1h0M1701.5 239.8h0M1702.9 248.8h0M1701.1 255.8h0M1704.2 235.1h0M1704.9 252.2h0M1704.7 238.1h0M1708.2 226.5h0M1706.4 247.3h0M1707.3 254.4h0M1709.7 233.1h0M1711.1 238.9h0M1711.2 235.3h0M1712 230.6h0M1713.4 240.3h0M1712 243.8h0M1715.6 229.6h0M1715.3 247.5h0M1715 243.3h0M1717.7 238.6h0M1718.3 254.3h0M1716.9 241.4h0M1721 227.5h0M1720 254h0M1719.4 256h0M1723.6 230.1h0M1722.3 240.6h0M1724.3 253.6h0M1725.6 227.6h0M1726.4 237.7h0M1724.7 242.6h0M1727.8 228.8h0M1728 254h0M1728.7 243.1h0M1731 218.5h0M1731.9 250.9h0M1732.1 233h0M1733 227.6h0M1734.6 235h0M1734.7 242.3h0M1736 227.2h0M1737.3 229.2h0M1734.9 234.1h0M1739 228.5h0M1739.5 240.8h0M1737.9 239.6h0M1741.5 227.7h0M1740.6 231.7h0M1741.5 227.8h0M1744.5 225.5h0M1743.6 229.6h0M1743.8 252h0M1744.1 250.1h0M1746.3 224.1h0M1745.4 250.5h0M1746.8 243.2h0M1747 252.3h0M1748.4 222.1h0M1749.3 224.8h0M1749.2 226h0M1748.5 249.8h0M1752.1 221.2h0M1752.5 229.8h0M1751.2 234.1h0M1751.5 241.3h0M1753.9 221.8h0M1754.3 238.3h0M1755.2 251.2h0M1755.2 236.7h0M1757.5 222h0M1756.7 222.2h0M1755.7 242.8h0M1757.2 234.2h0M1760.6 226.4h0M1758.9 250.2h0M1760.4 235.3h0M1761.3 227.9h0M1763 246.8h0M1762.1 243.4h0M1765.1 226.7h0M1765.3 239.8h0M1765.5 231.3h0M1766.9 224.4h0M1768.2 232.1h0M1766.6 227h0M1768.4 229.8h0M1770.3 218.1h0M1770.9 249.8h0M1770.5 247h0M1769.3 246.3h0M1772.6 222.7h0M1771.9 233.1h0M1772.2 234.1h0M1772.3 235.3h0M1774.3 214.3h0M1775 230.3h0M1776.2 248.1h0M1774 231.8h0M1778 219.3h0M1777.8 239.7h0M1777.5 220.8h0M1778.2 233.2h0M1780.1 220.1h0M1780.8 229.6h0M1780.4 239.8h0M1781.2 246.5h0M1782.9 214h0M1783.2 247.3h0M1781.9 236.6h0M1782.1 239.6h0M1785.3 218.6h0M1784.9 242.9h0M1784.8 249.7h0M1785.9 247.6h0M1787.6 219.6h0M1788.3 248.9h0M1788 248.9h0M1787.4 228.9h0M1790.9 217.1h0M1790.1 248.4h0M1789.8 233h0M1791 245.6h0M1793.4 218.8h0M1792.1 231.9h0M1792.9 243.7h0M1793 222.3h0M1795.1 215.1h0M1797 235.3h0M1796.2 224.8h0M1797.1 245.2h0M1799.2 208.1h0M1798.7 229.1h0M1798.2 247h0M1799 231.1h0M1801.8 216h0M1800.6 248.6h0M1800.7 247.8h0M1801.9 224.7h0M1803 210h0M1803.7 229.2h0M1803.5 243.9h0M1803.6 221h0M1806.7 213.9h0M1806.5 235.4h0M1805.6 239.2h0M1805.9 234.6h0M1808.4 214.3h0M1808.8 218.1h0M1807.8 244.4h0M1810 244h0M1811.9 218.1h0M1812 245.4h0M1812.2 238.8h0M1811.3 236.1h0M1814.4 220h0M1814.7 226.6h0M1813.8 239h0M1815.1 224.3h0M1817.3 214.5h0M1818 234h0M1816.1 226.8h0M1816.4 222.4h0M1820.4 217.9h0M1819.1 246.9h0M1818.8 232.6h0M1820.2 244.3h0M1822.5 219.2h0M1823 227.5h0M1822.8 223.5h0M1822 220.1h0M1824.6 220.9h0M1825 222.1h0M1825 241.1h0M1823.6 245h0M1826.5 221.4h0M1826.1 251.4h0M1827.9 240.7h0M1827.6 250.9h0M1829.4 210.8h0M1830.4 238.5h0M1829.5 239.5h0M1828.8 228.3h0M1832.8 214.2h0M1833.6 221.4h0M1832.7 242.7h0M1832.9 241h0M1834.3 215.3h0M1836.1 240.6h0M1835.3 240.4h0M1834.4 223.1h0M1836.6 218.3h0M1836.7 242.4h0M1836.9 242.2h0M1838.4 250h0M1840.3 211.6h0M1841.1 224.7h0M1839.3 233.3h0M1839.2 228.1h0M1842.4 219.1h0M1842.1 245.3h0M1843.6 241.1h0M1843.4 224.9h0M1844.9 217.4h0M1844.9 242.4h0M1846.4 238.9h0M1844.3 217.6h0M1848.8 217.2h0M1848.5 237.9h0M1847.2 226h0M1849.3 232.4h0M1851.4 215.6h0M1851.2 247.8h0M1851.7 236h0M1850.7 245.9h0M1853.6 206.5h0M1852.7 248.6h0M1853.6 246.3h0M1852.1 230.4h0M1856.7 214.3h0M1856 236.8h0M1856.1 239.4h0M1855.6 238.2h0M1857.8 218.3h0M1859.1 243.6h0M1857.3 245.6h0M1857.5 221.9h0M1601 271.4h0M1604.2 271.4h0M1607.4 271.4h0M1610.6 271.4h0M1613.8 271.5h0M1617 271.3h0M1620.2 271.5h0M1623.4 271.2h0M1626.6 271.2h0M1629.8 271.3h0M1633 271.3h0M1636.2 271.4h0M1639.4 271.4h0M1642.6 271.7h0M1645.8 271.6h0M1649 271.5h0M1652.2 271.7h0M1655.4 271.6h0M1658.6 271.4h0M1661.8 271.6h0M1665 271.6h0M1668.2 271.5h0M1671.4 271.7h0M1674.6 271.6h0M1677.8 271.8h0M1681 271.4h0M1684.2 271.6h0M1687.4 271.8h0M1690.6 271.5h0M1693.8 271.7h0M1697 271.3h0M1700.2 271.6h0M1703.4 271.4h0M1706.6 271.7h0M1709.8 271.5h0M1713 271.5h0M1716.2 271.3h0M1719.4 271.4h0M1722.6 271.7h0M1725.8 271.6h0M1729 271.6h0M1732.2 271.3h0M1735.4 271.4h0M1738.6 271.8h0M1741.8 271.3h0M1745 271.5h0M1748.2 271.6h0M1751.4 271.5h0M1754.6 271.5h0M1757.8 271.8h0M1761 271.7h0M1764.2 271.3h0M1767.4 271.5h0M1770.6 271.5h0M1773.8 271.6h0M1777 271.6h0M1780.2 271.4h0M1783.4 271.6h0M1786.6 271.5h0M1789.8 271.2h0M1793 271.4h0M1796.2 271.4h0M1799.4 271.3h0M1802.6 271.6h0M1805.8 271.8h0M1809 271.8h0M1812.2 271.6h0M1815.4 271.7h0M1818.6 271.5h0M1821.8 271.6h0M1825 271.7h0M1828.2 271.2h0M1831.4 271.4h0M1834.6 271.4h0M1837.8 271.4h0M1841 271.5h0M1844.2 271.2h0M1847.4 271.6h0M1850.6 271.8h0M1853.8 271.3h0M1857 271.3h0M1603.6 216.2h0M1670.6 215.3h0M1636.2 228h0M1651.6 233.4h0M1634.3 236.2h0M1641.6 238h0M1684.2 231.6h0M1678.7 238h0M1606.3 247h0M1769.3 164.2h0M1734 194.5h0M1776.6 196.3h0M1730.4 212.6h0M1810.1 195.4h0" stroke="#bdbec0" stroke-width="8.6"/>
<path d="M1752.1 240.7h0M1757.5 241.6h0M1766.6 240.7h0M1772 244.3h0M1784.7 238h0M1790.1 236.2h0M1791.1 249.7h0M1791.1 225.3h0M1710.4 244.3h0M1695.9 254.3h0M1688.7 260.6h0M1699.6 260.6h0M1704.1 255.2h0M1712.2 259.7h0M1651.6 268.8h0M1655.2 271.5h0M1668.8 270.6h0M1679.6 271.5h0M1688.7 271.5h0M1697.8 271.5h0M1703.2 271.5h0M1747.6 260.6h0M1810.1 266.1h0M1788.3 271.5h0M1834.5 249.7h0M1848.1 198.1h0M1853.6 205.4h0" stroke="#86a3a4" stroke-width="8.6"/>
<path d="M1730.4 194.5h0M1788.3 197.2h0M1830 218h0M1835.4 212.6h0M1819.1 228.9h0M1746.7 229.8h0M1738.5 230.7h0M1729.5 220.8h0M1701.4 225.3h0M1849.9 205.4h0M1851.7 199.9h0M1804.6 198.1h0M1826.4 218h0M1840.9 214.4h0" stroke="#6b9495" stroke-width="8.6"/>
<path d="M1690.5 239.8h0M1695.9 238h0M1699.6 236.2h0M1693.2 244.3h0M1697.8 243.4h0M1705 231.6h0M1715 220.8h0M1718.6 223.5h0M1723.1 234.3h0M1719.5 238h0M1721.3 249.7h0M1732.2 249.7h0M1739.4 245.2h0M1758.4 210.8h0M1764.8 205.4h0M1770.2 207.2h0M1761.2 214.4h0M1768.4 212.6h0M1779.3 222.6h0M1793.8 205.4h0M1790.1 199.9h0M1800.1 194.5h0M1804.6 202.6h0M1807.4 209.9h0M1817.3 210.8h0M1822.8 214.4h0M1810.1 221.7h0M1813.7 226.2h0M1803.7 231.6h0M1792.9 218.9h0M1845.4 216.2h0M1781.1 256.1h0M1803.7 265.1h0M1692.3 267h0M1782.9 210.8h0M1797.4 199.9h0" stroke="#447a7b" stroke-width="8.6"/>
<path d="M1775.7 208.1h0M1784.7 209h0M1788.3 207.2h0M1719.5 229.8h0M1730.4 239.8h0M1782 249.7h0M1786.5 205.4h0M1726.7 236.2h0" stroke="#226565" stroke-width="8.6"/>
</g>
<line x1="1601.4" y1="197.2" x2="1855" y2="197.2" stroke="#111" stroke-width="1.9" stroke-dasharray="3 3"/>
<line x1="1743.4" y1="101.7" x2="1743.4" y2="280.2" stroke="#e8202a" stroke-width="1.8" stroke-dasharray="3 3"/>
<path clip-path="url(#c13)" d="M1743.4 195.2l10.2 10.2l-10.2 10.2l-10.2 -10.2z" fill="#5d58a6" stroke="#111" stroke-width="1.1"/>
<text x="1606.8" y="190.7" font-size="21" letter-spacing="-0.3" fill="#111">3.5 x 10<tspan font-size="13" dy="-8.5">-5</tspan></text>
<text x="1749" y="185" font-size="21" fill="#e8202a">rs138349</text>
<rect x="1601.4" y="101.7" width="253.6" height="178.5" fill="none" stroke="#000" stroke-width="1.4"/>
<path d="M1600.7 280.4H1854.8V101" fill="none" stroke="#000" stroke-width="2.2"/>
<rect x="1280.3" y="287.9" width="60" height="180.4" fill="#d1d2d4"/>
<text x="1305.9" y="377.8" font-size="25.32" letter-spacing="-0.72" text-anchor="middle" transform="rotate(-90 1305.9 377.8)">Islets</text>
<text x="1331.2" y="377.8" font-size="25.32" letter-spacing="-0.72" text-anchor="middle" transform="rotate(-90 1331.2 377.8)">-log10(p-value)</text>
<path d="M1261.7 295.8h18.6M1261.7 336.8h18.6M1261.7 377.7h18.6M1261.7 418.7h18.6M1261.7 459.6h18.6" stroke="#303030" stroke-width="2.9" fill="none"/>
<text x="1258.3" y="303.5" font-size="21.5" text-anchor="end">10.0</text>
<text x="1258.3" y="344.5" font-size="21.5" text-anchor="end">7.5</text>
<text x="1258.3" y="385.4" font-size="21.5" text-anchor="end">5.0</text>
<text x="1258.3" y="426.4" font-size="21.5" text-anchor="end">2.5</text>
<text x="1258.3" y="467.3" font-size="21.5" text-anchor="end">0.0</text>
<clipPath id="c14"><rect x="1340.3" y="288.6" width="252.9" height="178.4"/></clipPath>
<rect x="1417.3" y="288.6" width="129.1" height="178.4" fill="#e9eaeb"/>
<g clip-path="url(#c14)" fill="none" stroke-linecap="round">
<path d="M1334.0 464.1V453.6L1340.0 453.6L1342.6 453.6L1345.2 453.4L1347.8 454.7L1350.4 455.1L1353.0 455.5L1355.6 455.5L1358.2 455.4L1360.8 454.8L1363.4 455.1L1366.0 455.7L1368.6 456.6L1371.2 456.9L1373.8 456.9L1376.4 456.4L1379.0 456.2L1381.6 454.9L1384.2 455.3L1386.8 454.7L1389.4 454.2L1392.0 452.8L1394.6 452.4L1397.2 451.8L1399.8 452.3L1402.4 451.3L1405.0 452.0L1407.6 451.9L1410.2 452.9L1412.8 452.7L1415.4 451.5L1418.0 451.1L1420.6 450.4L1423.2 450.8L1425.8 450.6L1428.4 450.7L1431.0 450.6L1433.6 450.5L1436.2 451.2L1438.8 451.2L1441.4 450.9L1444.0 449.8L1446.6 450.1L1449.2 450.7L1451.8 451.6L1454.4 452.3L1457.0 451.5L1459.6 451.2L1462.2 450.9L1464.8 451.6L1467.4 451.5L1470.0 451.5L1472.6 450.6L1475.2 451.4L1477.8 451.3L1480.4 452.1L1483.0 452.2L1485.6 450.9L1488.2 450.0L1490.8 449.9L1493.4 450.8L1496.0 452.3L1498.6 451.5L1501.2 451.5L1503.8 450.9L1506.4 451.6L1509.0 452.0L1511.6 451.7L1514.2 451.8L1516.8 452.3L1519.4 452.6L1522.0 452.7L1524.6 452.1L1527.2 452.1L1529.8 451.9L1532.4 453.0L1535.0 453.3L1537.6 453.7L1540.2 453.3L1542.8 453.2L1545.4 453.3L1548.0 453.8L1550.6 453.5L1553.2 453.0L1555.8 452.7L1558.4 452.9L1561.0 453.7L1563.6 453.8L1566.2 454.0L1568.8 452.8L1571.4 452.1L1574.0 452.5L1576.6 452.9L1579.2 453.0L1581.8 452.5L1584.4 452.2L1587.0 452.6L1589.6 452.9L1592.2 453.5L1594.8 452.2H1600.0V464.1z" fill="#bdbec0" stroke="none"/>
<path d="M1339.7 431.7h0M1339.3 452.7h0M1343.3 439.5h0M1342 452h0M1344.6 433.7h0M1345.8 449.9h0M1346.1 440.5h0M1348.5 437.8h0M1347 454.4h0M1350.2 443.9h0M1351 447.4h0M1352.5 445h0M1352.4 453.7h0M1354.9 438.6h0M1356 446.4h0M1358.4 439.4h0M1358.2 455h0M1359.8 436.2h0M1362.1 448.2h0M1362.9 443.9h0M1362.5 450h0M1366.7 445.5h0M1364.7 447.8h0M1368.9 448.1h0M1369.4 455.3h0M1371.3 448.9h0M1372.1 454.4h0M1373.2 449.1h0M1372.9 455.1h0M1376.4 447.6h0M1377.2 450.8h0M1378.4 447h0M1380 453.1h0M1381.4 443.4h0M1380.8 448.2h0M1383.3 444.4h0M1383.5 452h0M1387.7 442.9h0M1386.9 453.6h0M1389.6 441.2h0M1390.1 448.5h0M1392.4 429.4h0M1392.8 441h0M1390.9 452.1h0M1394.6 436.1h0M1395.7 437.4h0M1394.9 447.3h0M1396.9 434.4h0M1398.3 435.1h0M1398.2 440.4h0M1400.1 435.9h0M1399.2 448.7h0M1398.6 449.9h0M1402 433.1h0M1401.9 451.5h0M1402.3 450.7h0M1404.4 435.1h0M1404.8 445.7h0M1405.8 447.8h0M1407.7 434.7h0M1408.8 437.4h0M1406.4 447.3h0M1410.2 437.5h0M1409.2 450.8h0M1409.7 450.5h0M1413.8 433.8h0M1411.8 440.7h0M1413.6 446.8h0M1414.5 433.5h0M1415.1 447.3h0M1415.6 435.5h0M1418.3 432.6h0M1418.5 451.1h0M1418.4 437.2h0M1420.2 430.4h0M1419.5 450.8h0M1420.5 449h0M1422.6 431.5h0M1423.6 443.8h0M1422 440.4h0M1426 431h0M1425.1 446.8h0M1426.9 438.7h0M1428.2 431.4h0M1427.6 441.9h0M1429.5 445h0M1431.6 431.1h0M1432 447.6h0M1430.3 436.6h0M1434 430.9h0M1433.9 441.2h0M1433.7 447.8h0M1436.8 432.7h0M1437.4 446.3h0M1435.5 442.2h0M1438.1 432.8h0M1437.6 439h0M1438.3 441.8h0M1440.7 432h0M1442 439.6h0M1440.4 448.4h0M1444.3 428.7h0M1442.7 446.6h0M1444.8 442.9h0M1447.5 429.6h0M1445.7 441.9h0M1446.3 449.5h0M1448.6 431.4h0M1449.2 450.3h0M1449.1 447.8h0M1452.2 434h0M1451.1 443.2h0M1452.7 450h0M1453.5 432.4h0M1454.5 439.6h0M1454.7 437.6h0M1456.9 433.7h0M1456.3 439.7h0M1456.8 438.2h0M1459.7 428h0M1460.7 450h0M1459.6 434.5h0M1462.6 431.8h0M1461.3 442.6h0M1463.3 433h0M1464.6 433.8h0M1465.1 451.3h0M1464.5 437.1h0M1467.6 433.6h0M1466.5 438.3h0M1467.8 448.3h0M1469.6 426.5h0M1469.9 437.4h0M1468.8 450h0M1473.1 426.7h0M1472.9 436.2h0M1473 446.7h0M1474.9 433.3h0M1475.1 451h0M1474.4 449.1h0M1476.9 433.1h0M1477.2 435.5h0M1478.4 435.5h0M1481 427.8h0M1481.4 444.9h0M1479.2 445.8h0M1483.7 430.9h0M1482 439.1h0M1482 448.1h0M1485.3 432h0M1484.7 445.2h0M1484.9 440.1h0M1488.2 429.4h0M1488.9 443.5h0M1487.6 445.2h0M1490.3 424.6h0M1490.4 436.1h0M1490.2 436.8h0M1493.2 427h0M1492.6 433.8h0M1492.5 448.6h0M1496.9 435.9h0M1495.3 437.3h0M1496 452.1h0M1497.8 433.7h0M1499.3 446h0M1499.2 451.8h0M1501.8 433.5h0M1501.1 444.6h0M1500.3 444h0M1503.3 431.9h0M1502.6 446.8h0M1502.6 449.5h0M1505.9 433.9h0M1506.4 443.5h0M1505.4 449.2h0M1509.4 435.1h0M1509 441.6h0M1507.8 443.8h0M1512.2 434.2h0M1510.6 447h0M1512.5 446.2h0M1514.2 430.8h0M1513.9 437.2h0M1514.9 449.2h0M1517 431.4h0M1517.7 439h0M1516.2 448.6h0M1518.6 436.8h0M1520.1 449.8h0M1518.8 437.3h0M1522.9 430.5h0M1521.8 441.2h0M1522.7 442.2h0M1524.6 435.4h0M1525.3 435.4h0M1524.4 449.8h0M1527.8 430.4h0M1527.3 445.6h0M1526.1 440h0M1529.8 434.7h0M1530.3 445.2h0M1530.6 436.1h0M1532.8 437.9h0M1533.7 446.3h0M1532.6 445.4h0M1534.8 438.8h0M1534.7 443.1h0M1535.6 440.6h0M1538 439.8h0M1537.3 447h0M1540.7 432.4h0M1540.9 443.7h0M1540.7 453.1h0M1542.6 438.6h0M1542.6 441.1h0M1541.6 447.8h0M1544.8 438.7h0M1545.5 451.4h0M1544.3 453.1h0M1548.9 433.6h0M1548 444.5h0M1549.9 432.3h0M1550.6 453h0M1550.1 441.7h0M1552.9 438h0M1553.8 438.6h0M1554.5 440.6h0M1555.2 437h0M1555.9 446.1h0M1555.1 442.5h0M1558 437.6h0M1558.3 451.3h0M1558.5 441.5h0M1560.5 439.9h0M1560.7 450h0M1563.2 440.3h0M1563.1 451.8h0M1566.5 440.8h0M1567.3 446.8h0M1568.1 437.3h0M1568.9 448.1h0M1568.9 442.3h0M1571.7 430.1h0M1571.3 440h0M1570.2 450.1h0M1574.5 436.6h0M1574.1 451.8h0M1574.2 444.5h0M1575.8 437.7h0M1576.1 452.9h0M1576.4 439.7h0M1579.8 437.8h0M1579 445.5h0M1580.1 445.8h0M1581.1 436.3h0M1582.1 438.5h0M1581.5 448h0M1585 429.9h0M1584.9 445.7h0M1584 441.2h0M1587.9 436.7h0M1586.2 442.3h0M1587.4 443.3h0M1590 437.5h0M1590.8 439.2h0M1589.5 450.9h0M1591.4 431.3h0M1592.5 448.8h0M1591.3 448.7h0M1594.2 435.6h0M1595.4 445.8h0M1594.7 448.9h0M1340 459.7h0M1343.2 459.6h0M1346.4 459.8h0M1349.6 459.8h0M1352.8 459.9h0M1356 459.4h0M1359.2 459.6h0M1362.4 459.4h0M1365.6 459.7h0M1368.8 459.5h0M1372 459.8h0M1375.2 459.6h0M1378.4 459.8h0M1381.6 459.3h0M1384.8 459.7h0M1388 459.5h0M1391.2 459.8h0M1394.4 459.4h0M1397.6 459.4h0M1400.8 459.7h0M1404 459.5h0M1407.2 459.6h0M1410.4 459.5h0M1413.6 459.9h0M1416.8 459.7h0M1420 459.8h0M1423.2 459.8h0M1426.4 459.8h0M1429.6 459.6h0M1432.8 459.5h0M1436 459.6h0M1439.2 459.8h0M1442.4 459.8h0M1445.6 459.6h0M1448.8 459.8h0M1452 459.8h0M1455.2 459.3h0M1458.4 459.7h0M1461.6 459.8h0M1464.8 459.3h0M1468 459.5h0M1471.2 459.7h0M1474.4 459.6h0M1477.6 459.6h0M1480.8 459.4h0M1484 459.5h0M1487.2 459.8h0M1490.4 459.5h0M1493.6 459.6h0M1496.8 459.7h0M1500 459.5h0M1503.2 459.5h0M1506.4 459.6h0M1509.6 459.8h0M1512.8 459.8h0M1516 459.4h0M1519.2 459.6h0M1522.4 459.8h0M1525.6 459.8h0M1528.8 459.6h0M1532 459.7h0M1535.2 459.7h0M1538.4 459.7h0M1541.6 459.8h0M1544.8 459.9h0M1548 459.9h0M1551.2 459.4h0M1554.4 459.7h0M1557.6 459.5h0M1560.8 459.5h0M1564 459.4h0M1567.2 459.8h0M1570.4 459.8h0M1573.6 459.6h0M1576.8 459.6h0M1580 459.4h0M1583.2 459.9h0M1586.4 459.8h0M1589.6 459.4h0M1592.8 459.6h0M1596 459.9h0M1339.2 296.4h0M1428.7 425.4h0M1453.2 423.6h0M1469.5 424.5h0M1408.8 429h0M1394.3 431.7h0M1585.4 430.8h0M1590.8 425.4h0" stroke="#bdbec0" stroke-width="8.6"/>
<path d="M1391.6 457.8h0M1397 458.1h0M1402.4 458.9h0M1407.9 458.8h0M1413.3 458.3h0M1418.7 458.6h0M1497.5 459.8h0M1506.6 459.8h0M1428.7 456.2h0M1573.6 449.8h0" stroke="#94adc2" stroke-width="8.6"/>
<path d="M1491.1 449.6h0M1496.2 449.1h0M1501.4 451.4h0M1506.5 449.4h0M1511.7 451.2h0M1516.9 451.4h0M1522 451.5h0M1527.2 451.3h0M1532.4 448.9h0M1537.5 450.4h0M1542.7 449.3h0M1547.9 451.5h0M1553 449h0M1558.2 449.8h0M1563.3 450.3h0M1568.5 449h0M1573.7 449.5h0M1578.8 450.3h0M1584 449.6h0M1589.2 449.1h0M1426.9 449.8h0M1469.5 444.4h0M1583.6 450.7h0" stroke="#6c95b4" stroke-width="8.6"/>
<path d="M1431.4 458.6h0M1436.8 458.6h0M1442.3 459.2h0M1447.7 459.3h0M1453.2 459.6h0M1458.6 459.7h0M1464 459.5h0M1469.5 458.4h0M1474.9 458h0M1480.3 459.9h0M1519.3 456.2h0M1524.7 457.1h0M1530.1 454.3h0M1533.8 456.2h0M1530.1 440.8h0M1557.3 444.4h0M1508.4 445.3h0M1524.7 450.7h0" stroke="#4a80a8" stroke-width="8.6"/>
</g>
<line x1="1340.3" y1="387" x2="1593.2" y2="387" stroke="#111" stroke-width="1.9" stroke-dasharray="3 3"/>
<line x1="1481.8" y1="288.6" x2="1481.8" y2="467" stroke="#e8202a" stroke-width="1.8" stroke-dasharray="3 3"/>
<line x1="1506" y1="420" x2="1488.5" y2="448.5" stroke="#e8202a" stroke-width="1.5"/>
<path clip-path="url(#c14)" d="M1481.8 447.8l10.2 10.2l-10.2 10.2l-10.2 -10.2z" fill="#5d58a6" stroke="#111" stroke-width="1.1"/>
<text x="1344.5" y="380.5" font-size="21" letter-spacing="-0.3" fill="#111">3.5 x 10<tspan font-size="13" dy="-8.5">-5</tspan></text>
<text x="1491" y="414.5" font-size="21" fill="#e8202a">rs138349</text>
<rect x="1340.3" y="288.6" width="252.9" height="178.4" fill="none" stroke="#000" stroke-width="1.4"/>
<path d="M1339.6 467.2H1593V287.9" fill="none" stroke="#000" stroke-width="2.2"/>
<clipPath id="c15"><rect x="1601.4" y="288.6" width="253.6" height="178.4"/></clipPath>
<rect x="1678.4" y="288.6" width="129.3" height="178.4" fill="#e9eaeb"/>
<g clip-path="url(#c15)" fill="none" stroke-linecap="round">
<path d="M1595.0 464.1V448.6L1601.0 448.6L1603.6 449.7L1606.2 449.6L1608.8 450.1L1611.4 450.2L1614.0 449.9L1616.6 449.5L1619.2 448.8L1621.8 448.7L1624.4 448.4L1627.0 448.7L1629.6 448.8L1632.2 449.4L1634.8 450.1L1637.4 450.9L1640.0 450.9L1642.6 450.5L1645.2 449.7L1647.8 449.5L1650.4 450.1L1653.0 450.6L1655.6 451.2L1658.2 450.2L1660.8 450.0L1663.4 449.5L1666.0 450.4L1668.6 450.9L1671.2 451.3L1673.8 450.9L1676.4 450.2L1679.0 450.6L1681.6 450.7L1684.2 451.7L1686.8 451.7L1689.4 452.4L1692.0 452.6L1694.6 452.6L1697.2 452.4L1699.8 452.5L1702.4 453.0L1705.0 453.3L1707.6 453.3L1710.2 452.7L1712.8 452.8L1715.4 453.7L1718.0 454.5L1720.6 454.8L1723.2 453.7L1725.8 453.5L1728.4 452.9L1731.0 453.2L1733.6 453.7L1736.2 454.2L1738.8 454.1L1741.4 453.4L1744.0 454.1L1746.6 454.2L1749.2 454.7L1751.8 455.0L1754.4 455.5L1757.0 456.2L1759.6 455.8L1762.2 454.9L1764.8 452.9L1767.4 451.8L1770.0 452.3L1772.6 452.6L1775.2 452.9L1777.8 453.5L1780.4 455.5L1783.0 455.2L1785.6 455.8L1788.2 456.0L1790.8 456.7L1793.4 455.7L1796.0 454.8L1798.6 454.0L1801.2 454.0L1803.8 453.5L1806.4 453.6L1809.0 453.8L1811.6 453.7L1814.2 452.8L1816.8 452.9L1819.4 452.8L1822.0 453.6L1824.6 453.3L1827.2 453.3L1829.8 454.3L1832.4 454.2L1835.0 454.0L1837.6 452.7L1840.2 451.9L1842.8 452.2L1845.4 453.1L1848.0 452.6L1850.6 451.9L1853.2 452.2L1855.8 453.1L1858.4 453.9H1862.0V464.1z" fill="#bdbec0" stroke="none"/>
<path d="M1601.1 429.5h0M1601.8 440.1h0M1601.3 448h0M1603.7 432.4h0M1602.9 436.1h0M1602.5 433.5h0M1606.3 432.2h0M1606.4 447.3h0M1606.1 443.3h0M1607.8 433.3h0M1609.5 445.6h0M1609.8 449h0M1611.8 433.6h0M1611.3 448.8h0M1610.3 445h0M1614 432.8h0M1614.1 439.5h0M1614.1 442.1h0M1617.4 431.8h0M1617.6 449.1h0M1616.6 434.9h0M1619.5 430.1h0M1618.7 439.3h0M1618.8 444.9h0M1622.7 429.8h0M1621.5 444.4h0M1622.6 442.9h0M1624.5 429h0M1623.8 445.5h0M1623.7 448h0M1627.7 429.8h0M1626 441.2h0M1626 442.1h0M1629.5 430h0M1629 433.5h0M1628.9 433.7h0M1632.5 431.6h0M1633 449.5h0M1631.8 446.4h0M1634 426.2h0M1634.5 438.9h0M1634.3 440.1h0M1637.7 427.8h0M1638.6 449.5h0M1636.6 437.2h0M1639.3 429.2h0M1639.9 440.6h0M1640.2 441h0M1643.2 434.4h0M1642.8 442.3h0M1641.6 447h0M1644.6 425h0M1644.7 444.2h0M1645.3 440.5h0M1647.7 431.9h0M1648.2 445.1h0M1648.9 437.6h0M1651.2 433.2h0M1651.7 433.6h0M1650.1 449.2h0M1653.7 434.5h0M1652.7 450.6h0M1653.7 440.1h0M1655 436.2h0M1654.5 446.7h0M1655.4 448h0M1658.4 433.7h0M1657.5 445.2h0M1658.6 446.8h0M1660.1 433.1h0M1661 437h0M1660.9 433.8h0M1663.3 431.7h0M1664.5 440.4h0M1663.8 432.2h0M1665.1 434h0M1665.7 437.4h0M1664.8 445.9h0M1669.5 430.4h0M1669.1 440.5h0M1668 441.8h0M1671.4 436.3h0M1671.4 451h0M1671.3 445h0M1673.7 432.1h0M1674.2 449.8h0M1674.1 447.7h0M1676.6 433.5h0M1675.6 443h0M1677.6 446.2h0M1678.6 434.6h0M1679.1 444.4h0M1678.5 438.9h0M1680.6 434.8h0M1681.8 439.1h0M1680.7 436.8h0M1685.1 437.4h0M1683.2 443.3h0M1685.4 438.8h0M1686 430.1h0M1687.6 451.2h0M1688 442.3h0M1689.4 439.1h0M1689.6 450h0M1692.3 439.6h0M1691.2 441.7h0M1695.1 439.5h0M1695.4 452.2h0M1696.6 439.2h0M1697.6 452.1h0M1698.8 431.5h0M1700.5 442.5h0M1702.5 440.7h0M1702.8 443.8h0M1704.7 434.3h0M1705 447.3h0M1707.4 441.3h0M1706.5 443.5h0M1710.5 439.8h0M1711.1 445.9h0M1713.4 440.1h0M1711.9 443.3h0M1716.4 436.5h0M1715.2 447.7h0M1718.6 444.3h0M1718.1 450h0M1721.5 445.2h0M1721.5 447.5h0M1723.4 442.4h0M1723.8 444.9h0M1726.6 441.8h0M1725.8 452.6h0M1727.8 440.4h0M1729.7 447.8h0M1730.2 441.2h0M1730.7 451.2h0M1733.5 442.4h0M1733.7 452.6h0M1735.3 443.5h0M1737.5 448.7h0M1739.3 443.3h0M1739 453h0M1741.9 441.6h0M1740.2 449.2h0M1743.5 443.4h0M1743.9 446.8h0M1746.3 443.6h0M1746.4 453.5h0M1749.8 444.9h0M1749.6 451.5h0M1752.3 445.7h0M1752.8 453.8h0M1753.4 446.9h0M1755.1 448.4h0M1756.2 448.5h0M1757.7 450.9h0M1760.5 447.7h0M1759.9 448.2h0M1761.5 445.4h0M1762.3 452.7h0M1765.7 440.3h0M1765.1 445.9h0M1768.3 437.7h0M1768 447.6h0M1767.1 444.6h0M1769.3 438.8h0M1769.6 452.3h0M1771.8 439.5h0M1772.2 447.4h0M1775.8 440.3h0M1776.1 445.5h0M1777 441.9h0M1777.1 447.4h0M1780.2 446.9h0M1779.7 448.1h0M1783.4 440.1h0M1784.1 453.4h0M1786 447.7h0M1786.9 447.9h0M1788.7 441.5h0M1787.8 450.6h0M1791 449.9h0M1789.6 451.1h0M1793 447.3h0M1792.4 449.4h0M1795.2 441.4h0M1797 451.3h0M1797.8 443.1h0M1798.2 447.4h0M1801.7 443.1h0M1801.8 450h0M1804.5 441.7h0M1804.8 445.2h0M1806 442.2h0M1807.1 448.9h0M1809.5 442.6h0M1809.8 444.8h0M1811.9 442.4h0M1811.5 453.4h0M1815 440.1h0M1814 442.5h0M1817.6 440.3h0M1816 445.6h0M1819.6 432.7h0M1820.7 452.1h0M1822.5 442h0M1821.4 444.8h0M1823.9 441.4h0M1824.4 446.9h0M1826.4 441.4h0M1826.9 451.7h0M1830.7 438.8h0M1829 445.5h0M1831.9 443.5h0M1832.8 452.3h0M1834.4 443.2h0M1834.2 453.4h0M1838.4 439.8h0M1837.7 452.4h0M1840.6 438h0M1839.9 452h0M1841.9 438.5h0M1842.3 447.9h0M1845.7 440.9h0M1846.4 452.6h0M1848.5 439.6h0M1846.9 451.7h0M1849.8 437.8h0M1849.7 449.6h0M1853.3 431.2h0M1853.2 446.7h0M1854.9 440.9h0M1856.2 452.8h0M1858.6 437.4h0M1857.1 445h0M1601 459.5h0M1604.2 459.5h0M1607.4 459.6h0M1610.6 459.3h0M1613.8 459.8h0M1617 459.9h0M1620.2 459.6h0M1623.4 459.7h0M1626.6 459.8h0M1629.8 459.8h0M1633 459.8h0M1636.2 459.6h0M1639.4 459.4h0M1642.6 459.8h0M1645.8 459.8h0M1649 459.7h0M1652.2 459.5h0M1655.4 459.9h0M1658.6 459.7h0M1661.8 459.5h0M1665 459.8h0M1668.2 459.4h0M1671.4 459.4h0M1674.6 459.8h0M1677.8 459.3h0M1681 459.8h0M1684.2 459.5h0M1687.4 459.6h0M1690.6 459.7h0M1693.8 459.8h0M1697 459.4h0M1700.2 459.4h0M1703.4 459.6h0M1706.6 459.4h0M1709.8 459.6h0M1713 459.4h0M1716.2 459.4h0M1719.4 459.6h0M1722.6 459.3h0M1725.8 459.5h0M1729 459.5h0M1732.2 459.4h0M1735.4 459.8h0M1738.6 459.8h0M1741.8 459.3h0M1745 459.8h0M1748.2 459.4h0M1751.4 459.7h0M1754.6 459.3h0M1757.8 459.7h0M1761 459.9h0M1764.2 459.5h0M1767.4 459.4h0M1770.6 459.5h0M1773.8 459.8h0M1777 459.8h0M1780.2 459.4h0M1783.4 459.8h0M1786.6 459.7h0M1789.8 459.9h0M1793 459.9h0M1796.2 459.4h0M1799.4 459.7h0M1802.6 459.3h0M1805.8 459.4h0M1809 459.6h0M1812.2 459.4h0M1815.4 459.4h0M1818.6 459.5h0M1821.8 459.6h0M1825 459.9h0M1828.2 459.6h0M1831.4 459.6h0M1834.6 459.7h0M1837.8 459.4h0M1841 459.8h0M1844.2 459.8h0M1847.4 459.8h0M1850.6 459.6h0M1853.8 459.6h0M1857 459.3h0M1605.4 392.8h0M1618 393.7h0M1630.7 392.8h0M1643.4 387.3h0M1652.5 385.5h0M1667 384.6h0M1638 400h0M1608.1 404.5h0M1628 410h0M1616.2 414.5h0M1612.6 419h0M1623.5 419h0M1661.5 400h0M1674.2 418.1h0M1679.6 414.5h0M1685.1 403.6h0M1685.1 412.7h0M1793.8 370.1h0M1800.1 370.1h0M1818.2 371h0M1851.7 371.9h0M1828.2 410.9h0M1848.1 394.6h0M1851.7 410h0M1820.9 415.4h0M1837.2 418.1h0M1842.7 416.3h0M1759.3 422.6h0M1723.1 419h0M1730.4 419.9h0M1733.1 415.4h0M1790.1 427.2h0M1799.2 413.6h0M1804.6 427.2h0M1766.6 410h0M1775.7 395.5h0M1732.2 371h0M1681.4 387.3h0M1634.3 387.3h0M1674.2 427.2h0M1695.9 423.6h0M1795.9 378.9h0M1800.2 380h0M1804.4 379.4h0M1808.7 380.3h0M1813 377.5h0M1817.3 376.2h0M1821.5 378.1h0M1825.8 378.8h0M1830.1 376.8h0M1834.3 379.4h0M1838.6 377.7h0M1842.9 378.5h0M1847.1 378.4h0M1851.4 377.5h0M1662.4 418.1h0M1631.8 422.7h0M1683.7 416.7h0M1629.6 418.4h0M1630.4 421.6h0M1673.4 417.1h0M1664.8 420.8h0M1652.3 421.8h0M1654.9 417.1h0M1656 420.3h0M1670.3 423.1h0M1638.3 428.8h0M1618.8 414.7h0M1614 424.5h0M1611.4 425.2h0M1611.1 418.8h0M1656.5 414.8h0M1640.4 429h0M1665.5 420.1h0M1680.9 422.7h0M1672.6 419.5h0M1636 424.6h0M1668.3 424.5h0M1616.4 420.6h0M1630.6 417.8h0M1613.5 425.3h0M1615.6 419.6h0M1605.1 424.7h0M1656.8 415.6h0M1684.5 428.9h0M1844 434.1h0M1842.3 425.6h0M1825.9 427.9h0M1816.3 432.3h0M1838 429.3h0M1844 427.9h0M1826.2 426.6h0M1824.5 434.6h0M1834.1 433.4h0M1848.5 432.6h0M1829.2 435.9h0M1818.6 429.9h0M1849.2 432.8h0M1829 434.4h0" stroke="#bdbec0" stroke-width="8.6"/>
<path d="M1654.3 400h0M1668.8 404.5h0M1672.4 404.5h0M1650.7 413.6h0M1668.8 415.4h0M1679.6 416.3h0M1688.7 408.2h0M1833.6 423.6h0M1840.9 423.6h0" stroke="#94adc2" stroke-width="8.6"/>
<path d="M1688.7 393.7h0M1701.4 398.2h0M1706.8 392.8h0M1715 398.2h0M1730.4 404.5h0M1731.3 428.1h0M1766.6 393.7h0M1761.2 384.6h0M1753.9 387.3h0M1746.7 394.6h0M1811.9 392.8h0M1828.2 424.5h0M1837.2 424.5h0M1851.7 421.7h0M1710.4 387.3h0M1732.2 383.7h0" stroke="#6c95b4" stroke-width="8.6"/>
<path d="M1692.3 379.2h0M1697.8 381h0M1705 382.8h0M1699.6 388.2h0M1720.4 384.6h0M1726.7 381h0M1719.5 389.1h0M1715.9 390.9h0M1784.7 374.6h0M1792.9 384.6h0M1788.3 393.7h0M1785.6 390.9h0M1750.3 400.9h0M1757.5 404.5h0M1763.9 403.6h0M1770.2 404.5h0M1775.7 405.4h0M1782 402.7h0M1791.1 408.2h0M1796.5 404.5h0M1800.1 400h0M1805.5 399.1h0M1810.1 397.3h0M1815.5 400h0M1819.1 404.5h0M1817.3 424.5h0M1822.8 423.6h0M1819.1 433.5h0M1845.4 422.6h0M1733.1 441.3h0" stroke="#4a80a8" stroke-width="8.6"/>
</g>
<line x1="1601.4" y1="387" x2="1855" y2="387" stroke="#111" stroke-width="1.9" stroke-dasharray="3 3"/>
<line x1="1743.4" y1="288.6" x2="1743.4" y2="467" stroke="#e8202a" stroke-width="1.8" stroke-dasharray="3 3"/>
<line x1="1755.5" y1="363" x2="1747" y2="373.5" stroke="#e8202a" stroke-width="1.5"/>
<path clip-path="url(#c15)" d="M1743.4 373.5l10.2 10.2l-10.2 10.2l-10.2 -10.2z" fill="#5d58a6" stroke="#111" stroke-width="1.1"/>
<text x="1606.8" y="380.5" font-size="21" letter-spacing="-0.3" fill="#111">3.5 x 10<tspan font-size="13" dy="-8.5">-5</tspan></text>
<text x="1748" y="354" font-size="21" fill="#e8202a">rs138349</text>
<rect x="1601.4" y="288.6" width="253.6" height="178.4" fill="none" stroke="#000" stroke-width="1.4"/>
<path d="M1600.7 467.2H1854.8V287.9" fill="none" stroke="#000" stroke-width="2.2"/>
<rect x="1280.3" y="475.2" width="60" height="180.5" fill="#d1d2d4"/>
<text x="1305.9" y="565.1" font-size="25.32" letter-spacing="-0.72" text-anchor="middle" transform="rotate(-90 1305.9 565.1)">Pancreas</text>
<text x="1331.2" y="565.1" font-size="25.32" letter-spacing="-0.72" text-anchor="middle" transform="rotate(-90 1331.2 565.1)">-log10(p-value)</text>
<path d="M1261.7 475.8h18.6M1261.7 533.3h18.6M1261.7 590.2h18.6M1261.7 647.1h18.6" stroke="#303030" stroke-width="2.9" fill="none"/>
<text x="1258.3" y="483.5" font-size="21.5" text-anchor="end">15</text>
<text x="1258.3" y="541" font-size="21.5" text-anchor="end">10</text>
<text x="1258.3" y="597.9" font-size="21.5" text-anchor="end">5</text>
<text x="1258.3" y="654.8" font-size="21.5" text-anchor="end">0</text>
<clipPath id="c16"><rect x="1340.3" y="475.9" width="252.9" height="178.5"/></clipPath>
<rect x="1417.3" y="475.9" width="129.1" height="178.5" fill="#e9eaeb"/>
<g clip-path="url(#c16)" fill="none" stroke-linecap="round">
<path d="M1334.0 651.6V639.9L1340.0 639.9L1342.6 637.7L1345.2 636.3L1347.8 636.4L1350.4 637.6L1353.0 637.4L1355.6 637.7L1358.2 637.9L1360.8 638.7L1363.4 640.3L1366.0 642.3L1368.6 641.7L1371.2 640.5L1373.8 639.4L1376.4 641.4L1379.0 642.0L1381.6 642.0L1384.2 641.2L1386.8 641.6L1389.4 640.3L1392.0 638.8L1394.6 637.8L1397.2 639.1L1399.8 640.3L1402.4 641.1L1405.0 640.8L1407.6 641.0L1410.2 640.9L1412.8 640.3L1415.4 640.5L1418.0 640.9L1420.6 640.8L1423.2 639.6L1425.8 639.0L1428.4 640.7L1431.0 641.9L1433.6 641.2L1436.2 642.3L1438.8 641.0L1441.4 642.2L1444.0 640.5L1446.6 642.2L1449.2 641.2L1451.8 640.7L1454.4 639.1L1457.0 639.4L1459.6 640.7L1462.2 640.7L1464.8 640.6L1467.4 639.8L1470.0 642.0L1472.6 642.3L1475.2 642.2L1477.8 640.8L1480.4 640.7L1483.0 639.9L1485.6 639.2L1488.2 638.3L1490.8 639.5L1493.4 639.9L1496.0 640.6L1498.6 640.8L1501.2 641.5L1503.8 641.4L1506.4 640.8L1509.0 639.3L1511.6 640.0L1514.2 640.3L1516.8 640.4L1519.4 640.1L1522.0 639.9L1524.6 640.1L1527.2 640.3L1529.8 639.9L1532.4 641.0L1535.0 640.2L1537.6 638.6L1540.2 637.1L1542.8 637.7L1545.4 640.6L1548.0 641.7L1550.6 641.7L1553.2 641.1L1555.8 640.0L1558.4 639.7L1561.0 638.6L1563.6 639.1L1566.2 638.6L1568.8 638.2L1571.4 638.6L1574.0 639.2L1576.6 640.2L1579.2 639.7L1581.8 638.8L1584.4 638.9L1587.0 639.4L1589.6 641.1L1592.2 641.8L1594.8 641.3H1600.0V651.6z" fill="#bdbec0" stroke="none"/>
<path d="M1340.7 630h0M1341 637.6h0M1342.5 632.2h0M1341.4 636.9h0M1344.3 630.2h0M1345.3 630.7h0M1346.9 630.4h0M1348.6 631.1h0M1349.7 628.5h0M1349.3 635.2h0M1353 631.8h0M1352.4 633.8h0M1355.5 632.3h0M1355.4 634.5h0M1358.9 632.5h0M1357.8 633.6h0M1360.1 633.6h0M1362 638h0M1364.1 636h0M1363.7 639.3h0M1365.6 638.8h0M1366.3 639.7h0M1368.1 638h0M1367.5 640.6h0M1372.2 636.2h0M1371.1 638.2h0M1374.3 634.7h0M1372.9 636.4h0M1377 634.1h0M1375.7 638.7h0M1378.6 638.3h0M1379.6 639.5h0M1381.3 638.5h0M1382.8 641h0M1385.1 637.3h0M1384.5 640.2h0M1387.7 637.9h0M1386.1 640.2h0M1390.3 635.9h0M1389 638.2h0M1392.9 629.4h0M1391.9 637.2h0M1394.1 632.4h0M1394.6 637.3h0M1397.9 634.2h0M1397.9 637.8h0M1400 636h0M1399 638.8h0M1402.8 637.1h0M1401.5 640.1h0M1405.8 631.2h0M1405.3 638.8h0M1406.9 637h0M1407.5 639h0M1409.5 636.8h0M1409.3 637.5h0M1413.6 635.9h0M1412.8 639.7h0M1415.4 631.8h0M1415.4 636.5h0M1418.5 636.8h0M1417.6 637.5h0M1419.8 631.7h0M1419.8 638.3h0M1423.7 635h0M1422.4 635.2h0M1425.6 634.1h0M1425.2 634.2h0M1428.2 636.5h0M1428.5 640.1h0M1430.9 638.2h0M1431.4 639.2h0M1433.9 637.2h0M1434.3 639.1h0M1436.5 635h0M1436.2 640.3h0M1439 637h0M1439.7 638.2h0M1442.2 638.6h0M1440.5 640.1h0M1444.7 636.2h0M1444.3 637.3h0M1445.9 638.6h0M1446.4 639.9h0M1450.1 637.2h0M1450.3 640.1h0M1452.7 636.5h0M1451 637.6h0M1455.1 634.2h0M1454.4 637.2h0M1457.2 634.7h0M1457.1 636.2h0M1460 636.5h0M1460.2 639.9h0M1461.5 636.5h0M1463.3 640.2h0M1464.9 636.5h0M1463.9 639.4h0M1466.5 635.2h0M1468.1 636h0M1469.3 638.3h0M1469 640.7h0M1473.6 638.9h0M1473.5 639h0M1475.2 638.6h0M1474 641.4h0M1478.7 636.7h0M1477.6 636.8h0M1481.2 636.5h0M1481 639.5h0M1482.9 635.4h0M1482.1 638.3h0M1485.2 634.4h0M1486.4 634.4h0M1487.5 627.9h0M1489.3 635.6h0M1491.6 634.9h0M1491.1 634.9h0M1493.7 631.7h0M1494.5 637.4h0M1496.8 636.4h0M1496.2 638.3h0M1498.3 636.7h0M1499.3 638.8h0M1501.5 637.6h0M1500.8 638.8h0M1504.8 637.5h0M1504 638.9h0M1507.1 636.7h0M1507.6 637.9h0M1509.9 634.5h0M1508.8 636.7h0M1510.7 635.6h0M1512.8 636.2h0M1515.1 636h0M1514.1 639.6h0M1517.1 636.1h0M1517.2 639.6h0M1519.6 630.5h0M1519.9 637.4h0M1522.5 629.8h0M1521.3 636h0M1525 635.7h0M1524.8 636.1h0M1527.1 635.9h0M1527.2 639.2h0M1530.2 635.4h0M1530.9 639h0M1532.2 637h0M1532.8 640.5h0M1534.3 635.8h0M1534.7 636.3h0M1537.2 633.5h0M1537.2 633.5h0M1539.7 631.5h0M1539.2 636.7h0M1542.7 627.9h0M1543.7 634.2h0M1544.7 636.3h0M1544.5 638.3h0M1547.8 638h0M1548.9 640.3h0M1549.9 637.9h0M1550 639.5h0M1552.4 637.1h0M1552.1 640.3h0M1556.4 635.5h0M1556.1 639.4h0M1557.9 635h0M1559 636.4h0M1561.7 633.6h0M1560.8 635.7h0M1562.8 634.2h0M1564 638.6h0M1565.5 633.6h0M1565.3 636.5h0M1569.7 633h0M1567.6 636.6h0M1571 633.6h0M1572.6 634.3h0M1573.8 634.4h0M1574.9 638.7h0M1577.1 632h0M1575.8 637.3h0M1579.5 635h0M1578.5 636.7h0M1580.9 633.8h0M1580.6 636.1h0M1584.6 634h0M1584.1 636.4h0M1586.1 634.7h0M1585.7 638.7h0M1588.7 637.1h0M1590.5 640.6h0M1591.9 638.1h0M1591.9 638.8h0M1595.8 637.4h0M1594.1 640.6h0M1340 646.8h0M1343.2 647h0M1346.4 647.2h0M1349.6 647.4h0M1352.8 647.3h0M1356 647.2h0M1359.2 646.9h0M1362.4 647.4h0M1365.6 647.1h0M1368.8 647.3h0M1372 646.9h0M1375.2 647.4h0M1378.4 647h0M1381.6 647h0M1384.8 647.3h0M1388 647.2h0M1391.2 647h0M1394.4 647.1h0M1397.6 647.2h0M1400.8 647h0M1404 647.1h0M1407.2 647.1h0M1410.4 647h0M1413.6 647h0M1416.8 647h0M1420 647.3h0M1423.2 647.2h0M1426.4 646.9h0M1429.6 646.9h0M1432.8 647h0M1436 647.2h0M1439.2 647.1h0M1442.4 647.2h0M1445.6 647.2h0M1448.8 647h0M1452 646.8h0M1455.2 647.2h0M1458.4 647.1h0M1461.6 647h0M1464.8 647.3h0M1468 646.9h0M1471.2 646.9h0M1474.4 647.2h0M1477.6 647h0M1480.8 647.2h0M1484 646.9h0M1487.2 647.1h0M1490.4 647.2h0M1493.6 647.1h0M1496.8 646.9h0M1500 646.8h0M1503.2 647h0M1506.4 647h0M1509.6 647.3h0M1512.8 646.8h0M1516 647.2h0M1519.2 647.4h0M1522.4 647.1h0M1525.6 646.9h0M1528.8 647.2h0M1532 647.4h0M1535.2 647h0M1538.4 647.2h0M1541.6 646.9h0M1544.8 647h0M1548 647h0M1551.2 647.2h0M1554.4 647.4h0M1557.6 646.9h0M1560.8 646.8h0M1564 647h0M1567.2 647.2h0M1570.4 647.2h0M1573.6 647.1h0M1576.8 647.2h0M1580 647.1h0M1583.2 646.9h0M1586.4 647.4h0M1589.6 647h0M1592.8 646.8h0M1596 646.9h0M1374.3 617.6h0M1385.2 621.2h0M1429.6 610.4h0M1445.9 616.7h0M1483.9 620.3h0M1581.8 615.8h0M1533.8 625.8h0M1405.1 626.7h0" stroke="#bdbec0" stroke-width="8.6"/>
</g>
<line x1="1340.3" y1="595.5" x2="1593.2" y2="595.5" stroke="#111" stroke-width="1.9" stroke-dasharray="3 3"/>
<line x1="1481.8" y1="475.9" x2="1481.8" y2="654.4" stroke="#e8202a" stroke-width="1.8" stroke-dasharray="3 3"/>
<path clip-path="url(#c16)" d="M1481.8 624.6l10.2 10.2l-10.2 10.2l-10.2 -10.2z" fill="#5d58a6" stroke="#111" stroke-width="1.1"/>
<text x="1344.5" y="589.5" font-size="21" letter-spacing="-0.3" fill="#111">3.5 x 10<tspan font-size="13" dy="-8.5">-5</tspan></text>
<text x="1492" y="617.5" font-size="21" fill="#e8202a">rs138349</text>
<rect x="1340.3" y="475.9" width="252.9" height="178.5" fill="none" stroke="#000" stroke-width="1.4"/>
<path d="M1339.6 654.6H1593V475.2" fill="none" stroke="#000" stroke-width="2.2"/>
<clipPath id="c17"><rect x="1601.4" y="475.9" width="253.6" height="178.5"/></clipPath>
<rect x="1678.4" y="475.9" width="129.3" height="178.5" fill="#e9eaeb"/>
<g clip-path="url(#c17)" fill="none" stroke-linecap="round">
<path d="M1595.0 651.6V634.9L1601.0 634.9L1603.6 634.1L1606.2 634.6L1608.8 635.8L1611.4 633.5L1614.0 633.8L1616.6 633.0L1619.2 634.3L1621.8 635.9L1624.4 635.4L1627.0 635.3L1629.6 633.5L1632.2 633.6L1634.8 635.3L1637.4 635.9L1640.0 637.6L1642.6 636.5L1645.2 637.4L1647.8 636.9L1650.4 636.5L1653.0 634.3L1655.6 632.5L1658.2 633.5L1660.8 635.6L1663.4 637.7L1666.0 637.9L1668.6 637.5L1671.2 636.4L1673.8 636.4L1676.4 636.6L1679.0 638.1L1681.6 638.3L1684.2 637.3L1686.8 635.4L1689.4 634.6L1692.0 635.8L1694.6 636.9L1697.2 638.0L1699.8 639.1L1702.4 638.9L1705.0 639.3L1707.6 638.0L1710.2 639.4L1712.8 638.5L1715.4 637.5L1718.0 636.1L1720.6 636.1L1723.2 637.2L1725.8 639.0L1728.4 638.1L1731.0 639.0L1733.6 638.4L1736.2 639.8L1738.8 639.1L1741.4 639.0L1744.0 638.9L1746.6 638.6L1749.2 637.9L1751.8 636.4L1754.4 636.1L1757.0 635.2L1759.6 637.2L1762.2 637.3L1764.8 637.2L1767.4 634.9L1770.0 634.7L1772.6 634.0L1775.2 633.2L1777.8 633.1L1780.4 633.7L1783.0 634.7L1785.6 633.1L1788.2 632.7L1790.8 631.5L1793.4 631.7L1796.0 631.3L1798.6 632.4L1801.2 629.8L1803.8 627.6L1806.4 624.9L1809.0 627.6L1811.6 627.6L1814.2 628.4L1816.8 627.8L1819.4 628.6L1822.0 628.6L1824.6 626.2L1827.2 625.7L1829.8 625.3L1832.4 626.2L1835.0 626.0L1837.6 627.0L1840.2 626.4L1842.8 626.6L1845.4 624.8L1848.0 624.3L1850.6 624.8L1853.2 623.7L1855.8 625.3L1858.4 625.3H1862.0V651.6z" fill="#bdbec0" stroke="none"/>
<path d="M1601.4 622.2h0M1601.1 633.9h0M1604.4 627.1h0M1602.5 633.4h0M1605.9 627.8h0M1607 633.9h0M1609.2 629.5h0M1608.3 631.9h0M1611 626.2h0M1610.8 628h0M1614.7 626.7h0M1613.8 632.5h0M1615.6 625.6h0M1617.2 631.6h0M1618.9 627.4h0M1618 631.7h0M1621.5 629.6h0M1621.3 633.2h0M1625.2 629h0M1624 630.7h0M1626.2 625.5h0M1627.2 634.7h0M1628.9 626.2h0M1630 627.4h0M1633 626.3h0M1633.2 632h0M1635.6 628.9h0M1635.7 635.1h0M1636.6 629.7h0M1638.2 630.8h0M1640.5 625.5h0M1638.9 633.7h0M1641.7 630.6h0M1643.8 636.1h0M1644.6 631.8h0M1645.5 635.5h0M1648.6 631.1h0M1647.5 633.3h0M1649.6 630.5h0M1649.9 630.6h0M1653.1 627.5h0M1652.2 631.3h0M1654.8 624.8h0M1655.9 629.9h0M1657.6 626.2h0M1658.9 632.7h0M1660.8 625.2h0M1662.1 633.4h0M1663.3 624.8h0M1662.7 637h0M1665.4 632.5h0M1664.8 635.9h0M1669 631.9h0M1668.2 633.7h0M1671.9 630.4h0M1671.1 631.3h0M1673.5 622.7h0M1672.6 634h0M1676.5 627.1h0M1677.2 635.4h0M1678 626.5h0M1680.1 636.5h0M1681.2 633.1h0M1682.6 637.9h0M1683.7 631.7h0M1683.6 634.6h0M1686.7 628.9h0M1686.1 635.1h0M1688.6 621.1h0M1689.6 632h0M1692.3 623.3h0M1693.1 630.1h0M1694.7 631h0M1694.4 634.5h0M1698.2 626.7h0M1698.1 635.6h0M1699.6 634.3h0M1701 637.3h0M1702.9 634h0M1703.1 638.2h0M1706 634.5h0M1704.4 638.9h0M1707.5 632.6h0M1708.6 636.7h0M1711 634.6h0M1709.1 637h0M1713.6 626.1h0M1714.1 637.7h0M1715.5 632h0M1715.5 633.5h0M1717.7 625.4h0M1717.4 630.7h0M1720.9 629.9h0M1720.5 635.6h0M1723.7 631.6h0M1724.5 635.6h0M1724.8 634.1h0M1726.1 634.8h0M1727.9 632.9h0M1729 634.3h0M1730.7 634.1h0M1732.2 636.3h0M1733.9 633.3h0M1734.5 635.1h0M1736.6 635.2h0M1737.2 639.3h0M1739 634.2h0M1739.9 636.5h0M1742.2 634.1h0M1741.6 636.6h0M1744.8 634h0M1744.1 636.2h0M1746.5 633.6h0M1745.9 637h0M1748.6 632.5h0M1749 632.9h0M1751.7 630.3h0M1752 630.4h0M1754.2 629.9h0M1754 634.9h0M1756.6 628.7h0M1755.8 633.3h0M1760.2 631.5h0M1760.5 635.6h0M1762.4 625.5h0M1763.4 632.4h0M1765.5 631.5h0M1763.7 633.6h0M1767.9 624.7h0M1767 632.4h0M1770.9 627.9h0M1770.9 632h0M1772.9 626.9h0M1771.8 628.9h0M1774.6 625.8h0M1776.4 632.6h0M1777.7 625.7h0M1777 626.3h0M1780.8 626.5h0M1779.4 633.5h0M1783.7 627.9h0M1783.3 630.7h0M1786.4 625.7h0M1785 633.1h0M1788.5 625.1h0M1787.5 625.7h0M1791.5 619.2h0M1789.9 627.2h0M1793.2 623.7h0M1792.9 631.7h0M1796.9 623h0M1796.7 629h0M1797.8 624.6h0M1798.2 631.6h0M1801.5 620.9h0M1800.4 621.1h0M1803.8 617.7h0M1802.9 621.2h0M1806.6 613.9h0M1806 617.2h0M1809.2 617.9h0M1808.9 625.2h0M1812.5 617.8h0M1810.8 617.9h0M1814.3 618.9h0M1813.4 624.2h0M1816.6 618h0M1816.8 627h0M1819.7 619.2h0M1818.8 628.1h0M1822.7 619.2h0M1820.9 628.9h0M1824.3 615.9h0M1824.7 625.6h0M1828 608.5h0M1827.3 626h0M1829.4 614.5h0M1830.8 623.6h0M1832.6 612.7h0M1832.6 618.3h0M1834.8 615.5h0M1834.5 616.1h0M1836.9 616.9h0M1837.9 625.2h0M1839.7 609.3h0M1839.3 619h0M1842.8 616.4h0M1843.5 625.4h0M1845.2 613.8h0M1845.2 620.1h0M1847.1 613.1h0M1848.2 624.8h0M1851.4 606.4h0M1849.8 623.7h0M1852.3 612.3h0M1852.2 619.4h0M1855.6 614.6h0M1855.3 619.2h0M1858.9 614.5h0M1857.3 625.9h0M1601 647h0M1604.2 647h0M1607.4 646.8h0M1610.6 647.2h0M1613.8 646.8h0M1617 647.1h0M1620.2 647.3h0M1623.4 647h0M1626.6 647h0M1629.8 647.3h0M1633 647.3h0M1636.2 647.3h0M1639.4 646.9h0M1642.6 647h0M1645.8 647h0M1649 647.1h0M1652.2 647.3h0M1655.4 647.3h0M1658.6 647.1h0M1661.8 646.8h0M1665 646.8h0M1668.2 647h0M1671.4 647.4h0M1674.6 646.8h0M1677.8 647.4h0M1681 646.8h0M1684.2 646.8h0M1687.4 647.1h0M1690.6 646.8h0M1693.8 647h0M1697 647.4h0M1700.2 647.4h0M1703.4 647.3h0M1706.6 647.2h0M1709.8 647h0M1713 647h0M1716.2 647.1h0M1719.4 647h0M1722.6 647.2h0M1725.8 646.9h0M1729 647.1h0M1732.2 647h0M1735.4 646.9h0M1738.6 646.9h0M1741.8 647.1h0M1745 647h0M1748.2 647h0M1751.4 647.4h0M1754.6 647h0M1757.8 647h0M1761 647h0M1764.2 647.4h0M1767.4 647.4h0M1770.6 647.2h0M1773.8 646.8h0M1777 647.1h0M1780.2 647.4h0M1783.4 646.9h0M1786.6 647.3h0M1789.8 647.2h0M1793 647.1h0M1796.2 647.4h0M1799.4 647h0M1802.6 647.4h0M1805.8 647h0M1809 647.3h0M1812.2 647.2h0M1815.4 647.1h0M1818.6 647.1h0M1821.8 646.9h0M1825 647h0M1828.2 647.3h0M1831.4 647.1h0M1834.6 646.9h0M1837.8 647.2h0M1841 647.1h0M1844.2 647.3h0M1847.4 647.3h0M1850.6 647.3h0M1853.8 646.9h0M1857 647.1h0M1618 605.8h0M1619.9 610.4h0M1632.5 603.1h0M1637.1 589.5h0M1650.7 603.1h0M1663.3 589.5h0M1667 600.4h0M1699.6 594.1h0M1714.1 599.5h0M1715 585h0M1728.6 585h0M1730.4 588.6h0M1757.5 589.5h0M1741.2 606.7h0M1746.7 610.4h0M1690.5 581.4h0M1792 567.8h0M1804.6 574.1h0M1782.9 555.1h0M1830.9 591.3h0M1810.1 594.1h0M1779.3 600.4h0M1777.5 606.7h0M1837.2 608.6h0M1844.5 610.4h0M1790.1 604.9h0M1806.4 603.1h0M1634.3 612.2h0M1641.6 610.4h0M1657.9 606.7h0M1681.4 608.6h0M1674.2 614h0" stroke="#bdbec0" stroke-width="8.6"/>
<path d="M1715 533.4h0M1722.2 537h0M1714.1 547.9h0M1734.9 555.1h0M1732.2 562.4h0M1739.4 564.2h0M1740.3 568.7h0M1747.6 548.8h0M1755.7 553.3h0M1761.2 556h0M1772.9 551.5h0M1766.6 559.6h0M1753.9 564.2h0M1730.4 577.8h0M1772.9 583.6h0M1781.1 537.9h0M1789.2 544.2h0M1810.1 558.7h0M1818.2 563.3h0M1824.6 550.6h0M1831.8 550.6h0M1837.2 554.2h0M1849.9 555.1h0M1853.6 558.7h0M1654.3 585h0M1670.6 595h0M1692.3 595.9h0M1695.9 604.9h0M1703.2 601.3h0M1710.4 607.6h0M1650.7 616.7h0M1668.8 619.4h0M1679.6 614.9h0M1688.7 624.9h0M1670.6 615.8h0" stroke="#d5c0a0" stroke-width="8.6"/>
<path d="M1785.3 485.4h0M1788.9 499.3h0M1730.4 507.5h0M1719.5 515.3h0M1705.9 523.8h0M1715.9 523.4h0M1726.7 519.8h0M1730.4 522.5h0M1724.9 528.8h0M1728.6 528.8h0M1694.1 534.3h0M1699.6 533.4h0M1705 536.1h0M1690.5 541.5h0M1697.8 538.8h0M1715 539.7h0M1717.7 544.2h0M1724.9 545.1h0M1732.2 545.1h0M1702.3 551.5h0M1721.3 555.1h0M1750.3 518.9h0M1758.4 520.7h0M1763 513.4h0M1768.4 513.4h0M1773.8 513.4h0M1781.1 513.4h0M1766.6 518.9h0M1773.8 518.9h0M1784.7 520.7h0M1793.8 521.6h0M1802.8 522.5h0M1807.4 514.3h0M1812.8 508.9h0M1815.5 513.4h0M1818.2 515.3h0M1810.1 518h0M1791.1 529.7h0M1796.5 528.8h0M1801 531.6h0M1810.1 533.4h0M1793.8 537h0M1799.2 537.9h0M1794.7 545.1h0M1792.9 556.9h0M1782.9 559.3h0M1745.8 533.4h0M1819.1 553.3h0M1844.5 553.3h0" stroke="#f5ba5c" stroke-width="8.6"/>
</g>
<line x1="1601.4" y1="595.5" x2="1855" y2="595.5" stroke="#111" stroke-width="1.9" stroke-dasharray="3 3"/>
<line x1="1743.4" y1="475.9" x2="1743.4" y2="654.4" stroke="#e8202a" stroke-width="1.8" stroke-dasharray="3 3"/>
<path clip-path="url(#c17)" d="M1743.4 473l10.2 10.2l-10.2 10.2l-10.2 -10.2z" fill="#5d58a6" stroke="#111" stroke-width="1.1"/>
<text x="1606.8" y="589.5" font-size="21" letter-spacing="-0.3" fill="#111">3.5 x 10<tspan font-size="13" dy="-8.5">-5</tspan></text>
<text x="1634" y="498" font-size="21" fill="#e8202a">rs138349</text>
<rect x="1601.4" y="475.9" width="253.6" height="178.5" fill="none" stroke="#000" stroke-width="1.4"/>
<path d="M1600.7 654.6H1854.8V475.2" fill="none" stroke="#000" stroke-width="2.2"/>
<rect x="1280.3" y="661.7" width="60" height="180.2" fill="#d1d2d4"/>
<text x="1305.9" y="751.5" font-size="25.32" letter-spacing="-0.72" text-anchor="middle" transform="rotate(-90 1305.9 751.5)">Cholesterol</text>
<text x="1331.2" y="751.5" font-size="25.32" letter-spacing="-0.72" text-anchor="middle" transform="rotate(-90 1331.2 751.5)">-log10(p-value)</text>
<path d="M1261.7 696h18.6M1261.7 741.6h18.6M1261.7 787.2h18.6M1261.7 832.8h18.6" stroke="#303030" stroke-width="2.9" fill="none"/>
<text x="1258.3" y="703.7" font-size="21.5" text-anchor="end">7.5</text>
<text x="1258.3" y="749.3" font-size="21.5" text-anchor="end">5.0</text>
<text x="1258.3" y="794.9" font-size="21.5" text-anchor="end">2.5</text>
<text x="1258.3" y="840.5" font-size="21.5" text-anchor="end">0.0</text>
<clipPath id="c18"><rect x="1340.3" y="662.4" width="252.9" height="178.2"/></clipPath>
<rect x="1417.3" y="662.4" width="129.1" height="178.2" fill="#e9eaeb"/>
<g clip-path="url(#c18)" fill="none" stroke-linecap="round">
<path d="M1334.3 837.2V806.4L1340.3 806.4L1342.9 805.4L1345.5 803.5L1348.1 803.4L1350.7 804.4L1353.3 806.0L1355.9 806.9L1358.5 807.8L1361.1 808.9L1363.7 810.0L1366.3 808.4L1368.9 807.1L1371.5 804.9L1374.1 806.9L1376.7 806.6L1379.3 807.5L1381.9 805.8L1384.5 806.2L1387.1 805.5L1389.7 805.2L1392.3 804.0L1394.9 806.5L1397.5 808.3L1400.1 808.2L1402.7 804.4L1405.3 803.0L1407.9 804.5L1410.5 805.6L1413.1 805.9L1415.7 805.5L1418.3 805.4L1420.9 805.5L1423.5 807.1L1426.1 808.9L1428.7 809.1L1431.3 809.0L1433.9 808.7L1436.5 810.3L1439.1 809.8L1441.7 810.8L1444.3 809.6L1446.9 810.3L1449.5 810.8L1452.1 811.1L1454.7 810.5L1457.3 809.1L1459.9 810.3L1462.5 810.5L1465.1 809.3L1467.7 807.4L1470.3 807.5L1472.9 807.3L1475.5 807.1L1478.1 806.2L1480.7 807.6L1483.3 808.0L1485.9 807.6L1488.5 809.1L1491.1 809.3L1493.7 810.8L1496.3 808.5L1498.9 808.1L1501.5 807.1L1504.1 807.1L1506.7 805.8L1509.3 804.3L1511.9 805.7L1514.5 805.6L1517.1 807.0L1519.7 807.4L1522.3 807.6L1524.9 808.0L1527.5 806.9L1530.1 807.0L1532.7 806.2L1535.3 805.3L1537.9 804.7L1540.5 804.0L1543.1 806.3L1545.7 807.6L1548.3 809.0L1550.9 807.9L1553.5 808.6L1556.1 807.4L1558.7 806.3L1561.3 805.4L1563.9 804.7L1566.5 804.7L1569.1 804.7L1571.7 804.7L1574.3 804.4L1576.9 804.0L1579.5 803.9L1582.1 803.7L1584.7 803.7L1587.3 804.6L1589.9 805.6L1592.5 806.5L1595.1 804.7H1600.3V837.2z" fill="#283e6e" stroke="none"/>
<path d="M1340.2 793.7h0M1339.4 804.4h0M1341.6 800.4h0M1343.5 792.2h0M1342.9 797.4h0M1343.5 798.2h0M1344.6 789.5h0M1344.8 803.5h0M1344.9 804.2h0M1347.5 789.3h0M1346.8 798.4h0M1348.7 791h0M1351.2 786.5h0M1351.3 804.3h0M1351 805.3h0M1353.4 793.1h0M1354.4 796.7h0M1352.1 793.3h0M1355.1 794.3h0M1355.1 798.6h0M1354.8 806.5h0M1357.9 791.1h0M1359.3 803h0M1358 800.2h0M1361.7 797.2h0M1361.5 807.4h0M1361.3 797.7h0M1362.8 798.9h0M1364.9 808.7h0M1366.5 793.1h0M1366.6 806.4h0M1365.6 807.3h0M1369.3 794.7h0M1367.7 799.7h0M1369.6 799.5h0M1370.7 791.5h0M1372.7 805.9h0M1370.2 805.2h0M1375.1 785.9h0M1375.2 798.4h0M1373 797.6h0M1377 794h0M1377.4 799.2h0M1375.7 799.2h0M1380.2 795.2h0M1378.5 800.9h0M1380.5 804.1h0M1381.1 792.8h0M1382.3 796.1h0M1381.8 803h0M1384.9 793.4h0M1384.6 804.3h0M1384.9 794.8h0M1386.4 792.3h0M1385.9 800.8h0M1387 796.4h0M1389.3 792h0M1389.6 797.3h0M1388.9 801.3h0M1391.8 786.7h0M1392.7 795h0M1391.1 803.3h0M1395.3 793.7h0M1394.8 805.2h0M1395.7 806.5h0M1397.4 796.3h0M1397.5 796.5h0M1398 806.7h0M1400.3 796.3h0M1400.2 797.5h0M1400.5 806.4h0M1402.7 781.9h0M1402.2 805.4h0M1403.6 797.6h0M1405 788.9h0M1405.3 791h0M1406.3 796.8h0M1408 790.9h0M1407.5 805.5h0M1407.7 795.6h0M1410.2 784.4h0M1410.1 797.1h0M1410.7 802.8h0M1413.9 792.9h0M1412.7 799.9h0M1413.8 800.4h0M1414.7 792.3h0M1416.7 800.4h0M1414.8 801.2h0M1418.9 786h0M1418 796.3h0M1417.8 806.1h0M1420.9 792.4h0M1420.1 802.2h0M1420 801.5h0M1422.8 794.6h0M1424.6 806.8h0M1423.1 807.9h0M1425.3 797.3h0M1427.1 806.4h0M1425.7 800.9h0M1428.3 797.5h0M1428.2 800.1h0M1429.9 801.2h0M1431.6 797.4h0M1431.4 800.3h0M1430.7 798.5h0M1433.6 797h0M1435.1 807h0M1433.5 809.2h0M1436 799.2h0M1437.5 804h0M1438.5 798.4h0M1438 803.2h0M1442.5 799.9h0M1442.8 801.3h0M1444.9 798.2h0M1444.8 798.8h0M1447.4 799.3h0M1446.7 806.1h0M1450.1 799.9h0M1448.3 804.6h0M1451.2 800.4h0M1452.7 806.6h0M1454.1 799.5h0M1455 807.7h0M1457.6 794.1h0M1457.5 799h0M1457.3 809.5h0M1460 799.2h0M1459.3 808.9h0M1462.2 799.5h0M1463.8 807.1h0M1464.8 797.8h0M1464.2 807.9h0M1468.6 795h0M1468 801.5h0M1466.6 807.5h0M1469.4 795.2h0M1470.8 799.9h0M1470 797.7h0M1472 794.9h0M1474 803.9h0M1473.1 806.3h0M1475 794.7h0M1474.5 805.3h0M1476.5 797.5h0M1478.9 793.4h0M1477.1 807.1h0M1477.2 804.4h0M1480.9 795.3h0M1482 805.3h0M1480 808.4h0M1482.4 796h0M1483.7 806.2h0M1483.4 796.3h0M1485.9 795.4h0M1485.1 802.3h0M1486.9 800.7h0M1487.7 797.6h0M1489.7 804.1h0M1488.1 801.8h0M1491.7 797.8h0M1492.3 807.6h0M1493.9 799.9h0M1494 810.5h0M1495.3 796.7h0M1496.2 809h0M1495.3 804.8h0M1499.2 796.1h0M1499.6 806.7h0M1498.5 802.7h0M1500.8 794.6h0M1502 807.7h0M1501.1 802.4h0M1504.4 794.7h0M1504.5 807.1h0M1505.2 806.9h0M1506.9 792.8h0M1505.6 799.3h0M1507.8 805.7h0M1510 790.7h0M1510.4 793.3h0M1508.5 801.9h0M1511.6 792.6h0M1511.6 805.6h0M1511.9 797.4h0M1514 784.4h0M1513.4 794.5h0M1513.9 806.6h0M1518 794.6h0M1517.8 801.9h0M1516.6 807.7h0M1519.1 795.1h0M1518.5 808h0M1518.9 806.8h0M1521.3 795.3h0M1523.2 801.8h0M1521.7 800.6h0M1525.6 796h0M1525.1 806.1h0M1524.4 805.2h0M1528.2 794.4h0M1526.4 797.9h0M1528.3 799.5h0M1529.4 794.4h0M1529.8 796.2h0M1530.5 802.7h0M1531.8 793.4h0M1533 794.1h0M1531.5 806.4h0M1534.4 792h0M1535.2 792.4h0M1535.7 796.9h0M1537.7 791.3h0M1537.8 793.3h0M1537.8 802.2h0M1540.1 790.3h0M1541.4 795.8h0M1540.6 804.1h0M1543.3 793.5h0M1543.7 798h0M1542 802h0M1545.2 795.4h0M1546.7 807.7h0M1545.5 797.4h0M1548 797.4h0M1548.3 800.8h0M1549.3 798.5h0M1551.3 795.8h0M1551 802.8h0M1549.7 807.7h0M1553.4 796.8h0M1554.5 803.9h0M1552.7 801.7h0M1557 795.1h0M1555.3 807.3h0M1557.1 804.3h0M1559.4 793.5h0M1557.5 799.1h0M1559.3 806.4h0M1560.8 792.2h0M1561.6 801.4h0M1562.4 804.6h0M1563.2 791.2h0M1562.8 803.5h0M1563.8 801.6h0M1567 791.2h0M1565.5 802.1h0M1567.8 799.6h0M1569.1 784.8h0M1568.2 791.8h0M1568.7 791.5h0M1571.5 784.4h0M1572.8 793.4h0M1572.7 795h0M1574 790.8h0M1575.2 801.1h0M1574.1 804.8h0M1577.2 790.2h0M1576.5 790.9h0M1576.4 797.4h0M1579.1 790.1h0M1580.2 799.2h0M1579.1 803.2h0M1582.6 789.8h0M1583 790.7h0M1582.4 799.4h0M1584.5 789.9h0M1585.7 796.1h0M1585 799.8h0M1587 791.1h0M1586.5 805.5h0M1587.6 794.2h0M1589.3 792.5h0M1590.3 795.2h0M1589.2 797.7h0M1592.2 793.9h0M1591.7 794.8h0M1591.9 796.2h0M1594.2 791.2h0M1594.6 792.9h0M1595 792.9h0M1340.3 832.9h0M1343.5 832.6h0M1346.7 832.5h0M1349.9 832.8h0M1353.1 832.8h0M1356.3 832.8h0M1359.5 832.6h0M1362.7 833h0M1365.9 832.6h0M1369.1 833h0M1372.3 832.8h0M1375.5 832.6h0M1378.7 833.1h0M1381.9 832.9h0M1385.1 832.9h0M1388.3 833h0M1391.5 832.8h0M1394.7 832.9h0M1397.9 832.7h0M1401.1 832.7h0M1404.3 832.6h0M1407.5 832.9h0M1410.7 832.5h0M1413.9 832.6h0M1417.1 833.1h0M1420.3 833h0M1423.5 832.9h0M1426.7 832.7h0M1429.9 833.1h0M1433.1 832.8h0M1436.3 833h0M1439.5 832.7h0M1442.7 833.1h0M1445.9 832.6h0M1449.1 833h0M1452.3 832.5h0M1455.5 833h0M1458.7 832.9h0M1461.9 833h0M1465.1 832.6h0M1468.3 833.1h0M1471.5 832.7h0M1474.7 832.5h0M1477.9 832.7h0M1481.1 832.9h0M1484.3 832.9h0M1487.5 832.5h0M1490.7 832.9h0M1493.9 833h0M1497.1 832.8h0M1500.3 832.5h0M1503.5 832.9h0M1506.7 832.8h0M1509.9 832.7h0M1513.1 833h0M1516.3 833.1h0M1519.5 832.6h0M1522.7 832.6h0M1525.9 832.8h0M1529.1 833h0M1532.3 832.8h0M1535.5 832.5h0M1538.7 832.9h0M1541.9 833.1h0M1545.1 833h0M1548.3 833h0M1551.5 832.5h0M1554.7 832.6h0M1557.9 832.7h0M1561.1 832.9h0M1564.3 832.6h0M1567.5 832.7h0M1570.7 832.6h0M1573.9 832.6h0M1577.1 833h0M1580.3 833h0M1583.5 832.6h0M1586.7 832.6h0M1589.9 832.7h0M1593.1 832.8h0M1596.3 832.7h0M1350.8 765.9h0M1363.5 776.8h0M1382.5 773.2h0M1398.8 769.6h0M1376.2 783.2h0M1421.4 770.5h0M1356.2 780.4h0M1387 778.6h0M1401.5 775h0M1452.2 731.5h0M1454.1 738.8h0M1466.7 742.4h0M1470.4 748.7h0M1443.2 749.6h0M1428.7 758.7h0M1434.1 762.3h0M1435.9 769.6h0M1449.5 759.6h0M1454.1 764.1h0M1454.1 775h0M1470.4 765.9h0M1473.1 764.1h0M1481.2 757.4h0M1480.3 777.7h0M1443.2 780.4h0M1503 702.5h0M1508.4 704.3h0M1503.9 714.3h0M1522 717h0M1529.2 719.7h0M1516.6 734.2h0M1540.1 719.7h0M1541 730.6h0M1521.1 748.7h0M1524.7 749.6h0M1542.8 751.4h0M1553.7 758.7h0M1557.3 756.9h0M1571.8 747.8h0M1580.9 749.6h0M1585.4 742.4h0M1589.9 747.8h0M1580.9 758.7h0M1577.2 767.8h0M1586.3 755.1h0M1549.2 765h0M1544.6 773.2h0M1553.7 775h0M1524.7 769.6h0M1521.1 774.1h0M1528.3 776.8h0M1526.5 784.1h0M1501.2 784.1h0M1488.5 784.1h0M1535.6 780.4h0M1551.9 784.1h0M1562.8 784.1h0M1582.7 784.1h0M1493.9 789.5h0M1591.7 751.4h0M1555.3 748.4h0M1545.6 747h0M1571.1 744.1h0M1546.1 747.3h0M1552.7 744.6h0M1538.7 747.4h0M1544.2 746.8h0M1554.6 747.6h0M1538.8 747.2h0M1542.9 747.9h0M1543.6 746.5h0M1555.2 744.2h0M1555.2 746.3h0M1572 746.4h0M1546.2 753.9h0M1540.6 755.9h0M1575.2 757.7h0M1538.5 750.2h0M1558.6 758.9h0M1538.5 754.7h0M1557.8 757.2h0" stroke="#283e6e" stroke-width="8.9"/>
<path d="M1450.4 679h0M1454.1 693.5h0M1455 707.1h0M1474.9 706.2h0M1477.6 709.8h0M1474 715.2h0M1479.4 717.9h0M1470.4 719.7h0M1469.5 733.3h0M1439.6 724.3h0M1428.7 749.6h0M1432.3 754.2h0M1437.8 755.1h0M1443.2 754.2h0M1449.5 758.7h0M1470.4 757.8h0M1469.5 775.9h0M1468.6 780.4h0M1485.8 773.2h0M1416 774.1h0M1408.8 781.3h0M1427.8 785.9h0M1393.4 789.5h0M1441.4 798.6h0M1389.7 814.9h0M1406.1 813.9h0M1410.6 812.1h0M1418.7 814.9h0M1424.2 821.2h0M1491.2 712.5h0M1495.7 709.8h0M1502.1 709.8h0M1512 711.6h0M1530.1 722.5h0M1531.1 731.5h0M1523.8 740.6h0M1531.1 745.1h0M1502.1 745.1h0M1522.9 789.5h0M1539.2 798.6h0M1547.4 784.1h0M1550.1 811.2h0M1573.6 808.5h0M1556.4 824.8h0M1570 818.5h0M1571.8 824.8h0M1577.2 820.3h0M1589.9 820.3h0M1522 693.5h0M1564.6 820.3h0" stroke="#2fbcd4" stroke-width="8.5"/>
<path d="M1443.2 687.7h0M1435 697.1h0M1437.8 698.9h0M1430.5 702.5h0M1428.7 712.5h0M1440.5 717h0M1430.5 731.5h0M1430.5 738.8h0M1437.8 739.7h0M1454.1 695.3h0M1457.7 698h0M1463.1 692.6h0M1461.3 700.7h0M1468.6 709.8h0M1473.1 727.9h0M1478.5 685.3h0M1489.4 693.1h0M1484.9 712.5h0M1494.8 700.7h0M1501.2 693.5h0M1506.6 694.4h0M1510.2 693.5h0M1512.9 698h0M1517.5 699.8h0M1521.1 706.2h0M1523.8 698h0M1530.1 698.9h0M1533.8 704.3h0M1527.4 706.2h0M1503 707.1h0M1533.8 760.5h0M1539.2 762.3h0M1537.4 765.9h0M1540.1 780.4h0M1544.6 785.9h0M1547.4 789.5h0M1549.2 798.6h0M1554.6 804h0M1557.3 805.8h0M1550.1 807.6h0M1557.3 819.4h0M1561.8 820.3h0M1583.6 819.4h0M1432.3 699.8h0M1499.3 698h0M1515.7 702.5h0" stroke="#63bb7a" stroke-width="8.5"/>
<path d="M1445 697.5h0M1458.6 696.2h0M1468.6 698h0M1470.4 702.5h0M1518.4 690.8h0M1532.9 713.4h0M1522 727.9h0M1471.3 740h0" stroke="#f5a328" stroke-width="8.5"/>
<path d="M1514.7 670.3h0M1527.4 677.7h0M1523.8 687.1h0M1474 677.2h0" stroke="#e31f2b" stroke-width="8.5"/>
</g>
<line x1="1340.3" y1="726.6" x2="1593.2" y2="726.6" stroke="#111" stroke-width="1.9" stroke-dasharray="3 3"/>
<line x1="1481.8" y1="662.4" x2="1481.8" y2="840.6" stroke="#e8202a" stroke-width="1.8" stroke-dasharray="3 3"/>
<line x1="1440" y1="677.5" x2="1466.5" y2="677.5" stroke="#e8202a" stroke-width="1.5"/>
<path clip-path="url(#c18)" d="M1481.8 663.9l10.2 10.2l-10.2 10.2l-10.2 -10.2z" fill="#5d58a6" stroke="#111" stroke-width="1.1"/>
<text x="1344.5" y="722.8" font-size="21" letter-spacing="-0.3" fill="#111">5 x 10<tspan font-size="13" dy="-8.5">-8</tspan></text>
<text x="1345.4" y="685.3" font-size="21" fill="#e8202a">rs138349</text>
<rect x="1340.3" y="662.4" width="252.9" height="178.2" fill="none" stroke="#000" stroke-width="1.4"/>
<path d="M1339.6 840.8H1593V661.7" fill="none" stroke="#000" stroke-width="2.2"/>
<clipPath id="c19"><rect x="1601.4" y="662.4" width="253.6" height="178.2"/></clipPath>
<rect x="1678.4" y="662.4" width="129.3" height="178.2" fill="#e9eaeb"/>
<g clip-path="url(#c19)" fill="none" stroke-linecap="round">
<path d="M1595.7 837.2V806.4L1601.7 806.4L1604.3 805.4L1606.9 803.5L1609.5 803.4L1612.1 804.4L1614.7 806.0L1617.3 806.9L1619.9 807.8L1622.5 808.9L1625.1 810.0L1627.7 808.4L1630.3 807.1L1632.9 804.9L1635.5 806.9L1638.1 806.6L1640.7 807.5L1643.3 805.8L1645.9 806.2L1648.5 805.5L1651.1 805.2L1653.7 804.0L1656.3 806.5L1658.9 808.3L1661.5 808.2L1664.1 804.4L1666.7 803.0L1669.3 804.5L1671.9 805.6L1674.5 805.9L1677.1 805.5L1679.7 805.4L1682.3 805.5L1684.9 807.1L1687.5 808.9L1690.1 809.1L1692.7 809.0L1695.3 808.7L1697.9 810.3L1700.5 809.8L1703.1 810.8L1705.7 809.6L1708.3 810.3L1710.9 810.8L1713.5 811.1L1716.1 810.5L1718.7 809.1L1721.3 810.3L1723.9 810.5L1726.5 809.3L1729.1 807.4L1731.7 807.5L1734.3 807.3L1736.9 807.1L1739.5 806.2L1742.1 807.6L1744.7 808.0L1747.3 807.6L1749.9 809.1L1752.5 809.3L1755.1 810.8L1757.7 808.5L1760.3 808.1L1762.9 807.1L1765.5 807.1L1768.1 805.8L1770.7 804.3L1773.3 805.7L1775.9 805.6L1778.5 807.0L1781.1 807.4L1783.7 807.6L1786.3 808.0L1788.9 806.9L1791.5 807.0L1794.1 806.2L1796.7 805.3L1799.3 804.7L1801.9 804.0L1804.5 806.3L1807.1 807.6L1809.7 809.0L1812.3 807.9L1814.9 808.6L1817.5 807.4L1820.1 806.3L1822.7 805.4L1825.3 804.7L1827.9 804.7L1830.5 804.7L1833.1 804.7L1835.7 804.4L1838.3 804.0L1840.9 803.9L1843.5 803.7L1846.1 803.7L1848.7 804.6L1851.3 805.6L1853.9 806.5L1856.5 804.7H1861.7V837.2z" fill="#283e6e" stroke="none"/>
<path d="M1601.6 793.7h0M1600.8 804.4h0M1603 800.4h0M1604.9 792.2h0M1604.3 797.4h0M1604.9 798.2h0M1606 789.5h0M1606.2 803.5h0M1606.3 804.2h0M1608.9 789.3h0M1608.2 798.4h0M1610.1 791h0M1612.6 786.5h0M1612.7 804.3h0M1612.4 805.3h0M1614.8 793.1h0M1615.8 796.7h0M1613.5 793.3h0M1616.5 794.3h0M1616.5 798.6h0M1616.2 806.5h0M1619.3 791.1h0M1620.7 803h0M1619.4 800.2h0M1623.1 797.2h0M1622.9 807.4h0M1622.7 797.7h0M1624.2 798.9h0M1626.3 808.7h0M1627.9 793.1h0M1628 806.4h0M1627 807.3h0M1630.7 794.7h0M1629.1 799.7h0M1631 799.5h0M1632.1 791.5h0M1634.1 805.9h0M1631.6 805.2h0M1636.5 785.9h0M1636.6 798.4h0M1634.4 797.6h0M1638.4 794h0M1638.8 799.2h0M1637.1 799.2h0M1641.6 795.2h0M1639.9 800.9h0M1641.9 804.1h0M1642.5 792.8h0M1643.7 796.1h0M1643.2 803h0M1646.3 793.4h0M1646 804.3h0M1646.3 794.8h0M1647.8 792.3h0M1647.3 800.8h0M1648.4 796.4h0M1650.7 792h0M1651 797.3h0M1650.3 801.3h0M1653.2 786.7h0M1654.1 795h0M1652.5 803.3h0M1656.7 793.7h0M1656.2 805.2h0M1657.1 806.5h0M1658.8 796.3h0M1658.9 796.5h0M1659.4 806.7h0M1661.7 796.3h0M1661.6 797.5h0M1661.9 806.4h0M1664.1 781.9h0M1663.6 805.4h0M1665 797.6h0M1666.4 788.9h0M1666.7 791h0M1667.7 796.8h0M1669.4 790.9h0M1668.9 805.5h0M1669.1 795.6h0M1671.6 784.4h0M1671.5 797.1h0M1672.1 802.8h0M1675.3 792.9h0M1674.1 799.9h0M1675.2 800.4h0M1676.1 792.3h0M1678.1 800.4h0M1676.2 801.2h0M1680.3 786h0M1679.4 796.3h0M1679.2 806.1h0M1682.3 792.4h0M1681.5 802.2h0M1681.4 801.5h0M1684.2 794.6h0M1686 806.8h0M1684.5 807.9h0M1686.7 797.3h0M1688.5 806.4h0M1687.1 800.9h0M1689.7 797.5h0M1689.6 800.1h0M1691.3 801.2h0M1693 797.4h0M1692.8 800.3h0M1692.1 798.5h0M1695 797h0M1696.5 807h0M1694.9 809.2h0M1697.4 799.2h0M1698.9 804h0M1699.9 798.4h0M1699.4 803.2h0M1703.9 799.9h0M1704.2 801.3h0M1706.3 798.2h0M1706.2 798.8h0M1708.8 799.3h0M1708.1 806.1h0M1711.5 799.9h0M1709.7 804.6h0M1712.6 800.4h0M1714.1 806.6h0M1715.5 799.5h0M1716.4 807.7h0M1719 794.1h0M1718.9 799h0M1718.7 809.5h0M1721.4 799.2h0M1720.7 808.9h0M1723.6 799.5h0M1725.2 807.1h0M1726.2 797.8h0M1725.6 807.9h0M1730 795h0M1729.4 801.5h0M1728 807.5h0M1730.8 795.2h0M1732.2 799.9h0M1731.4 797.7h0M1733.4 794.9h0M1735.4 803.9h0M1734.5 806.3h0M1736.4 794.7h0M1735.9 805.3h0M1737.9 797.5h0M1740.3 793.4h0M1738.5 807.1h0M1738.6 804.4h0M1742.3 795.3h0M1743.4 805.3h0M1741.4 808.4h0M1743.8 796h0M1745.1 806.2h0M1744.8 796.3h0M1747.3 795.4h0M1746.5 802.3h0M1748.3 800.7h0M1749.1 797.6h0M1751.1 804.1h0M1749.5 801.8h0M1753.1 797.8h0M1753.7 807.6h0M1755.3 799.9h0M1755.4 810.5h0M1756.7 796.7h0M1757.6 809h0M1756.7 804.8h0M1760.6 796.1h0M1761 806.7h0M1759.9 802.7h0M1762.2 794.6h0M1763.4 807.7h0M1762.5 802.4h0M1765.8 794.7h0M1765.9 807.1h0M1766.6 806.9h0M1768.3 792.8h0M1767 799.3h0M1769.2 805.7h0M1771.4 790.7h0M1771.8 793.3h0M1769.9 801.9h0M1773 792.6h0M1773 805.6h0M1773.3 797.4h0M1775.4 784.4h0M1774.8 794.5h0M1775.3 806.6h0M1779.4 794.6h0M1779.2 801.9h0M1778 807.7h0M1780.5 795.1h0M1779.9 808h0M1780.3 806.8h0M1782.7 795.3h0M1784.6 801.8h0M1783.1 800.6h0M1787 796h0M1786.5 806.1h0M1785.8 805.2h0M1789.6 794.4h0M1787.8 797.9h0M1789.7 799.5h0M1790.8 794.4h0M1791.2 796.2h0M1791.9 802.7h0M1793.2 793.4h0M1794.4 794.1h0M1792.9 806.4h0M1795.8 792h0M1796.6 792.4h0M1797.1 796.9h0M1799.1 791.3h0M1799.2 793.3h0M1799.2 802.2h0M1801.5 790.3h0M1802.8 795.8h0M1802 804.1h0M1804.7 793.5h0M1805.1 798h0M1803.4 802h0M1806.6 795.4h0M1808.1 807.7h0M1806.9 797.4h0M1809.4 797.4h0M1809.7 800.8h0M1810.7 798.5h0M1812.7 795.8h0M1812.4 802.8h0M1811.1 807.7h0M1814.8 796.8h0M1815.9 803.9h0M1814.1 801.7h0M1818.4 795.1h0M1816.7 807.3h0M1818.5 804.3h0M1820.8 793.5h0M1818.9 799.1h0M1820.7 806.4h0M1822.2 792.2h0M1823 801.4h0M1823.8 804.6h0M1824.6 791.2h0M1824.2 803.5h0M1825.2 801.6h0M1828.4 791.2h0M1826.9 802.1h0M1829.2 799.6h0M1830.5 784.8h0M1829.6 791.8h0M1830.1 791.5h0M1832.9 784.4h0M1834.2 793.4h0M1834.1 795h0M1835.4 790.8h0M1836.6 801.1h0M1835.5 804.8h0M1838.6 790.2h0M1837.9 790.9h0M1837.8 797.4h0M1840.5 790.1h0M1841.6 799.2h0M1840.5 803.2h0M1844 789.8h0M1844.4 790.7h0M1843.8 799.4h0M1845.9 789.9h0M1847.1 796.1h0M1846.4 799.8h0M1848.4 791.1h0M1847.9 805.5h0M1849 794.2h0M1850.7 792.5h0M1851.7 795.2h0M1850.6 797.7h0M1853.6 793.9h0M1853.1 794.8h0M1853.3 796.2h0M1855.6 791.2h0M1856 792.9h0M1856.4 792.9h0M1601.7 832.9h0M1604.9 832.6h0M1608.1 832.5h0M1611.3 832.8h0M1614.5 832.8h0M1617.7 832.8h0M1620.9 832.6h0M1624.1 833h0M1627.3 832.6h0M1630.5 833h0M1633.7 832.8h0M1636.9 832.6h0M1640.1 833.1h0M1643.3 832.9h0M1646.5 832.9h0M1649.7 833h0M1652.9 832.8h0M1656.1 832.9h0M1659.3 832.7h0M1662.5 832.7h0M1665.7 832.6h0M1668.9 832.9h0M1672.1 832.5h0M1675.3 832.6h0M1678.5 833.1h0M1681.7 833h0M1684.9 832.9h0M1688.1 832.7h0M1691.3 833.1h0M1694.5 832.8h0M1697.7 833h0M1700.9 832.7h0M1704.1 833.1h0M1707.3 832.6h0M1710.5 833h0M1713.7 832.5h0M1716.9 833h0M1720.1 832.9h0M1723.3 833h0M1726.5 832.6h0M1729.7 833.1h0M1732.9 832.7h0M1736.1 832.5h0M1739.3 832.7h0M1742.5 832.9h0M1745.7 832.9h0M1748.9 832.5h0M1752.1 832.9h0M1755.3 833h0M1758.5 832.8h0M1761.7 832.5h0M1764.9 832.9h0M1768.1 832.8h0M1771.3 832.7h0M1774.5 833h0M1777.7 833.1h0M1780.9 832.6h0M1784.1 832.6h0M1787.3 832.8h0M1790.5 833h0M1793.7 832.8h0M1796.9 832.5h0M1800.1 832.9h0M1803.3 833.1h0M1806.5 833h0M1809.7 833h0M1812.9 832.5h0M1816.1 832.6h0M1819.3 832.7h0M1822.5 832.9h0M1825.7 832.6h0M1828.9 832.7h0M1832.1 832.6h0M1835.3 832.6h0M1838.5 833h0M1841.7 833h0M1844.9 832.6h0M1848.1 832.6h0M1851.3 832.7h0M1854.5 832.8h0M1857.7 832.7h0M1612.2 765.9h0M1624.9 776.8h0M1643.9 773.2h0M1660.2 769.6h0M1637.6 783.2h0M1682.8 770.5h0M1617.6 780.4h0M1648.4 778.6h0M1662.9 775h0M1713.6 731.5h0M1715.5 738.8h0M1728.1 742.4h0M1731.8 748.7h0M1704.6 749.6h0M1690.1 758.7h0M1695.5 762.3h0M1697.3 769.6h0M1710.9 759.6h0M1715.5 764.1h0M1715.5 775h0M1731.8 765.9h0M1734.5 764.1h0M1742.6 757.4h0M1741.7 777.7h0M1704.6 780.4h0M1764.4 702.5h0M1769.8 704.3h0M1765.3 714.3h0M1783.4 717h0M1790.6 719.7h0M1778 734.2h0M1801.5 719.7h0M1802.4 730.6h0M1782.5 748.7h0M1786.1 749.6h0M1804.2 751.4h0M1815.1 758.7h0M1818.7 756.9h0M1833.2 747.8h0M1842.3 749.6h0M1846.8 742.4h0M1851.3 747.8h0M1842.3 758.7h0M1838.6 767.8h0M1847.7 755.1h0M1810.6 765h0M1806 773.2h0M1815.1 775h0M1786.1 769.6h0M1782.5 774.1h0M1789.7 776.8h0M1787.9 784.1h0M1762.6 784.1h0M1749.9 784.1h0M1797 780.4h0M1813.3 784.1h0M1824.2 784.1h0M1844.1 784.1h0M1755.3 789.5h0M1853.1 751.4h0M1816.7 748.4h0M1807 747h0M1832.5 744.1h0M1807.5 747.3h0M1814.1 744.6h0M1800.1 747.4h0M1805.6 746.8h0M1816 747.6h0M1800.2 747.2h0M1804.3 747.9h0M1805 746.5h0M1816.6 744.2h0M1816.6 746.3h0M1833.4 746.4h0M1807.6 753.9h0M1802 755.9h0M1836.6 757.7h0M1799.9 750.2h0M1820 758.9h0M1799.9 754.7h0M1819.2 757.2h0" stroke="#283e6e" stroke-width="8.9"/>
<path d="M1711.8 679h0M1715.5 693.5h0M1716.4 707.1h0M1736.3 706.2h0M1739 709.8h0M1735.4 715.2h0M1740.8 717.9h0M1731.8 719.7h0M1730.9 733.3h0M1701 724.3h0M1690.1 749.6h0M1693.7 754.2h0M1699.2 755.1h0M1704.6 754.2h0M1710.9 758.7h0M1731.8 757.8h0M1730.9 775.9h0M1730 780.4h0M1747.2 773.2h0M1677.4 774.1h0M1670.2 781.3h0M1689.2 785.9h0M1654.8 789.5h0M1702.8 798.6h0M1651.1 814.9h0M1667.5 813.9h0M1672 812.1h0M1680.1 814.9h0M1685.6 821.2h0M1752.6 712.5h0M1757.1 709.8h0M1763.5 709.8h0M1773.4 711.6h0M1791.5 722.5h0M1792.5 731.5h0M1785.2 740.6h0M1792.5 745.1h0M1763.5 745.1h0M1784.3 789.5h0M1800.6 798.6h0M1808.8 784.1h0M1811.5 811.2h0M1835 808.5h0M1817.8 824.8h0M1831.4 818.5h0M1833.2 824.8h0M1838.6 820.3h0M1851.3 820.3h0M1783.4 693.5h0M1826 820.3h0" stroke="#2fbcd4" stroke-width="8.5"/>
<path d="M1704.6 687.7h0M1696.4 697.1h0M1699.2 698.9h0M1691.9 702.5h0M1690.1 712.5h0M1701.9 717h0M1691.9 731.5h0M1691.9 738.8h0M1699.2 739.7h0M1715.5 695.3h0M1719.1 698h0M1724.5 692.6h0M1722.7 700.7h0M1730 709.8h0M1734.5 727.9h0M1739.9 685.3h0M1750.8 693.1h0M1746.3 712.5h0M1756.2 700.7h0M1762.6 693.5h0M1768 694.4h0M1771.6 693.5h0M1774.3 698h0M1778.9 699.8h0M1782.5 706.2h0M1785.2 698h0M1791.5 698.9h0M1795.2 704.3h0M1788.8 706.2h0M1764.4 707.1h0M1795.2 760.5h0M1800.6 762.3h0M1798.8 765.9h0M1801.5 780.4h0M1806 785.9h0M1808.8 789.5h0M1810.6 798.6h0M1816 804h0M1818.7 805.8h0M1811.5 807.6h0M1818.7 819.4h0M1823.2 820.3h0M1845 819.4h0M1693.7 699.8h0M1760.7 698h0M1777.1 702.5h0" stroke="#63bb7a" stroke-width="8.5"/>
<path d="M1706.4 697.5h0M1720 696.2h0M1730 698h0M1731.8 702.5h0M1779.8 690.8h0M1794.3 713.4h0M1783.4 727.9h0M1732.7 740h0" stroke="#f5a328" stroke-width="8.5"/>
<path d="M1776.1 670.3h0M1788.8 677.7h0M1785.2 687.1h0M1735.4 677.2h0" stroke="#e31f2b" stroke-width="8.5"/>
</g>
<line x1="1601.4" y1="726.6" x2="1855" y2="726.6" stroke="#111" stroke-width="1.9" stroke-dasharray="3 3"/>
<line x1="1743.4" y1="662.4" x2="1743.4" y2="840.6" stroke="#e8202a" stroke-width="1.8" stroke-dasharray="3 3"/>
<line x1="1704" y1="677.5" x2="1724.5" y2="677.5" stroke="#e8202a" stroke-width="1.5"/>
<path clip-path="url(#c19)" d="M1743.4 663.9l10.2 10.2l-10.2 10.2l-10.2 -10.2z" fill="#5d58a6" stroke="#111" stroke-width="1.1"/>
<text x="1606.8" y="722.8" font-size="21" letter-spacing="-0.3" fill="#111">5 x 10<tspan font-size="13" dy="-8.5">-8</tspan></text>
<text x="1611" y="685.3" font-size="21" fill="#e8202a">rs138349</text>
<rect x="1601.4" y="662.4" width="253.6" height="178.2" fill="none" stroke="#000" stroke-width="1.4"/>
<path d="M1600.7 840.8H1854.8V661.7" fill="none" stroke="#000" stroke-width="2.2"/>
<rect x="1280.3" y="849.2" width="60" height="180.9" fill="#d1d2d4"/>
<text x="1305.9" y="939.3" font-size="25.32" letter-spacing="-0.72" text-anchor="middle" transform="rotate(-90 1305.9 939.3)">LDL direct</text>
<text x="1331.2" y="939.3" font-size="25.32" letter-spacing="-0.72" text-anchor="middle" transform="rotate(-90 1331.2 939.3)">-log10(p-value)</text>
<path d="M1261.7 848.2h18.6M1261.7 891.3h18.6M1261.7 934.4h18.6M1261.7 977.4h18.6M1261.7 1020.5h18.6" stroke="#303030" stroke-width="2.9" fill="none"/>
<text x="1258.3" y="855.9" font-size="21.5" text-anchor="end">10.0</text>
<text x="1258.3" y="899" font-size="21.5" text-anchor="end">7.5</text>
<text x="1258.3" y="942.1" font-size="21.5" text-anchor="end">5.0</text>
<text x="1258.3" y="985.1" font-size="21.5" text-anchor="end">2.5</text>
<text x="1258.3" y="1028.2" font-size="21.5" text-anchor="end">0.0</text>
<clipPath id="c20"><rect x="1340.3" y="849.9" width="252.9" height="178.9"/></clipPath>
<rect x="1417.3" y="849.9" width="129.1" height="178.9" fill="#e9eaeb"/>
<g clip-path="url(#c20)" fill="none" stroke-linecap="round">
<path d="M1334.3 1025.0V995.8L1340.3 995.8L1342.9 995.2L1345.5 992.8L1348.1 992.8L1350.7 993.0L1353.3 993.8L1355.9 994.2L1358.5 994.3L1361.1 994.2L1363.7 994.9L1366.3 992.8L1368.9 992.9L1371.5 992.7L1374.1 994.5L1376.7 994.6L1379.3 995.5L1381.9 995.4L1384.5 997.4L1387.1 996.1L1389.7 996.0L1392.3 993.7L1394.9 994.0L1397.5 994.1L1400.1 994.1L1402.7 994.6L1405.3 993.6L1407.9 995.0L1410.5 995.4L1413.1 995.7L1415.7 995.0L1418.3 994.5L1420.9 993.9L1423.5 993.1L1426.1 993.4L1428.7 995.5L1431.3 997.3L1433.9 997.2L1436.5 997.7L1439.1 997.5L1441.7 997.4L1444.3 996.5L1446.9 996.9L1449.5 996.7L1452.1 997.4L1454.7 998.0L1457.3 998.3L1459.9 997.7L1462.5 995.9L1465.1 994.9L1467.7 995.1L1470.3 996.5L1472.9 995.7L1475.5 994.6L1478.1 993.0L1480.7 995.0L1483.3 995.4L1485.9 995.3L1488.5 993.1L1491.1 993.3L1493.7 993.9L1496.3 995.2L1498.9 994.6L1501.5 994.8L1504.1 994.2L1506.7 994.4L1509.3 993.1L1511.9 993.7L1514.5 994.2L1517.1 996.1L1519.7 995.6L1522.3 996.4L1524.9 996.4L1527.5 996.2L1530.1 993.3L1532.7 994.0L1535.3 994.8L1537.9 996.1L1540.5 994.5L1543.1 992.4L1545.7 991.7L1548.3 991.8L1550.9 991.9L1553.5 991.4L1556.1 990.3L1558.7 991.9L1561.3 992.1L1563.9 990.9L1566.5 989.9L1569.1 989.4L1571.7 992.1L1574.3 992.4L1576.9 993.4L1579.5 991.5L1582.1 989.5L1584.7 989.3L1587.3 989.0L1589.9 989.7L1592.5 989.7L1595.1 989.8H1600.3V1025.0z" fill="#283e6e" stroke="none"/>
<path d="M1341 983.8h0M1340.3 996.5h0M1340.2 993.8h0M1342.8 982.9h0M1342.1 993.3h0M1342 986h0M1346.5 979.6h0M1346.5 985h0M1345.8 992.9h0M1347.3 979.5h0M1347.6 989h0M1347.8 992.8h0M1350 971.3h0M1351.2 987.6h0M1351.8 994h0M1353.5 980.9h0M1354.2 988.8h0M1352.6 987.6h0M1355.3 981.5h0M1356 988.7h0M1355.6 985.5h0M1357.9 981.6h0M1357.6 986.7h0M1358.6 991.8h0M1361.9 981.5h0M1361 982.1h0M1361.3 994.7h0M1364.2 982.5h0M1364.5 995.6h0M1364.6 994.9h0M1366.4 979.6h0M1366.7 988.9h0M1366.7 992.8h0M1369.8 979.6h0M1369.5 984.9h0M1368.6 980.3h0M1372.5 979.3h0M1371.1 993.3h0M1372.7 983.9h0M1373.5 981.9h0M1373.4 985.3h0M1374.4 989.5h0M1376.1 982h0M1376.2 992h0M1375.8 992.7h0M1378.8 983.3h0M1380.2 994h0M1379.2 995.6h0M1382.6 979.9h0M1383 986.8h0M1382.6 995.5h0M1385.1 986h0M1384.3 992.3h0M1386.6 984.2h0M1388 991.2h0M1387.8 989.7h0M1388.9 984.1h0M1390.9 987.7h0M1389.3 991.1h0M1391.5 980.8h0M1392.9 985h0M1392.4 994.6h0M1395.4 981.3h0M1393.8 990.5h0M1394.3 994.9h0M1397.7 977.3h0M1396.7 983.3h0M1397.5 988.6h0M1401 981.4h0M1400.3 991.3h0M1399.2 989.6h0M1403.6 982.1h0M1401.9 986.4h0M1401.9 992.3h0M1405.2 980.6h0M1405.1 993.5h0M1405 980.9h0M1408.9 982.6h0M1407.5 992.1h0M1407 991.4h0M1410.9 979.3h0M1411.2 986.7h0M1409.9 995.2h0M1413.5 983.7h0M1413.7 992.8h0M1412 994.2h0M1416.4 982.6h0M1415.5 990.6h0M1415.8 984.1h0M1417.3 981.9h0M1417.7 987.7h0M1419.4 986.7h0M1421.5 974h0M1419.9 989.5h0M1421.4 989.3h0M1423.6 980h0M1423 990.9h0M1424.1 991.9h0M1426.4 973.8h0M1425.9 989.5h0M1426.1 984.3h0M1429.6 976.1h0M1429.6 983.7h0M1428.9 996.2h0M1432 985.9h0M1431.3 997.2h0M1433.3 985.8h0M1435.1 989.5h0M1436.5 986.5h0M1437.6 997.9h0M1439.6 986.2h0M1438.5 990.3h0M1442.6 986.1h0M1441.5 991.6h0M1444.2 984.8h0M1445.6 990h0M1443.7 996.7h0M1447.1 985.4h0M1448 990h0M1446.6 988h0M1449.6 985h0M1448.8 986.1h0M1449 996.4h0M1452.4 986.1h0M1452.1 994h0M1455.4 987h0M1454.7 998.5h0M1457.3 979.8h0M1457.8 988.6h0M1459.9 986.4h0M1459.3 989.9h0M1462.7 983.9h0M1462.6 991.5h0M1462.6 987h0M1465.5 982.5h0M1465.9 991.5h0M1465.4 987.8h0M1468 982.7h0M1467 991.2h0M1468.9 985.2h0M1470.5 984.8h0M1470.9 991.1h0M1470.8 991.8h0M1472.4 983.7h0M1473.6 988.3h0M1474 989.9h0M1475 982.1h0M1476.5 991.3h0M1474.7 984.6h0M1477.4 979.8h0M1476.9 980h0M1478.7 983.2h0M1479.8 982.6h0M1481.9 991.3h0M1480.5 995.1h0M1482.8 983.2h0M1483.3 992.9h0M1483.7 991.7h0M1484.9 983.1h0M1485.6 987.9h0M1486.4 995.4h0M1489 980h0M1487.2 987.3h0M1489.2 991.3h0M1491.4 980.2h0M1491.2 991.1h0M1490.7 984.9h0M1493.6 972.3h0M1492.8 984.5h0M1494.5 986.7h0M1496.7 982.9h0M1495 983.6h0M1497 989.3h0M1499.2 982h0M1499.6 987.8h0M1498.5 994.4h0M1500.7 977.8h0M1501.9 994.2h0M1500.7 994.2h0M1503.8 981.5h0M1503.1 993.9h0M1504.2 983.4h0M1506.2 981.8h0M1507.8 992.7h0M1506.2 985.7h0M1509.9 980h0M1509.2 990.1h0M1509.1 990.3h0M1512.2 980.7h0M1511.7 981.5h0M1512.5 980.9h0M1514.4 981.5h0M1515.4 993h0M1514.7 994.2h0M1518.1 984.3h0M1517.7 988.6h0M1516.7 996.6h0M1520.5 983.5h0M1520.9 987.1h0M1519.8 986.3h0M1521.7 984.7h0M1521.6 992.1h0M1522.4 986.5h0M1525.8 984.6h0M1526 995.1h0M1525.8 990.8h0M1527.5 984.4h0M1527.9 996.1h0M1526.6 987.4h0M1530 976.5h0M1531.2 984.2h0M1530.1 993h0M1533.4 981.2h0M1531.5 994.9h0M1531.8 992h0M1534.7 982.3h0M1534.5 982.9h0M1534.8 984.1h0M1538.7 979.3h0M1538.1 984.5h0M1538.2 988.8h0M1541.3 981.9h0M1541.6 987.6h0M1540.8 991.6h0M1543.2 978.9h0M1543.9 992.1h0M1543.8 986.8h0M1545.5 977.9h0M1547 992.7h0M1544.8 985.4h0M1547.9 978h0M1547.6 990.7h0M1547.5 984.9h0M1550.3 978.2h0M1551.7 992.6h0M1550.9 992.8h0M1554.3 971.7h0M1554.4 985.6h0M1552.8 984.7h0M1556.8 975.9h0M1554.9 980.4h0M1556.6 977.6h0M1558.5 978.3h0M1558.5 982.1h0M1558.8 985h0M1561.4 978.6h0M1561.3 992.2h0M1560.2 991.1h0M1563.3 976.7h0M1564.7 987h0M1563.1 991.5h0M1567.2 975.3h0M1567.1 977.3h0M1566.3 984.3h0M1569.2 967.4h0M1568.9 982.5h0M1569.8 979.4h0M1571.8 978.5h0M1572 989h0M1571 979.3h0M1575 978.9h0M1574.3 991.1h0M1573.9 979.1h0M1577.5 980.3h0M1577.4 987.3h0M1576.7 982.1h0M1580.1 977.7h0M1579.4 992.3h0M1580.1 989.4h0M1581.3 974.8h0M1583.4 983.5h0M1581 989.7h0M1583.7 966.6h0M1585.4 984.8h0M1583.5 984.6h0M1586.6 974.1h0M1587.2 982.6h0M1587.4 981.5h0M1590.5 975.1h0M1588.7 975.9h0M1589.2 975.9h0M1591.5 975h0M1593.4 979.4h0M1593.5 977.7h0M1595.5 967.6h0M1594.4 983.3h0M1595.1 980h0M1340.3 1020.5h0M1343.5 1020.3h0M1346.7 1020.5h0M1349.9 1020.2h0M1353.1 1020.7h0M1356.3 1020.5h0M1359.5 1020.5h0M1362.7 1020.6h0M1365.9 1020.2h0M1369.1 1020.8h0M1372.3 1020.2h0M1375.5 1020.3h0M1378.7 1020.7h0M1381.9 1020.4h0M1385.1 1020.6h0M1388.3 1020.6h0M1391.5 1020.8h0M1394.7 1020.2h0M1397.9 1020.3h0M1401.1 1020.7h0M1404.3 1020.3h0M1407.5 1020.7h0M1410.7 1020.4h0M1413.9 1020.7h0M1417.1 1020.6h0M1420.3 1020.3h0M1423.5 1020.2h0M1426.7 1020.3h0M1429.9 1020.8h0M1433.1 1020.4h0M1436.3 1020.3h0M1439.5 1020.3h0M1442.7 1020.4h0M1445.9 1020.7h0M1449.1 1020.7h0M1452.3 1020.6h0M1455.5 1020.7h0M1458.7 1020.7h0M1461.9 1020.3h0M1465.1 1020.4h0M1468.3 1020.8h0M1471.5 1020.6h0M1474.7 1020.5h0M1477.9 1020.7h0M1481.1 1020.6h0M1484.3 1020.7h0M1487.5 1020.2h0M1490.7 1020.7h0M1493.9 1020.5h0M1497.1 1020.6h0M1500.3 1020.3h0M1503.5 1020.6h0M1506.7 1020.7h0M1509.9 1020.6h0M1513.1 1020.5h0M1516.3 1020.3h0M1519.5 1020.7h0M1522.7 1020.8h0M1525.9 1020.2h0M1529.1 1020.7h0M1532.3 1020.7h0M1535.5 1020.2h0M1538.7 1020.2h0M1541.9 1020.5h0M1545.1 1020.6h0M1548.3 1020.4h0M1551.5 1020.4h0M1554.7 1020.8h0M1557.9 1020.6h0M1561.1 1020.7h0M1564.3 1020.4h0M1567.5 1020.7h0M1570.7 1020.6h0M1573.9 1020.7h0M1577.1 1020.6h0M1580.3 1020.8h0M1583.5 1020.4h0M1586.7 1020.7h0M1589.9 1020.5h0M1593.1 1020.5h0M1596.3 1020.5h0M1363.5 965.4h0M1376.2 965.4h0M1398.8 949.1h0M1388.8 967.2h0M1352.6 972.7h0M1582.7 965.4h0M1590.8 964.5h0M1452.2 912.9h0M1454.1 921.1h0M1466.7 923.8h0M1503 925.6h0M1521.1 928.3h0M1470.4 941.9h0M1470.4 951.8h0M1428.7 950.9h0M1435.9 952.8h0M1443.2 939.2h0M1446.8 952.8h0M1453.2 955.5h0M1454.1 961.8h0M1428.7 960.9h0M1443.2 972.7h0M1468.6 961.8h0M1481.2 968.2h0M1540.1 943.7h0M1542.8 950.9h0M1516.6 953.7h0M1522.9 956.4h0M1527.4 960h0M1521.1 964.5h0M1510.2 973.6h0M1517.5 973.6h0M1524.7 973.6h0M1532 969.1h0M1544.6 964.5h0M1553.7 965.4h0M1562.8 970.9h0M1501.2 983.6h0M1488.5 974.5h0" stroke="#283e6e" stroke-width="8.9"/>
<path d="M1450.8 857.1h0M1431.4 909.3h0M1435.9 911.1h0M1441.4 910.2h0M1455 897.5h0M1468.6 909.3h0M1474 914.7h0M1477.6 912.9h0M1470.4 923.8h0M1477.6 929.2h0M1471.3 931h0M1428.7 923.8h0M1438.7 937.4h0M1428.7 943.7h0M1434.1 947.3h0M1443.2 943.7h0M1449.5 948.2h0M1490.3 919.2h0M1495.7 920.1h0M1512 922h0M1526.5 920.1h0M1528.3 927.4h0M1530.1 935.5h0M1531.1 943.7h0M1526.5 950.9h0M1532 952.8h0M1502.1 944.6h0M1469.5 964.5h0M1467.6 975.4h0M1485.8 974.5h0M1408.8 963.6h0M1416.9 960.9h0M1426.9 969.1h0M1393.4 970h0M1441.4 985.4h0M1389.7 998.9h0M1406.1 998.9h0M1410.6 996.2h0M1418.7 1000.8h0M1424.2 1008h0M1523.8 983.6h0M1546.4 979.9h0M1550.1 985.4h0M1539.2 994.4h0M1550.1 1007.1h0M1573.6 1004.4h0M1570 1013.4h0M1571.8 1018h0M1577.2 1013.4h0M1589.9 1013.4h0M1556.4 1018h0M1564.6 1013.4h0" stroke="#2fbcd4" stroke-width="8.5"/>
<path d="M1443.2 875.2h0M1435.9 888.4h0M1430.5 894.8h0M1428.7 897.5h0M1440.5 902.9h0M1428.7 912h0M1431.4 924.7h0M1437.8 929.2h0M1430.5 940.1h0M1454.1 887.5h0M1457.7 890.3h0M1461.3 879.4h0M1463.1 889.3h0M1468.6 897.5h0M1472.2 903.8h0M1478.5 898.4h0M1489.4 900.2h0M1473.1 936.4h0M1483.9 923.8h0M1495.7 909.3h0M1501.2 902.9h0M1506.6 905.7h0M1510.2 901.1h0M1513.8 907.5h0M1519.3 909.3h0M1524.7 911.1h0M1532 903.8h0M1531.1 913.8h0M1533.8 965.4h0M1539.2 968.2h0M1540.1 972.7h0M1541.9 985.4h0M1546.4 989h0M1548.3 997.1h0M1551.9 1003.5h0M1555.5 1005.3h0M1557.3 1012.5h0M1561.8 1013.4h0M1583.6 1012.5h0" stroke="#63bb7a" stroke-width="8.5"/>
<path d="M1458.6 883h0M1445 888.4h0M1468.6 888.4h0M1470.4 893.9h0M1518.9 900.2h0M1532.9 926.5h0M1521.1 944.6h0M1470.7 945.5h0" stroke="#f5a328" stroke-width="8.5"/>
<path d="M1514.7 879h0M1527.4 890.8h0M1523.8 893.9h0M1474 884.3h0" stroke="#e31f2b" stroke-width="8.5"/>
</g>
<line x1="1340.3" y1="920.7" x2="1593.2" y2="920.7" stroke="#111" stroke-width="1.9" stroke-dasharray="3 3"/>
<line x1="1481.8" y1="849.9" x2="1481.8" y2="1028.8" stroke="#e8202a" stroke-width="1.8" stroke-dasharray="3 3"/>
<path clip-path="url(#c20)" d="M1481.8 875.5l10.2 10.2l-10.2 10.2l-10.2 -10.2z" fill="#5d58a6" stroke="#111" stroke-width="1.1"/>
<text x="1344.5" y="916" font-size="21" letter-spacing="-0.3" fill="#111">5 x 10<tspan font-size="13" dy="-8.5">-8</tspan></text>
<text x="1486" y="868.5" font-size="21" fill="#e8202a">rs138349</text>
<rect x="1340.3" y="849.9" width="252.9" height="178.9" fill="none" stroke="#000" stroke-width="1.4"/>
<path d="M1339.6 1029H1593V849.2" fill="none" stroke="#000" stroke-width="2.2"/>
<clipPath id="c21"><rect x="1601.4" y="849.9" width="253.6" height="178.9"/></clipPath>
<rect x="1678.4" y="849.9" width="129.3" height="178.9" fill="#e9eaeb"/>
<g clip-path="url(#c21)" fill="none" stroke-linecap="round">
<path d="M1595.7 1025.0V995.8L1601.7 995.8L1604.3 995.2L1606.9 992.8L1609.5 992.8L1612.1 993.0L1614.7 993.8L1617.3 994.2L1619.9 994.3L1622.5 994.2L1625.1 994.9L1627.7 992.8L1630.3 992.9L1632.9 992.7L1635.5 994.5L1638.1 994.6L1640.7 995.5L1643.3 995.4L1645.9 997.4L1648.5 996.1L1651.1 996.0L1653.7 993.7L1656.3 994.0L1658.9 994.1L1661.5 994.1L1664.1 994.6L1666.7 993.6L1669.3 995.0L1671.9 995.4L1674.5 995.7L1677.1 995.0L1679.7 994.5L1682.3 993.9L1684.9 993.1L1687.5 993.4L1690.1 995.5L1692.7 997.3L1695.3 997.2L1697.9 997.7L1700.5 997.5L1703.1 997.4L1705.7 996.5L1708.3 996.9L1710.9 996.7L1713.5 997.4L1716.1 998.0L1718.7 998.3L1721.3 997.7L1723.9 995.9L1726.5 994.9L1729.1 995.1L1731.7 996.5L1734.3 995.7L1736.9 994.6L1739.5 993.0L1742.1 995.0L1744.7 995.4L1747.3 995.3L1749.9 993.1L1752.5 993.3L1755.1 993.9L1757.7 995.2L1760.3 994.6L1762.9 994.8L1765.5 994.2L1768.1 994.4L1770.7 993.1L1773.3 993.7L1775.9 994.2L1778.5 996.1L1781.1 995.6L1783.7 996.4L1786.3 996.4L1788.9 996.2L1791.5 993.3L1794.1 994.0L1796.7 994.8L1799.3 996.1L1801.9 994.5L1804.5 992.4L1807.1 991.7L1809.7 991.8L1812.3 991.9L1814.9 991.4L1817.5 990.3L1820.1 991.9L1822.7 992.1L1825.3 990.9L1827.9 989.9L1830.5 989.4L1833.1 992.1L1835.7 992.4L1838.3 993.4L1840.9 991.5L1843.5 989.5L1846.1 989.3L1848.7 989.0L1851.3 989.7L1853.9 989.7L1856.5 989.8H1861.7V1025.0z" fill="#283e6e" stroke="none"/>
<path d="M1602.4 983.8h0M1601.7 996.5h0M1601.6 993.8h0M1604.2 982.9h0M1603.5 993.3h0M1603.4 986h0M1607.9 979.6h0M1607.9 985h0M1607.2 992.9h0M1608.7 979.5h0M1609 989h0M1609.2 992.8h0M1611.4 971.3h0M1612.6 987.6h0M1613.2 994h0M1614.9 980.9h0M1615.6 988.8h0M1614 987.6h0M1616.7 981.5h0M1617.4 988.7h0M1617 985.5h0M1619.3 981.6h0M1619 986.7h0M1620 991.8h0M1623.3 981.5h0M1622.4 982.1h0M1622.7 994.7h0M1625.6 982.5h0M1625.9 995.6h0M1626 994.9h0M1627.8 979.6h0M1628.1 988.9h0M1628.1 992.8h0M1631.2 979.6h0M1630.9 984.9h0M1630 980.3h0M1633.9 979.3h0M1632.5 993.3h0M1634.1 983.9h0M1634.9 981.9h0M1634.8 985.3h0M1635.8 989.5h0M1637.5 982h0M1637.6 992h0M1637.2 992.7h0M1640.2 983.3h0M1641.6 994h0M1640.6 995.6h0M1644 979.9h0M1644.4 986.8h0M1644 995.5h0M1646.5 986h0M1645.7 992.3h0M1648 984.2h0M1649.4 991.2h0M1649.2 989.7h0M1650.3 984.1h0M1652.3 987.7h0M1650.7 991.1h0M1652.9 980.8h0M1654.3 985h0M1653.8 994.6h0M1656.8 981.3h0M1655.2 990.5h0M1655.7 994.9h0M1659.1 977.3h0M1658.1 983.3h0M1658.9 988.6h0M1662.4 981.4h0M1661.7 991.3h0M1660.6 989.6h0M1665 982.1h0M1663.3 986.4h0M1663.3 992.3h0M1666.6 980.6h0M1666.5 993.5h0M1666.4 980.9h0M1670.3 982.6h0M1668.9 992.1h0M1668.4 991.4h0M1672.3 979.3h0M1672.6 986.7h0M1671.3 995.2h0M1674.9 983.7h0M1675.1 992.8h0M1673.4 994.2h0M1677.8 982.6h0M1676.9 990.6h0M1677.2 984.1h0M1678.7 981.9h0M1679.1 987.7h0M1680.8 986.7h0M1682.9 974h0M1681.3 989.5h0M1682.8 989.3h0M1685 980h0M1684.4 990.9h0M1685.5 991.9h0M1687.8 973.8h0M1687.3 989.5h0M1687.5 984.3h0M1691 976.1h0M1691 983.7h0M1690.3 996.2h0M1693.4 985.9h0M1692.7 997.2h0M1694.7 985.8h0M1696.5 989.5h0M1697.9 986.5h0M1699 997.9h0M1701 986.2h0M1699.9 990.3h0M1704 986.1h0M1702.9 991.6h0M1705.6 984.8h0M1707 990h0M1705.1 996.7h0M1708.5 985.4h0M1709.4 990h0M1708 988h0M1711 985h0M1710.2 986.1h0M1710.4 996.4h0M1713.8 986.1h0M1713.5 994h0M1716.8 987h0M1716.1 998.5h0M1718.7 979.8h0M1719.2 988.6h0M1721.3 986.4h0M1720.7 989.9h0M1724.1 983.9h0M1724 991.5h0M1724 987h0M1726.9 982.5h0M1727.3 991.5h0M1726.8 987.8h0M1729.4 982.7h0M1728.4 991.2h0M1730.3 985.2h0M1731.9 984.8h0M1732.3 991.1h0M1732.2 991.8h0M1733.8 983.7h0M1735 988.3h0M1735.4 989.9h0M1736.4 982.1h0M1737.9 991.3h0M1736.1 984.6h0M1738.8 979.8h0M1738.3 980h0M1740.1 983.2h0M1741.2 982.6h0M1743.3 991.3h0M1741.9 995.1h0M1744.2 983.2h0M1744.7 992.9h0M1745.1 991.7h0M1746.3 983.1h0M1747 987.9h0M1747.8 995.4h0M1750.4 980h0M1748.6 987.3h0M1750.6 991.3h0M1752.8 980.2h0M1752.6 991.1h0M1752.1 984.9h0M1755 972.3h0M1754.2 984.5h0M1755.9 986.7h0M1758.1 982.9h0M1756.4 983.6h0M1758.4 989.3h0M1760.6 982h0M1761 987.8h0M1759.9 994.4h0M1762.1 977.8h0M1763.3 994.2h0M1762.1 994.2h0M1765.2 981.5h0M1764.5 993.9h0M1765.6 983.4h0M1767.6 981.8h0M1769.2 992.7h0M1767.6 985.7h0M1771.3 980h0M1770.6 990.1h0M1770.5 990.3h0M1773.6 980.7h0M1773.1 981.5h0M1773.9 980.9h0M1775.8 981.5h0M1776.8 993h0M1776.1 994.2h0M1779.5 984.3h0M1779.1 988.6h0M1778.1 996.6h0M1781.9 983.5h0M1782.3 987.1h0M1781.2 986.3h0M1783.1 984.7h0M1783 992.1h0M1783.8 986.5h0M1787.2 984.6h0M1787.4 995.1h0M1787.2 990.8h0M1788.9 984.4h0M1789.3 996.1h0M1788 987.4h0M1791.4 976.5h0M1792.6 984.2h0M1791.5 993h0M1794.8 981.2h0M1792.9 994.9h0M1793.2 992h0M1796.1 982.3h0M1795.9 982.9h0M1796.2 984.1h0M1800.1 979.3h0M1799.5 984.5h0M1799.6 988.8h0M1802.7 981.9h0M1803 987.6h0M1802.2 991.6h0M1804.6 978.9h0M1805.3 992.1h0M1805.2 986.8h0M1806.9 977.9h0M1808.4 992.7h0M1806.2 985.4h0M1809.3 978h0M1809 990.7h0M1808.9 984.9h0M1811.7 978.2h0M1813.1 992.6h0M1812.3 992.8h0M1815.7 971.7h0M1815.8 985.6h0M1814.2 984.7h0M1818.2 975.9h0M1816.3 980.4h0M1818 977.6h0M1819.9 978.3h0M1819.9 982.1h0M1820.2 985h0M1822.8 978.6h0M1822.7 992.2h0M1821.6 991.1h0M1824.7 976.7h0M1826.1 987h0M1824.5 991.5h0M1828.6 975.3h0M1828.5 977.3h0M1827.7 984.3h0M1830.6 967.4h0M1830.3 982.5h0M1831.2 979.4h0M1833.2 978.5h0M1833.4 989h0M1832.4 979.3h0M1836.4 978.9h0M1835.7 991.1h0M1835.3 979.1h0M1838.9 980.3h0M1838.8 987.3h0M1838.1 982.1h0M1841.5 977.7h0M1840.8 992.3h0M1841.5 989.4h0M1842.7 974.8h0M1844.8 983.5h0M1842.4 989.7h0M1845.1 966.6h0M1846.8 984.8h0M1844.9 984.6h0M1848 974.1h0M1848.6 982.6h0M1848.8 981.5h0M1851.9 975.1h0M1850.1 975.9h0M1850.6 975.9h0M1852.9 975h0M1854.8 979.4h0M1854.9 977.7h0M1856.9 967.6h0M1855.8 983.3h0M1856.5 980h0M1601.7 1020.5h0M1604.9 1020.3h0M1608.1 1020.5h0M1611.3 1020.2h0M1614.5 1020.7h0M1617.7 1020.5h0M1620.9 1020.5h0M1624.1 1020.6h0M1627.3 1020.2h0M1630.5 1020.8h0M1633.7 1020.2h0M1636.9 1020.3h0M1640.1 1020.7h0M1643.3 1020.4h0M1646.5 1020.6h0M1649.7 1020.6h0M1652.9 1020.8h0M1656.1 1020.2h0M1659.3 1020.3h0M1662.5 1020.7h0M1665.7 1020.3h0M1668.9 1020.7h0M1672.1 1020.4h0M1675.3 1020.7h0M1678.5 1020.6h0M1681.7 1020.3h0M1684.9 1020.2h0M1688.1 1020.3h0M1691.3 1020.8h0M1694.5 1020.4h0M1697.7 1020.3h0M1700.9 1020.3h0M1704.1 1020.4h0M1707.3 1020.7h0M1710.5 1020.7h0M1713.7 1020.6h0M1716.9 1020.7h0M1720.1 1020.7h0M1723.3 1020.3h0M1726.5 1020.4h0M1729.7 1020.8h0M1732.9 1020.6h0M1736.1 1020.5h0M1739.3 1020.7h0M1742.5 1020.6h0M1745.7 1020.7h0M1748.9 1020.2h0M1752.1 1020.7h0M1755.3 1020.5h0M1758.5 1020.6h0M1761.7 1020.3h0M1764.9 1020.6h0M1768.1 1020.7h0M1771.3 1020.6h0M1774.5 1020.5h0M1777.7 1020.3h0M1780.9 1020.7h0M1784.1 1020.8h0M1787.3 1020.2h0M1790.5 1020.7h0M1793.7 1020.7h0M1796.9 1020.2h0M1800.1 1020.2h0M1803.3 1020.5h0M1806.5 1020.6h0M1809.7 1020.4h0M1812.9 1020.4h0M1816.1 1020.8h0M1819.3 1020.6h0M1822.5 1020.7h0M1825.7 1020.4h0M1828.9 1020.7h0M1832.1 1020.6h0M1835.3 1020.7h0M1838.5 1020.6h0M1841.7 1020.8h0M1844.9 1020.4h0M1848.1 1020.7h0M1851.3 1020.5h0M1854.5 1020.5h0M1857.7 1020.5h0M1624.9 965.4h0M1637.6 965.4h0M1660.2 949.1h0M1650.2 967.2h0M1614 972.7h0M1844.1 965.4h0M1852.2 964.5h0M1713.6 912.9h0M1715.5 921.1h0M1728.1 923.8h0M1764.4 925.6h0M1782.5 928.3h0M1731.8 941.9h0M1731.8 951.8h0M1690.1 950.9h0M1697.3 952.8h0M1704.6 939.2h0M1708.2 952.8h0M1714.6 955.5h0M1715.5 961.8h0M1690.1 960.9h0M1704.6 972.7h0M1730 961.8h0M1742.6 968.2h0M1801.5 943.7h0M1804.2 950.9h0M1778 953.7h0M1784.3 956.4h0M1788.8 960h0M1782.5 964.5h0M1771.6 973.6h0M1778.9 973.6h0M1786.1 973.6h0M1793.4 969.1h0M1806 964.5h0M1815.1 965.4h0M1824.2 970.9h0M1762.6 983.6h0M1749.9 974.5h0" stroke="#283e6e" stroke-width="8.9"/>
<path d="M1712.2 857.1h0M1692.8 909.3h0M1697.3 911.1h0M1702.8 910.2h0M1716.4 897.5h0M1730 909.3h0M1735.4 914.7h0M1739 912.9h0M1731.8 923.8h0M1739 929.2h0M1732.7 931h0M1690.1 923.8h0M1700.1 937.4h0M1690.1 943.7h0M1695.5 947.3h0M1704.6 943.7h0M1710.9 948.2h0M1751.7 919.2h0M1757.1 920.1h0M1773.4 922h0M1787.9 920.1h0M1789.7 927.4h0M1791.5 935.5h0M1792.5 943.7h0M1787.9 950.9h0M1793.4 952.8h0M1763.5 944.6h0M1730.9 964.5h0M1729 975.4h0M1747.2 974.5h0M1670.2 963.6h0M1678.3 960.9h0M1688.3 969.1h0M1654.8 970h0M1702.8 985.4h0M1651.1 998.9h0M1667.5 998.9h0M1672 996.2h0M1680.1 1000.8h0M1685.6 1008h0M1785.2 983.6h0M1807.8 979.9h0M1811.5 985.4h0M1800.6 994.4h0M1811.5 1007.1h0M1835 1004.4h0M1831.4 1013.4h0M1833.2 1018h0M1838.6 1013.4h0M1851.3 1013.4h0M1817.8 1018h0M1826 1013.4h0" stroke="#2fbcd4" stroke-width="8.5"/>
<path d="M1704.6 875.2h0M1697.3 888.4h0M1691.9 894.8h0M1690.1 897.5h0M1701.9 902.9h0M1690.1 912h0M1692.8 924.7h0M1699.2 929.2h0M1691.9 940.1h0M1715.5 887.5h0M1719.1 890.3h0M1722.7 879.4h0M1724.5 889.3h0M1730 897.5h0M1733.6 903.8h0M1739.9 898.4h0M1750.8 900.2h0M1734.5 936.4h0M1745.3 923.8h0M1757.1 909.3h0M1762.6 902.9h0M1768 905.7h0M1771.6 901.1h0M1775.2 907.5h0M1780.7 909.3h0M1786.1 911.1h0M1793.4 903.8h0M1792.5 913.8h0M1795.2 965.4h0M1800.6 968.2h0M1801.5 972.7h0M1803.3 985.4h0M1807.8 989h0M1809.7 997.1h0M1813.3 1003.5h0M1816.9 1005.3h0M1818.7 1012.5h0M1823.2 1013.4h0M1845 1012.5h0" stroke="#63bb7a" stroke-width="8.5"/>
<path d="M1720 883h0M1706.4 888.4h0M1730 888.4h0M1731.8 893.9h0M1780.3 900.2h0M1794.3 926.5h0M1782.5 944.6h0M1732.1 945.5h0" stroke="#f5a328" stroke-width="8.5"/>
<path d="M1776.1 879h0M1788.8 890.8h0M1785.2 893.9h0M1735.4 884.3h0" stroke="#e31f2b" stroke-width="8.5"/>
</g>
<line x1="1601.4" y1="920.7" x2="1855" y2="920.7" stroke="#111" stroke-width="1.9" stroke-dasharray="3 3"/>
<line x1="1743.4" y1="849.9" x2="1743.4" y2="1028.8" stroke="#e8202a" stroke-width="1.8" stroke-dasharray="3 3"/>
<path clip-path="url(#c21)" d="M1743.4 875.5l10.2 10.2l-10.2 10.2l-10.2 -10.2z" fill="#5d58a6" stroke="#111" stroke-width="1.1"/>
<text x="1606.8" y="916" font-size="21" letter-spacing="-0.3" fill="#111">5 x 10<tspan font-size="13" dy="-8.5">-8</tspan></text>
<text x="1749" y="868.5" font-size="21" fill="#e8202a">rs138349</text>
<rect x="1601.4" y="849.9" width="253.6" height="178.9" fill="none" stroke="#000" stroke-width="1.4"/>
<path d="M1600.7 1029H1854.8V849.2" fill="none" stroke="#000" stroke-width="2.2"/>
<rect x="1280.3" y="1036.3" width="60" height="180" fill="#d1d2d4"/>
<text x="1318.7" y="1126" font-size="25.32" letter-spacing="-0.72" text-anchor="middle" transform="rotate(-90 1318.7 1126)">PP</text>
<path d="M1261.7 1044.3h18.6M1261.7 1077.1h18.6M1261.7 1109.9h18.6M1261.7 1142.6h18.6M1261.7 1175.4h18.6M1261.7 1208.1h18.6" stroke="#303030" stroke-width="2.9" fill="none"/>
<text x="1258.3" y="1052" font-size="21.5" text-anchor="end">0.5</text>
<text x="1258.3" y="1084.8" font-size="21.5" text-anchor="end">0.4</text>
<text x="1258.3" y="1117.6" font-size="21.5" text-anchor="end">0.3</text>
<text x="1258.3" y="1150.3" font-size="21.5" text-anchor="end">0.2</text>
<text x="1258.3" y="1183.1" font-size="21.5" text-anchor="end">0.1</text>
<text x="1258.3" y="1215.8" font-size="21.5" text-anchor="end">0.0</text>
<clipPath id="c22"><rect x="1340.3" y="1037" width="252.9" height="178"/></clipPath>
<rect x="1417.3" y="1037" width="129.1" height="178" fill="#e9eaeb"/>
<g clip-path="url(#c22)" fill="none" stroke-linecap="round">
<path d="M1340.3 1208.1h0M1342.3 1208.1h0M1344.3 1208.1h0M1346.3 1208.1h0M1348.3 1208.1h0M1350.3 1208.1h0M1352.3 1208.1h0M1354.3 1208.1h0M1356.3 1208.1h0M1358.3 1208.1h0M1360.3 1208.1h0M1362.3 1208.1h0M1364.3 1208.1h0M1366.3 1208.1h0M1368.3 1208.1h0M1370.3 1208.1h0M1372.3 1208.1h0M1374.3 1208.1h0M1376.3 1208.1h0M1378.3 1208.1h0M1380.3 1208.1h0M1382.3 1208.1h0M1384.3 1208.1h0M1386.3 1208.1h0M1388.3 1208.1h0M1390.3 1208.1h0M1392.3 1208.1h0M1394.3 1208.1h0M1396.3 1208.1h0M1398.3 1208.1h0M1400.3 1208.1h0M1402.3 1208.1h0M1404.3 1208.1h0M1406.3 1208.1h0M1408.3 1208.1h0M1410.3 1208.1h0M1412.3 1208.1h0M1414.3 1208.1h0M1416.3 1208.1h0M1418.3 1208.1h0M1420.3 1208.1h0M1422.3 1208.1h0M1424.3 1208.1h0M1426.3 1208.1h0M1428.3 1208.1h0M1430.3 1208.1h0M1432.3 1208.1h0M1434.3 1208.1h0M1436.3 1208.1h0M1438.3 1208.1h0M1440.3 1208.1h0M1442.3 1208.1h0M1444.3 1208.1h0M1446.3 1208.1h0M1448.3 1208.1h0M1450.3 1208.1h0M1452.3 1208.1h0M1454.3 1208.1h0M1456.3 1208.1h0M1458.3 1208.1h0M1460.3 1208.1h0M1462.3 1208.1h0M1464.3 1208.1h0M1466.3 1208.1h0M1468.3 1208.1h0M1470.3 1208.1h0M1472.3 1208.1h0M1474.3 1208.1h0M1476.3 1208.1h0M1478.3 1208.1h0M1480.3 1208.1h0M1482.3 1208.1h0M1484.3 1208.1h0M1486.3 1208.1h0M1488.3 1208.1h0M1490.3 1208.1h0M1492.3 1208.1h0M1494.3 1208.1h0M1496.3 1208.1h0M1498.3 1208.1h0M1500.3 1208.1h0M1502.3 1208.1h0M1504.3 1208.1h0M1506.3 1208.1h0M1508.3 1208.1h0M1510.3 1208.1h0M1512.3 1208.1h0M1514.3 1208.1h0M1516.3 1208.1h0M1518.3 1208.1h0M1520.3 1208.1h0M1522.3 1208.1h0M1524.3 1208.1h0M1526.3 1208.1h0M1528.3 1208.1h0M1530.3 1208.1h0M1532.3 1208.1h0M1534.3 1208.1h0M1536.3 1208.1h0M1538.3 1208.1h0M1540.3 1208.1h0M1542.3 1208.1h0M1544.3 1208.1h0M1546.3 1208.1h0M1548.3 1208.1h0M1550.3 1208.1h0M1552.3 1208.1h0M1554.3 1208.1h0M1556.3 1208.1h0M1558.3 1208.1h0M1560.3 1208.1h0M1562.3 1208.1h0M1564.3 1208.1h0M1566.3 1208.1h0M1568.3 1208.1h0M1570.3 1208.1h0M1572.3 1208.1h0M1574.3 1208.1h0M1576.3 1208.1h0M1578.3 1208.1h0M1580.3 1208.1h0M1582.3 1208.1h0M1584.3 1208.1h0M1586.3 1208.1h0M1588.3 1208.1h0M1590.3 1208.1h0M1592.3 1208.1h0M1594.3 1208.1h0M1596.3 1208.1h0M1474 1140.6h0M1481.3 1147.5h0M1488 1160.8h0M1523.8 1192.6h0M1528 1205h0M1459 1206h0M1465 1205.5h0M1470 1206h0" stroke="#0a0a0a" stroke-width="8.8"/>
</g>
<line x1="1481.8" y1="1037" x2="1481.8" y2="1215" stroke="#e8202a" stroke-width="1.3" stroke-dasharray="3 3"/>
<path clip-path="url(#c22)" d="M1481.8 1128.8l10.2 10.2l-10.2 10.2l-10.2 -10.2z" fill="#5d58a6" stroke="#111" stroke-width="1.1"/>
<text x="1368" y="1131" font-size="21" fill="#e8202a">rs138349</text>
<rect x="1340.3" y="1037" width="252.9" height="178" fill="none" stroke="#000" stroke-width="1.4"/>
<path d="M1339.6 1215.2H1593V1036.3" fill="none" stroke="#000" stroke-width="2.2"/>
<clipPath id="c23"><rect x="1601.4" y="1037" width="253.6" height="178"/></clipPath>
<rect x="1678.4" y="1037" width="129.3" height="178" fill="#e9eaeb"/>
<g clip-path="url(#c23)" fill="none" stroke-linecap="round">
<path d="M1601.7 1208.1h0M1603.7 1208.1h0M1605.7 1208.1h0M1607.7 1208.1h0M1609.7 1208.1h0M1611.7 1208.1h0M1613.7 1208.1h0M1615.7 1208.1h0M1617.7 1208.1h0M1619.7 1208.1h0M1621.7 1208.1h0M1623.7 1208.1h0M1625.7 1208.1h0M1627.7 1208.1h0M1629.7 1208.1h0M1631.7 1208.1h0M1633.7 1208.1h0M1635.7 1208.1h0M1637.7 1208.1h0M1639.7 1208.1h0M1641.7 1208.1h0M1643.7 1208.1h0M1645.7 1208.1h0M1647.7 1208.1h0M1649.7 1208.1h0M1651.7 1208.1h0M1653.7 1208.1h0M1655.7 1208.1h0M1657.7 1208.1h0M1659.7 1208.1h0M1661.7 1208.1h0M1663.7 1208.1h0M1665.7 1208.1h0M1667.7 1208.1h0M1669.7 1208.1h0M1671.7 1208.1h0M1673.7 1208.1h0M1675.7 1208.1h0M1677.7 1208.1h0M1679.7 1208.1h0M1681.7 1208.1h0M1683.7 1208.1h0M1685.7 1208.1h0M1687.7 1208.1h0M1689.7 1208.1h0M1691.7 1208.1h0M1693.7 1208.1h0M1695.7 1208.1h0M1697.7 1208.1h0M1699.7 1208.1h0M1701.7 1208.1h0M1703.7 1208.1h0M1705.7 1208.1h0M1707.7 1208.1h0M1709.7 1208.1h0M1711.7 1208.1h0M1713.7 1208.1h0M1715.7 1208.1h0M1717.7 1208.1h0M1719.7 1208.1h0M1721.7 1208.1h0M1723.7 1208.1h0M1725.7 1208.1h0M1727.7 1208.1h0M1729.7 1208.1h0M1731.7 1208.1h0M1733.7 1208.1h0M1735.7 1208.1h0M1737.7 1208.1h0M1739.7 1208.1h0M1741.7 1208.1h0M1743.7 1208.1h0M1745.7 1208.1h0M1747.7 1208.1h0M1749.7 1208.1h0M1751.7 1208.1h0M1753.7 1208.1h0M1755.7 1208.1h0M1757.7 1208.1h0M1759.7 1208.1h0M1761.7 1208.1h0M1763.7 1208.1h0M1765.7 1208.1h0M1767.7 1208.1h0M1769.7 1208.1h0M1771.7 1208.1h0M1773.7 1208.1h0M1775.7 1208.1h0M1777.7 1208.1h0M1779.7 1208.1h0M1781.7 1208.1h0M1783.7 1208.1h0M1785.7 1208.1h0M1787.7 1208.1h0M1789.7 1208.1h0M1791.7 1208.1h0M1793.7 1208.1h0M1795.7 1208.1h0M1797.7 1208.1h0M1799.7 1208.1h0M1801.7 1208.1h0M1803.7 1208.1h0M1805.7 1208.1h0M1807.7 1208.1h0M1809.7 1208.1h0M1811.7 1208.1h0M1813.7 1208.1h0M1815.7 1208.1h0M1817.7 1208.1h0M1819.7 1208.1h0M1821.7 1208.1h0M1823.7 1208.1h0M1825.7 1208.1h0M1827.7 1208.1h0M1829.7 1208.1h0M1831.7 1208.1h0M1833.7 1208.1h0M1835.7 1208.1h0M1837.7 1208.1h0M1839.7 1208.1h0M1841.7 1208.1h0M1843.7 1208.1h0M1845.7 1208.1h0M1847.7 1208.1h0M1849.7 1208.1h0M1851.7 1208.1h0M1853.7 1208.1h0M1855.7 1208.1h0M1857.7 1208.1h0M1735.4 1140.6h0M1742.7 1147.5h0M1749.4 1160.8h0M1785.2 1192.6h0M1789.4 1205h0M1720.4 1206h0M1726.4 1205.5h0M1731.4 1206h0" stroke="#0a0a0a" stroke-width="8.8"/>
</g>
<line x1="1743.4" y1="1037" x2="1743.4" y2="1215" stroke="#e8202a" stroke-width="1.3" stroke-dasharray="3 3"/>
<path clip-path="url(#c23)" d="M1743.4 1128.8l10.2 10.2l-10.2 10.2l-10.2 -10.2z" fill="#5d58a6" stroke="#111" stroke-width="1.1"/>
<text x="1634" y="1131" font-size="21" fill="#e8202a">rs138349</text>
<rect x="1601.4" y="1037" width="253.6" height="178" fill="none" stroke="#000" stroke-width="1.4"/>
<path d="M1600.7 1215.2H1854.8V1036.3" fill="none" stroke="#000" stroke-width="2.2"/>
<path d="M1339.8 1215v18.5M1402.8 1215v18.5M1466.5 1215v18.5M1529.8 1215v18.5" stroke="#303030" stroke-width="2.9" fill="none"/>
<text x="1339.8" y="1253" font-size="21.3" text-anchor="middle">40.8</text>
<text x="1402.8" y="1253" font-size="21.3" text-anchor="middle">41.0</text>
<text x="1466.5" y="1253" font-size="21.3" text-anchor="middle">41.2</text>
<text x="1529.8" y="1253" font-size="21.3" text-anchor="middle">41.4</text>
<path d="M1600.8 1215v18.5M1663.6 1215v18.5M1727 1215v18.5M1790.6 1215v18.5" stroke="#303030" stroke-width="2.9" fill="none"/>
<text x="1600.8" y="1253" font-size="21.3" text-anchor="middle">40.8</text>
<text x="1663.6" y="1253" font-size="21.3" text-anchor="middle">41.0</text>
<text x="1727" y="1253" font-size="21.3" text-anchor="middle">41.2</text>
<text x="1790.6" y="1253" font-size="21.3" text-anchor="middle">41.4</text>
<text x="1597" y="1291.5" font-size="28.06" letter-spacing="-0.80" text-anchor="middle">chr22 Position (Mb)</text>
<linearGradient id="g1" x1="0" y1="0" x2="0" y2="1"><stop offset="0" stop-color="#2d6565"/><stop offset="1" stop-color="#c9cacc"/></linearGradient>
<text x="1888.3" y="126" font-size="18.6">LD (r<tspan font-size="12" dy="-7">2</tspan><tspan dy="7">)</tspan></text>
<rect x="1887.4" y="139.1" width="23.1" height="118.1" fill="url(#g1)" stroke="#555" stroke-width="0.8"/>
<path d="M1887.4 168.6h4M1910.5 168.6h-4M1887.4 198.1h4M1910.5 198.1h-4M1887.4 227.7h4M1910.5 227.7h-4" stroke="#444" stroke-width="0.8" fill="none"/>
<text x="1913" y="148.8" font-size="13.5" fill="#111">1</text>
<text x="1913" y="173.3" font-size="13.5" fill="#111">0.75</text>
<text x="1913" y="205.3" font-size="13.5" fill="#111">0.50</text>
<text x="1913" y="232.3" font-size="13.5" fill="#111">0.25</text>
<text x="1913" y="257.8" font-size="13.5" fill="#111">0</text>
<linearGradient id="g2" x1="0" y1="0" x2="0" y2="1"><stop offset="0" stop-color="#477ea8"/><stop offset="1" stop-color="#c9cacc"/></linearGradient>
<text x="1891.6" y="307.1" font-size="18.6">LD (r<tspan font-size="12" dy="-7">2</tspan><tspan dy="7">)</tspan></text>
<rect x="1888.8" y="319.6" width="22.8" height="114.3" fill="url(#g2)" stroke="#555" stroke-width="0.8"/>
<path d="M1888.8 348.2h4M1911.6 348.2h-4M1888.8 376.8h4M1911.6 376.8h-4M1888.8 405.3h4M1911.6 405.3h-4" stroke="#444" stroke-width="0.8" fill="none"/>
<text x="1914.1" y="327.8" font-size="13.5" fill="#111">1</text>
<text x="1914.1" y="351.8" font-size="13.5" fill="#111">0.75</text>
<text x="1914.1" y="384.3" font-size="13.5" fill="#111">0.50</text>
<text x="1914.1" y="412.3" font-size="13.5" fill="#111">0.25</text>
<text x="1914.1" y="436.3" font-size="13.5" fill="#111">0</text>
<linearGradient id="g3" x1="0" y1="0" x2="0" y2="1"><stop offset="0" stop-color="#f5bd60"/><stop offset="1" stop-color="#c9cacc"/></linearGradient>
<text x="1888.8" y="493" font-size="18.6">LD (r<tspan font-size="12" dy="-7">2</tspan><tspan dy="7">)</tspan></text>
<rect x="1889.1" y="506" width="22" height="114.5" fill="url(#g3)" stroke="#555" stroke-width="0.8"/>
<path d="M1889.1 534.6h4M1911.1 534.6h-4M1889.1 563.2h4M1911.1 563.2h-4M1889.1 591.9h4M1911.1 591.9h-4" stroke="#444" stroke-width="0.8" fill="none"/>
<text x="1913.6" y="512.8" font-size="13.5" fill="#111">1</text>
<text x="1913.6" y="537.3" font-size="13.5" fill="#111">0.75</text>
<text x="1913.6" y="569.8" font-size="13.5" fill="#111">0.50</text>
<text x="1913.6" y="597.2" font-size="13.5" fill="#111">0.25</text>
<text x="1913.6" y="622.1" font-size="13.5" fill="#111">0</text>
<text x="1894.3" y="693.3" font-size="18.6">LD (r<tspan font-size="12" dy="-7">2</tspan><tspan dy="7">)</tspan></text>
<rect x="1890.4" y="703.3" width="17.8" height="123.6" fill="#f3f3f3"/>
<circle cx="1899.5" cy="713.7" r="3.9" fill="#27406f"/>
<text x="1919" y="720.9" font-size="20.4">0-0.2</text>
<circle cx="1899.5" cy="734.3" r="3.9" fill="#3cbdd3"/>
<text x="1919" y="741.5" font-size="20.4">0.2-0.4</text>
<circle cx="1899.5" cy="754.9" r="3.9" fill="#66bb7b"/>
<text x="1919" y="762.1" font-size="20.4">0.4-0.6</text>
<circle cx="1899.5" cy="775.5" r="3.9" fill="#f5a32a"/>
<text x="1919" y="782.7" font-size="20.4">0.6-0.8</text>
<circle cx="1899.5" cy="796.1" r="3.9" fill="#e3202b"/>
<text x="1919" y="803.3" font-size="20.4">0.8-1</text>
<circle cx="1899.5" cy="816.7" r="3.9" fill="#6a5fad"/>
<text x="1919" y="823.9" font-size="20.4">Lead</text>
</svg></body></html>
